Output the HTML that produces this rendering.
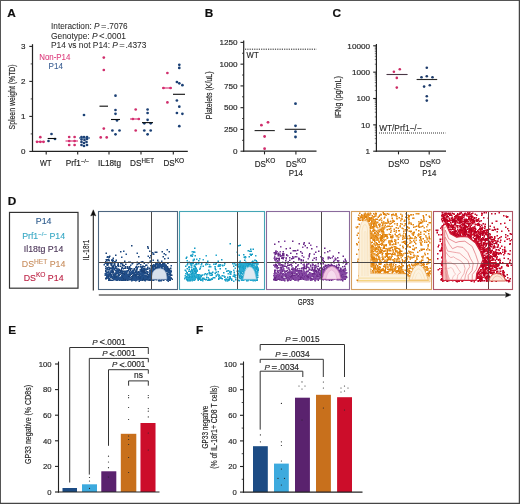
<!DOCTYPE html>
<html><head><meta charset="utf-8"><style>
html,body{margin:0;padding:0;background:#fff;}
svg{display:block;}
text{font-family:"Liberation Sans", sans-serif;}
</style></head><body>
<svg width="520" height="504" viewBox="0 0 520 504">
<defs><filter id="soft" x="0" y="0" width="100%" height="100%"><feGaussianBlur stdDeviation="0.3"/></filter></defs>
<rect width="520" height="504" fill="#fff"/>
<g filter="url(#soft)">
<path d="M0,0.5 H520 M0.5,0 V504" stroke="#555" stroke-width="1" fill="none"/><path d="M519.4,0 V504 M0,503.35 H520" stroke="#454545" stroke-width="1.3" fill="none"/>
<text x="7.3" y="17.2" font-size="11.8" font-weight="bold" fill="#111" stroke="#111" stroke-width="0.2">A</text>
<text x="204.8" y="17.2" font-size="11.8" font-weight="bold" fill="#111" stroke="#111" stroke-width="0.2">B</text>
<text x="332.6" y="17.2" font-size="11.8" font-weight="bold" fill="#111" stroke="#111" stroke-width="0.2">C</text>
<text x="7.8" y="204.6" font-size="11.8" font-weight="bold" fill="#111" stroke="#111" stroke-width="0.2">D</text>
<text x="8.2" y="333.6" font-size="11.8" font-weight="bold" fill="#111" stroke="#111" stroke-width="0.2">E</text>
<text x="196" y="333.6" font-size="11.8" font-weight="bold" fill="#111" stroke="#111" stroke-width="0.2">F</text>
<line x1="32.5" y1="44.2" x2="32.5" y2="152.0" stroke="#222" stroke-width="1.2" />
<line x1="31.9" y1="151.4" x2="187.8" y2="151.4" stroke="#222" stroke-width="1.2" />
<line x1="29.3" y1="151.4" x2="32.5" y2="151.4" stroke="#222" stroke-width="1.1" />
<text transform="translate(25.4,154.20000000000002)" font-size="8" text-anchor="end" fill="#262626" stroke="#262626" stroke-width="0.16" >0</text>
<line x1="29.3" y1="116.4" x2="32.5" y2="116.4" stroke="#222" stroke-width="1.1" />
<text transform="translate(25.4,119.2)" font-size="8" text-anchor="end" fill="#262626" stroke="#262626" stroke-width="0.16" >1</text>
<line x1="29.3" y1="81.4" x2="32.5" y2="81.4" stroke="#222" stroke-width="1.1" />
<text transform="translate(25.4,84.2)" font-size="8" text-anchor="end" fill="#262626" stroke="#262626" stroke-width="0.16" >2</text>
<line x1="29.3" y1="46.400000000000006" x2="32.5" y2="46.400000000000006" stroke="#222" stroke-width="1.1" />
<text transform="translate(25.4,49.2)" font-size="8" text-anchor="end" fill="#262626" stroke="#262626" stroke-width="0.16" >3</text>
<line x1="30.7" y1="133.9" x2="32.5" y2="133.9" stroke="#222" stroke-width="0.8" />
<line x1="30.7" y1="98.9" x2="32.5" y2="98.9" stroke="#222" stroke-width="0.8" />
<line x1="30.7" y1="63.900000000000006" x2="32.5" y2="63.900000000000006" stroke="#222" stroke-width="0.8" />
<line x1="46.2" y1="151.4" x2="46.2" y2="154.6" stroke="#222" stroke-width="1.1" />
<line x1="77.7" y1="151.4" x2="77.7" y2="154.6" stroke="#222" stroke-width="1.1" />
<line x1="109" y1="151.4" x2="109" y2="154.6" stroke="#222" stroke-width="1.1" />
<line x1="141" y1="151.4" x2="141" y2="154.6" stroke="#222" stroke-width="1.1" />
<line x1="173.3" y1="151.4" x2="173.3" y2="154.6" stroke="#222" stroke-width="1.1" />
<text transform="translate(45.8,166.4)" font-size="8.6" text-anchor="middle" fill="#262626" stroke="#262626" stroke-width="0.16" textLength="11.4" lengthAdjust="spacingAndGlyphs" >WT</text>
<text transform="translate(77.5,166.4)" font-size="8.6" text-anchor="middle" fill="#262626" stroke="#262626" stroke-width="0.16" textLength="23.5" lengthAdjust="spacingAndGlyphs" >Prf1<tspan font-size="6" dy="-3.2">−/−</tspan></text>
<text transform="translate(109.5,166.4)" font-size="8.6" text-anchor="middle" fill="#262626" stroke="#262626" stroke-width="0.16" textLength="23" lengthAdjust="spacingAndGlyphs" >IL18tg</text>
<text transform="translate(142,166.4)" font-size="8.6" text-anchor="middle" fill="#262626" stroke="#262626" stroke-width="0.16" textLength="23.8" lengthAdjust="spacingAndGlyphs" >DS<tspan font-size="6.5" dy="-3.2">HET</tspan></text>
<text transform="translate(173.8,166.4)" font-size="8.6" text-anchor="middle" fill="#262626" stroke="#262626" stroke-width="0.16" textLength="20.8" lengthAdjust="spacingAndGlyphs" >DS<tspan font-size="7" dy="-3.2">KO</tspan></text>
<text transform="translate(15.2,96.9) rotate(-90)" font-size="8.6" text-anchor="middle" fill="#262626" stroke="#262626" stroke-width="0.16" textLength="65" lengthAdjust="spacingAndGlyphs" >Spleen weight (%TD)</text>
<text transform="translate(51,28.9)" font-size="8.5" text-anchor="start" fill="#2a2a2a" stroke="#2a2a2a" stroke-width="0.05" textLength="76.7" lengthAdjust="spacingAndGlyphs" >Interaction: <tspan font-style="italic">P</tspan><tspan font-size="9.6" dx="1.5">=</tspan><tspan dx="0.6">.7076</tspan></text>
<text transform="translate(51,38.8)" font-size="8.5" text-anchor="start" fill="#2a2a2a" stroke="#2a2a2a" stroke-width="0.05" textLength="75" lengthAdjust="spacingAndGlyphs" >Genotype: <tspan font-style="italic">P</tspan><tspan font-size="9.6" dx="1.5">&lt;</tspan><tspan dx="0.4">.0001</tspan></text>
<text transform="translate(51,48.4)" font-size="8.5" text-anchor="start" fill="#2a2a2a" stroke="#2a2a2a" stroke-width="0.05" textLength="95.4" lengthAdjust="spacingAndGlyphs" >P14 vs not P14: <tspan font-style="italic">P</tspan><tspan font-size="9.6" dx="1.5">=</tspan><tspan dx="0.6">.4373</tspan></text>
<text transform="translate(39.2,59.9)" font-size="8.4" text-anchor="start" fill="#dc3f7e" stroke="#dc3f7e" stroke-width="0.1" textLength="31.2" lengthAdjust="spacingAndGlyphs" >Non-P14</text>
<text transform="translate(48.6,69.2)" font-size="8.4" text-anchor="start" fill="#3a5f92" stroke="#3a5f92" stroke-width="0.1" textLength="14.4" lengthAdjust="spacingAndGlyphs" >P14</text>
<circle cx="40.3" cy="137.2" r="1.35" fill="#d02e6c"/>
<circle cx="37.0" cy="141.8" r="1.35" fill="#d02e6c"/>
<circle cx="40.3" cy="141.8" r="1.35" fill="#d02e6c"/>
<circle cx="43.5" cy="141.8" r="1.35" fill="#d02e6c"/>
<circle cx="69.2" cy="137.0" r="1.35" fill="#d02e6c"/>
<circle cx="74.6" cy="137.0" r="1.35" fill="#d02e6c"/>
<circle cx="69.2" cy="141.0" r="1.35" fill="#d02e6c"/>
<circle cx="74.6" cy="141.0" r="1.35" fill="#d02e6c"/>
<circle cx="69.2" cy="145.0" r="1.35" fill="#d02e6c"/>
<circle cx="74.6" cy="145.0" r="1.35" fill="#d02e6c"/>
<circle cx="103.8" cy="57.6" r="1.35" fill="#d02e6c"/>
<circle cx="103.8" cy="70.0" r="1.35" fill="#d02e6c"/>
<circle cx="103.8" cy="128.6" r="1.35" fill="#d02e6c"/>
<circle cx="100.7" cy="137.4" r="1.35" fill="#d02e6c"/>
<circle cx="106.7" cy="137.4" r="1.35" fill="#d02e6c"/>
<circle cx="135.7" cy="109.5" r="1.35" fill="#d02e6c"/>
<circle cx="132.9" cy="119.0" r="1.35" fill="#d02e6c"/>
<circle cx="138.8" cy="119.0" r="1.35" fill="#d02e6c"/>
<circle cx="135.7" cy="130.5" r="1.35" fill="#d02e6c"/>
<circle cx="167.4" cy="73.0" r="1.35" fill="#d02e6c"/>
<circle cx="163.5" cy="88.0" r="1.35" fill="#d02e6c"/>
<circle cx="170.5" cy="88.0" r="1.35" fill="#d02e6c"/>
<circle cx="167.4" cy="102.4" r="1.35" fill="#d02e6c"/>
<circle cx="51.5" cy="134.0" r="1.35" fill="#1a3f74"/>
<circle cx="48.5" cy="141.0" r="1.35" fill="#1a3f74"/>
<circle cx="55.0" cy="139.0" r="1.35" fill="#1a3f74"/>
<circle cx="84.0" cy="115.0" r="1.35" fill="#1a3f74"/>
<circle cx="81.5" cy="137.0" r="1.35" fill="#1a3f74"/>
<circle cx="84.0" cy="137.0" r="1.35" fill="#1a3f74"/>
<circle cx="87.0" cy="137.0" r="1.35" fill="#1a3f74"/>
<circle cx="81.5" cy="139.5" r="1.35" fill="#1a3f74"/>
<circle cx="84.5" cy="140.0" r="1.35" fill="#1a3f74"/>
<circle cx="87.0" cy="139.0" r="1.35" fill="#1a3f74"/>
<circle cx="81.5" cy="142.0" r="1.35" fill="#1a3f74"/>
<circle cx="84.0" cy="143.0" r="1.35" fill="#1a3f74"/>
<circle cx="86.5" cy="142.0" r="1.35" fill="#1a3f74"/>
<circle cx="81.5" cy="145.0" r="1.35" fill="#1a3f74"/>
<circle cx="84.0" cy="146.0" r="1.35" fill="#1a3f74"/>
<circle cx="87.0" cy="145.0" r="1.35" fill="#1a3f74"/>
<circle cx="115.5" cy="95.7" r="1.35" fill="#1a3f74"/>
<circle cx="115.5" cy="110.0" r="1.35" fill="#1a3f74"/>
<circle cx="115.5" cy="113.8" r="1.35" fill="#1a3f74"/>
<circle cx="117.0" cy="120.5" r="1.35" fill="#1a3f74"/>
<circle cx="112.4" cy="130.5" r="1.35" fill="#1a3f74"/>
<circle cx="119.5" cy="130.5" r="1.35" fill="#1a3f74"/>
<circle cx="115.5" cy="134.3" r="1.35" fill="#1a3f74"/>
<circle cx="147.6" cy="109.5" r="1.35" fill="#1a3f74"/>
<circle cx="147.6" cy="113.0" r="1.35" fill="#1a3f74"/>
<circle cx="147.6" cy="119.8" r="1.35" fill="#1a3f74"/>
<circle cx="144.3" cy="123.3" r="1.35" fill="#1a3f74"/>
<circle cx="150.7" cy="123.3" r="1.35" fill="#1a3f74"/>
<circle cx="144.3" cy="130.5" r="1.35" fill="#1a3f74"/>
<circle cx="150.7" cy="130.5" r="1.35" fill="#1a3f74"/>
<circle cx="147.6" cy="134.3" r="1.35" fill="#1a3f74"/>
<circle cx="179.3" cy="64.8" r="1.35" fill="#1a3f74"/>
<circle cx="179.3" cy="67.9" r="1.35" fill="#1a3f74"/>
<circle cx="176.9" cy="82.0" r="1.35" fill="#1a3f74"/>
<circle cx="179.3" cy="83.3" r="1.35" fill="#1a3f74"/>
<circle cx="182.4" cy="85.2" r="1.35" fill="#1a3f74"/>
<circle cx="176.9" cy="100.5" r="1.35" fill="#1a3f74"/>
<circle cx="179.3" cy="106.7" r="1.35" fill="#1a3f74"/>
<circle cx="176.9" cy="113.0" r="1.35" fill="#1a3f74"/>
<circle cx="182.4" cy="113.8" r="1.35" fill="#1a3f74"/>
<circle cx="179.3" cy="126.2" r="1.35" fill="#1a3f74"/>
<line x1="36.2" y1="141.8" x2="44.6" y2="141.8" stroke="#d92e74" stroke-width="1.1" />
<line x1="47.7" y1="138.5" x2="56.2" y2="138.5" stroke="#111" stroke-width="1.1" />
<line x1="65.5" y1="141" x2="78" y2="141" stroke="#d92e74" stroke-width="1.1" />
<line x1="79" y1="138" x2="90" y2="138" stroke="#1d4b82" stroke-width="1.1" />
<line x1="99.5" y1="106.2" x2="108" y2="106.2" stroke="#111" stroke-width="1.1" />
<line x1="111" y1="119.5" x2="120" y2="119.5" stroke="#111" stroke-width="1.1" />
<line x1="130" y1="119" x2="140" y2="119" stroke="#d92e74" stroke-width="1.1" />
<line x1="142" y1="122.6" x2="153" y2="122.6" stroke="#111" stroke-width="1.1" />
<line x1="162" y1="88" x2="172" y2="88" stroke="#d92e74" stroke-width="1.1" />
<line x1="173" y1="94.3" x2="185" y2="94.3" stroke="#111" stroke-width="1.1" />
<line x1="243.7" y1="40.5" x2="243.7" y2="151.79999999999998" stroke="#222" stroke-width="1.2" />
<line x1="243.1" y1="151.2" x2="316.5" y2="151.2" stroke="#222" stroke-width="1.2" />
<line x1="240.5" y1="151.2" x2="243.7" y2="151.2" stroke="#222" stroke-width="1.1" />
<text transform="translate(237.6,154.0) scale(1.05,1)" font-size="7.8" text-anchor="end" fill="#262626" stroke="#262626" stroke-width="0.16" >0</text>
<line x1="240.5" y1="129.44" x2="243.7" y2="129.44" stroke="#222" stroke-width="1.1" />
<text transform="translate(237.6,132.24) scale(1.05,1)" font-size="7.8" text-anchor="end" fill="#262626" stroke="#262626" stroke-width="0.16" >250</text>
<line x1="240.5" y1="107.67999999999999" x2="243.7" y2="107.67999999999999" stroke="#222" stroke-width="1.1" />
<text transform="translate(237.6,110.47999999999999) scale(1.05,1)" font-size="7.8" text-anchor="end" fill="#262626" stroke="#262626" stroke-width="0.16" >500</text>
<line x1="240.5" y1="85.91999999999999" x2="243.7" y2="85.91999999999999" stroke="#222" stroke-width="1.1" />
<text transform="translate(237.6,88.71999999999998) scale(1.05,1)" font-size="7.8" text-anchor="end" fill="#262626" stroke="#262626" stroke-width="0.16" >750</text>
<line x1="240.5" y1="64.16" x2="243.7" y2="64.16" stroke="#222" stroke-width="1.1" />
<text transform="translate(237.6,66.96) scale(1.05,1)" font-size="7.8" text-anchor="end" fill="#262626" stroke="#262626" stroke-width="0.16" >1000</text>
<line x1="240.5" y1="42.39999999999999" x2="243.7" y2="42.39999999999999" stroke="#222" stroke-width="1.1" />
<text transform="translate(237.6,45.19999999999999) scale(1.05,1)" font-size="7.8" text-anchor="end" fill="#262626" stroke="#262626" stroke-width="0.16" >1250</text>
<line x1="242.1" y1="140.32" x2="243.7" y2="140.32" stroke="#222" stroke-width="0.9" />
<line x1="242.1" y1="118.55999999999999" x2="243.7" y2="118.55999999999999" stroke="#222" stroke-width="0.9" />
<line x1="242.1" y1="96.79999999999998" x2="243.7" y2="96.79999999999998" stroke="#222" stroke-width="0.9" />
<line x1="242.1" y1="75.03999999999999" x2="243.7" y2="75.03999999999999" stroke="#222" stroke-width="0.9" />
<line x1="242.1" y1="53.28" x2="243.7" y2="53.28" stroke="#222" stroke-width="0.9" />
<line x1="264.5" y1="151.2" x2="264.5" y2="154.39999999999998" stroke="#222" stroke-width="1.1" />
<line x1="295.9" y1="151.2" x2="295.9" y2="154.39999999999998" stroke="#222" stroke-width="1.1" />
<line x1="245" y1="49.2" x2="316.5" y2="49.2" stroke="#222" stroke-width="1" stroke-dasharray="1.2,1.1"/>
<text transform="translate(246.6,57.8)" font-size="8.4" text-anchor="start" fill="#262626" stroke="#262626" stroke-width="0.16" textLength="12" lengthAdjust="spacingAndGlyphs" >WT</text>
<text transform="translate(265,166.6)" font-size="8.6" text-anchor="middle" fill="#262626" stroke="#262626" stroke-width="0.16" textLength="20.6" lengthAdjust="spacingAndGlyphs" >DS<tspan font-size="7" dy="-3.2">KO</tspan></text>
<text transform="translate(296.1,166.6)" font-size="8.6" text-anchor="middle" fill="#262626" stroke="#262626" stroke-width="0.16" textLength="20.2" lengthAdjust="spacingAndGlyphs" >DS<tspan font-size="7" dy="-3.2">KO</tspan></text>
<text transform="translate(295.8,175.9)" font-size="8.5" text-anchor="middle" fill="#262626" stroke="#262626" stroke-width="0.16" textLength="14.2" lengthAdjust="spacingAndGlyphs" >P14</text>
<text transform="translate(212,95.4) rotate(-90)" font-size="9" text-anchor="middle" fill="#262626" stroke="#262626" stroke-width="0.16" textLength="47.7" lengthAdjust="spacingAndGlyphs" >Platelets (K/uL)</text>
<circle cx="261.4" cy="125.2" r="1.4" fill="#d02e6c"/>
<circle cx="268.0" cy="122.3" r="1.4" fill="#d02e6c"/>
<circle cx="264.6" cy="136.5" r="1.4" fill="#d02e6c"/>
<circle cx="264.6" cy="148.7" r="1.4" fill="#d02e6c"/>
<circle cx="295.5" cy="103.7" r="1.4" fill="#1a3f74"/>
<circle cx="295.5" cy="125.8" r="1.4" fill="#1a3f74"/>
<circle cx="295.5" cy="131.7" r="1.4" fill="#1a3f74"/>
<circle cx="295.5" cy="137.0" r="1.4" fill="#1a3f74"/>
<line x1="254.6" y1="130.6" x2="274.8" y2="130.6" stroke="#222" stroke-width="1.1" />
<line x1="284.8" y1="129.3" x2="305.8" y2="129.3" stroke="#222" stroke-width="1.1" />
<line x1="376.4" y1="44" x2="376.4" y2="151.79999999999998" stroke="#222" stroke-width="1.2" />
<line x1="375.79999999999995" y1="151.2" x2="446" y2="151.2" stroke="#222" stroke-width="1.2" />
<line x1="373.2" y1="151.2" x2="376.4" y2="151.2" stroke="#222" stroke-width="1.1" />
<text transform="translate(370.1,154.0) scale(1.05,1)" font-size="7.8" text-anchor="end" fill="#262626" stroke="#262626" stroke-width="0.16" >1</text>
<line x1="373.2" y1="124.85" x2="376.4" y2="124.85" stroke="#222" stroke-width="1.1" />
<text transform="translate(370.1,127.64999999999999) scale(1.05,1)" font-size="7.8" text-anchor="end" fill="#262626" stroke="#262626" stroke-width="0.16" >10</text>
<line x1="373.2" y1="98.49999999999999" x2="376.4" y2="98.49999999999999" stroke="#222" stroke-width="1.1" />
<text transform="translate(370.1,101.29999999999998) scale(1.05,1)" font-size="7.8" text-anchor="end" fill="#262626" stroke="#262626" stroke-width="0.16" >100</text>
<line x1="373.2" y1="72.14999999999998" x2="376.4" y2="72.14999999999998" stroke="#222" stroke-width="1.1" />
<text transform="translate(370.1,74.94999999999997) scale(1.05,1)" font-size="7.8" text-anchor="end" fill="#262626" stroke="#262626" stroke-width="0.16" >1000</text>
<line x1="373.2" y1="45.79999999999998" x2="376.4" y2="45.79999999999998" stroke="#222" stroke-width="1.1" />
<text transform="translate(370.1,48.59999999999998) scale(1.05,1)" font-size="7.8" text-anchor="end" fill="#262626" stroke="#262626" stroke-width="0.16" >10000</text>
<line x1="374.79999999999995" y1="143.2678596142541" x2="376.4" y2="143.2678596142541" stroke="#222" stroke-width="0.6" />
<line x1="374.79999999999995" y1="138.6278549381369" x2="376.4" y2="138.6278549381369" stroke="#222" stroke-width="0.6" />
<line x1="374.79999999999995" y1="135.33571922850817" x2="376.4" y2="135.33571922850817" stroke="#222" stroke-width="0.6" />
<line x1="374.79999999999995" y1="132.7821403857459" x2="376.4" y2="132.7821403857459" stroke="#222" stroke-width="0.6" />
<line x1="374.79999999999995" y1="130.69571455239097" x2="376.4" y2="130.69571455239097" stroke="#222" stroke-width="0.6" />
<line x1="374.79999999999995" y1="128.93166664562432" x2="376.4" y2="128.93166664562432" stroke="#222" stroke-width="0.6" />
<line x1="374.79999999999995" y1="127.40357884276227" x2="376.4" y2="127.40357884276227" stroke="#222" stroke-width="0.6" />
<line x1="374.79999999999995" y1="126.05570987627378" x2="376.4" y2="126.05570987627378" stroke="#222" stroke-width="0.6" />
<line x1="374.79999999999995" y1="116.91785961425408" x2="376.4" y2="116.91785961425408" stroke="#222" stroke-width="0.6" />
<line x1="374.79999999999995" y1="112.27785493813688" x2="376.4" y2="112.27785493813688" stroke="#222" stroke-width="0.6" />
<line x1="374.79999999999995" y1="108.98571922850817" x2="376.4" y2="108.98571922850817" stroke="#222" stroke-width="0.6" />
<line x1="374.79999999999995" y1="106.4321403857459" x2="376.4" y2="106.4321403857459" stroke="#222" stroke-width="0.6" />
<line x1="374.79999999999995" y1="104.34571455239097" x2="376.4" y2="104.34571455239097" stroke="#222" stroke-width="0.6" />
<line x1="374.79999999999995" y1="102.58166664562432" x2="376.4" y2="102.58166664562432" stroke="#222" stroke-width="0.6" />
<line x1="374.79999999999995" y1="101.05357884276228" x2="376.4" y2="101.05357884276228" stroke="#222" stroke-width="0.6" />
<line x1="374.79999999999995" y1="99.70570987627377" x2="376.4" y2="99.70570987627377" stroke="#222" stroke-width="0.6" />
<line x1="374.79999999999995" y1="90.56785961425408" x2="376.4" y2="90.56785961425408" stroke="#222" stroke-width="0.6" />
<line x1="374.79999999999995" y1="85.92785493813687" x2="376.4" y2="85.92785493813687" stroke="#222" stroke-width="0.6" />
<line x1="374.79999999999995" y1="82.63571922850818" x2="376.4" y2="82.63571922850818" stroke="#222" stroke-width="0.6" />
<line x1="374.79999999999995" y1="80.08214038574589" x2="376.4" y2="80.08214038574589" stroke="#222" stroke-width="0.6" />
<line x1="374.79999999999995" y1="77.99571455239096" x2="376.4" y2="77.99571455239096" stroke="#222" stroke-width="0.6" />
<line x1="374.79999999999995" y1="76.23166664562432" x2="376.4" y2="76.23166664562432" stroke="#222" stroke-width="0.6" />
<line x1="374.79999999999995" y1="74.70357884276227" x2="376.4" y2="74.70357884276227" stroke="#222" stroke-width="0.6" />
<line x1="374.79999999999995" y1="73.35570987627378" x2="376.4" y2="73.35570987627378" stroke="#222" stroke-width="0.6" />
<line x1="374.79999999999995" y1="64.21785961425408" x2="376.4" y2="64.21785961425408" stroke="#222" stroke-width="0.6" />
<line x1="374.79999999999995" y1="59.57785493813688" x2="376.4" y2="59.57785493813688" stroke="#222" stroke-width="0.6" />
<line x1="374.79999999999995" y1="56.28571922850817" x2="376.4" y2="56.28571922850817" stroke="#222" stroke-width="0.6" />
<line x1="374.79999999999995" y1="53.73214038574589" x2="376.4" y2="53.73214038574589" stroke="#222" stroke-width="0.6" />
<line x1="374.79999999999995" y1="51.64571455239097" x2="376.4" y2="51.64571455239097" stroke="#222" stroke-width="0.6" />
<line x1="374.79999999999995" y1="49.88166664562431" x2="376.4" y2="49.88166664562431" stroke="#222" stroke-width="0.6" />
<line x1="374.79999999999995" y1="48.35357884276226" x2="376.4" y2="48.35357884276226" stroke="#222" stroke-width="0.6" />
<line x1="374.79999999999995" y1="47.00570987627377" x2="376.4" y2="47.00570987627377" stroke="#222" stroke-width="0.6" />
<line x1="398.5" y1="151.2" x2="398.5" y2="154.39999999999998" stroke="#222" stroke-width="1.1" />
<line x1="429.2" y1="151.2" x2="429.2" y2="154.39999999999998" stroke="#222" stroke-width="1.1" />
<line x1="379" y1="133" x2="445.4" y2="133" stroke="#333" stroke-width="1" stroke-dasharray="1,1"/>
<text transform="translate(379.2,130.8)" font-size="8.8" text-anchor="start" fill="#262626" stroke="#262626" stroke-width="0.1" textLength="42.3" lengthAdjust="spacingAndGlyphs" >WT/Prf1−/−</text>
<text transform="translate(398.7,166.5)" font-size="8.8" text-anchor="middle" fill="#262626" stroke="#262626" stroke-width="0.16" textLength="21" lengthAdjust="spacingAndGlyphs" >DS<tspan font-size="7" dy="-2.8">KO</tspan></text>
<text transform="translate(430.2,166.5)" font-size="8.8" text-anchor="middle" fill="#262626" stroke="#262626" stroke-width="0.16" textLength="21" lengthAdjust="spacingAndGlyphs" >DS<tspan font-size="7" dy="-2.8">KO</tspan></text>
<text transform="translate(429.3,176.2)" font-size="8.5" text-anchor="middle" fill="#262626" stroke="#262626" stroke-width="0.16" textLength="13.9" lengthAdjust="spacingAndGlyphs" >P14</text>
<text transform="translate(340.5,97.1) rotate(-90)" font-size="9" text-anchor="middle" fill="#262626" stroke="#262626" stroke-width="0.16" textLength="41.7" lengthAdjust="spacingAndGlyphs" >IFNg (pg/mL)</text>
<circle cx="393.9" cy="71.8" r="1.3" fill="#cc2a64"/>
<circle cx="399.8" cy="69.2" r="1.3" fill="#cc2a64"/>
<circle cx="396.8" cy="77.9" r="1.3" fill="#cc2a64"/>
<circle cx="396.8" cy="87.6" r="1.3" fill="#cc2a64"/>
<circle cx="426.8" cy="67.8" r="1.3" fill="#1c3a6a"/>
<circle cx="421.5" cy="77.2" r="1.3" fill="#1c3a6a"/>
<circle cx="426.8" cy="76.2" r="1.3" fill="#1c3a6a"/>
<circle cx="432.5" cy="77.2" r="1.3" fill="#1c3a6a"/>
<circle cx="424.1" cy="86.6" r="1.3" fill="#1c3a6a"/>
<circle cx="429.8" cy="85.3" r="1.3" fill="#1c3a6a"/>
<circle cx="426.8" cy="96.3" r="1.3" fill="#1c3a6a"/>
<circle cx="426.8" cy="100.6" r="1.3" fill="#1c3a6a"/>
<line x1="386.5" y1="74.5" x2="407.6" y2="74.5" stroke="#4a3844" stroke-width="1.1" />
<line x1="416.6" y1="79.5" x2="437.2" y2="79.5" stroke="#2a2a2a" stroke-width="1.1" />
<rect x="9.5" y="212.4" width="68.5" height="75.8" fill="none" stroke="#333" stroke-width="1.2"/>
<text transform="translate(43.6,224.4)" font-size="8.8" text-anchor="middle" fill="#2d5a8c" stroke="#2d5a8c" stroke-width="0.12" >P14</text>
<text transform="translate(43.6,238.8)" font-size="8.8" text-anchor="middle" fill="#38a8c4" stroke="#38a8c4" stroke-width="0.12" >Prf1<tspan font-size="6" dy="-3.3">−/−</tspan><tspan dy="3.3"> P14</tspan></text>
<text transform="translate(43.6,251.6)" font-size="8.8" text-anchor="middle" fill="#4b3558" stroke="#4b3558" stroke-width="0.12" >Il18tg P14</text>
<text transform="translate(43.6,267)" font-size="8.8" text-anchor="middle" fill="#c88e5e" stroke="#c88e5e" stroke-width="0.12" >DS<tspan font-size="6.6" dy="-3.3">HET</tspan><tspan dy="3.3"> P14</tspan></text>
<text transform="translate(43.6,280.7)" font-size="8.8" text-anchor="middle" fill="#bc2244" stroke="#bc2244" stroke-width="0.12" >DS<tspan font-size="6.6" dy="-3.3">KO</tspan><tspan dy="3.3"> P14</tspan></text>
<line x1="93.3" y1="214" x2="93.3" y2="290.5" stroke="#222" stroke-width="1.1" />
<path d="M93.3,209.8 L95.9,216 L93.3,214.9 L90.7,216 Z" fill="#111" stroke="#111" stroke-width="0.4"/>
<line x1="98.8" y1="294.9" x2="507" y2="294.9" stroke="#666" stroke-width="1.5" />
<path d="M511,294.9 L505.4,292.5 L506.4,294.9 L505.4,297.3 Z" fill="#111" stroke="#111" stroke-width="0.4"/>
<text transform="translate(89.2,250) rotate(-90)" font-size="9" text-anchor="middle" fill="#262626" stroke="#262626" stroke-width="0.15" textLength="20.5" lengthAdjust="spacingAndGlyphs" >IL-18r1</text>
<text transform="translate(305.8,304.8)" font-size="8.5" text-anchor="middle" fill="#262626" stroke="#262626" stroke-width="0.2" textLength="16" lengthAdjust="spacingAndGlyphs" >GP33</text>
<defs><filter id="bl" x="-5%" y="-5%" width="110%" height="110%"><feGaussianBlur stdDeviation="0.3"/></filter></defs>
<g filter="url(#bl)" transform="scale(0.5)">
<path d="M262 490h3v3h-3zM294 492h3v3h-3zM295 495h3v3h-3zM298 501h3v3h-3zM240 502h3v3h-3zM323 502h3v3h-3zM337 502h3v3h-3zM309 503h3v3h-3zM312 503h3v3h-3zM211 505h3v3h-3zM327 506h3v3h-3zM305 507h3v3h-3zM230 509h3v3h-3zM218 511h3v3h-3zM214 512h3v3h-3zM214 512h3v3h-3zM276 512h3v3h-3zM325 512h3v3h-3zM217 513h3v3h-3zM298 514h3v3h-3zM225 515h3v3h-3zM328 516h3v3h-3zM216 517h3v3h-3zM211 518h3v3h-3zM213 518h3v3h-3zM212 519h3v3h-3zM216 519h3v3h-3zM222 519h3v3h-3zM225 519h3v3h-3zM231 519h3v3h-3zM314 519h3v3h-3zM223 520h3v3h-3zM248 521h3v3h-3zM299 521h3v3h-3zM210 522h3v3h-3zM283 522h3v3h-3zM224 523h3v3h-3zM256 523h3v3h-3zM259 523h3v3h-3zM273 523h3v3h-3zM281 523h3v3h-3zM285 523h3v3h-3zM314 523h3v3h-3zM210 524h3v3h-3zM213 524h3v3h-3zM217 524h3v3h-3zM225 524h3v3h-3zM295 524h3v3h-3zM335 524h3v3h-3zM209 525h3v3h-3zM213 525h3v3h-3zM287 525h3v3h-3zM317 525h3v3h-3zM319 525h3v3h-3zM324 525h3v3h-3zM334 525h3v3h-3zM212 526h3v3h-3zM215 526h3v3h-3zM220 526h3v3h-3zM222 526h3v3h-3zM228 526h3v3h-3zM235 526h3v3h-3zM263 526h3v3h-3zM276 526h3v3h-3zM312 526h3v3h-3zM312 526h3v3h-3zM317 526h3v3h-3zM327 526h3v3h-3zM244 527h3v3h-3zM250 527h3v3h-3zM273 527h3v3h-3zM314 527h3v3h-3zM319 527h3v3h-3zM325 527h3v3h-3zM328 527h3v3h-3zM228 528h3v3h-3zM235 528h3v3h-3zM310 528h3v3h-3zM311 528h3v3h-3zM313 528h3v3h-3zM321 528h3v3h-3zM321 528h3v3h-3zM322 528h3v3h-3zM322 528h3v3h-3zM325 528h3v3h-3zM326 528h3v3h-3zM213 529h3v3h-3zM214 529h3v3h-3zM221 529h3v3h-3zM222 529h3v3h-3zM234 529h3v3h-3zM292 529h3v3h-3zM302 529h3v3h-3zM307 529h3v3h-3zM309 529h3v3h-3zM322 529h3v3h-3zM323 529h3v3h-3zM325 529h3v3h-3zM326 529h3v3h-3zM331 529h3v3h-3zM244 530h3v3h-3zM247 530h3v3h-3zM304 530h3v3h-3zM314 530h3v3h-3zM321 530h3v3h-3zM324 530h3v3h-3zM325 530h3v3h-3zM329 530h3v3h-3zM330 530h3v3h-3zM223 531h3v3h-3zM229 531h3v3h-3zM236 531h3v3h-3zM240 531h3v3h-3zM272 531h3v3h-3zM284 531h3v3h-3zM285 531h3v3h-3zM303 531h3v3h-3zM317 531h3v3h-3zM320 531h3v3h-3zM322 531h3v3h-3zM325 531h3v3h-3zM326 531h3v3h-3zM327 531h3v3h-3zM328 531h3v3h-3zM331 531h3v3h-3zM223 532h3v3h-3zM223 532h3v3h-3zM225 532h3v3h-3zM250 532h3v3h-3zM254 532h3v3h-3zM258 532h3v3h-3zM276 532h3v3h-3zM280 532h3v3h-3zM286 532h3v3h-3zM288 532h3v3h-3zM305 532h3v3h-3zM307 532h3v3h-3zM309 532h3v3h-3zM313 532h3v3h-3zM314 532h3v3h-3zM315 532h3v3h-3zM317 532h3v3h-3zM322 532h3v3h-3zM323 532h3v3h-3zM324 532h3v3h-3zM326 532h3v3h-3zM331 532h3v3h-3zM332 532h3v3h-3zM332 532h3v3h-3zM333 532h3v3h-3zM216 533h3v3h-3zM270 533h3v3h-3zM283 533h3v3h-3zM304 533h3v3h-3zM310 533h3v3h-3zM315 533h3v3h-3zM318 533h3v3h-3zM322 533h3v3h-3zM329 533h3v3h-3zM332 533h3v3h-3zM332 533h3v3h-3zM334 533h3v3h-3zM213 534h3v3h-3zM217 534h3v3h-3zM218 534h3v3h-3zM224 534h3v3h-3zM230 534h3v3h-3zM243 534h3v3h-3zM281 534h3v3h-3zM313 534h3v3h-3zM322 534h3v3h-3zM328 534h3v3h-3zM328 534h3v3h-3zM334 534h3v3h-3zM334 534h3v3h-3zM217 535h3v3h-3zM221 535h3v3h-3zM227 535h3v3h-3zM242 535h3v3h-3zM247 535h3v3h-3zM250 535h3v3h-3zM254 535h3v3h-3zM258 535h3v3h-3zM297 535h3v3h-3zM297 535h3v3h-3zM301 535h3v3h-3zM304 535h3v3h-3zM304 535h3v3h-3zM313 535h3v3h-3zM315 535h3v3h-3zM330 535h3v3h-3zM332 535h3v3h-3zM340 535h3v3h-3zM210 536h3v3h-3zM217 536h3v3h-3zM219 536h3v3h-3zM225 536h3v3h-3zM232 536h3v3h-3zM257 536h3v3h-3zM260 536h3v3h-3zM262 536h3v3h-3zM267 536h3v3h-3zM273 536h3v3h-3zM273 536h3v3h-3zM285 536h3v3h-3zM288 536h3v3h-3zM309 536h3v3h-3zM312 536h3v3h-3zM323 536h3v3h-3zM327 536h3v3h-3zM327 536h3v3h-3zM329 536h3v3h-3zM329 536h3v3h-3zM330 536h3v3h-3zM335 536h3v3h-3zM336 536h3v3h-3zM223 537h3v3h-3zM227 537h3v3h-3zM233 537h3v3h-3zM236 537h3v3h-3zM267 537h3v3h-3zM268 537h3v3h-3zM272 537h3v3h-3zM282 537h3v3h-3zM294 537h3v3h-3zM305 537h3v3h-3zM306 537h3v3h-3zM312 537h3v3h-3zM320 537h3v3h-3zM322 537h3v3h-3zM331 537h3v3h-3zM334 537h3v3h-3zM335 537h3v3h-3zM337 537h3v3h-3zM213 538h3v3h-3zM217 538h3v3h-3zM237 538h3v3h-3zM241 538h3v3h-3zM267 538h3v3h-3zM280 538h3v3h-3zM287 538h3v3h-3zM305 538h3v3h-3zM305 538h3v3h-3zM306 538h3v3h-3zM312 538h3v3h-3zM313 538h3v3h-3zM319 538h3v3h-3zM328 538h3v3h-3zM328 538h3v3h-3zM329 538h3v3h-3zM329 538h3v3h-3zM329 538h3v3h-3zM335 538h3v3h-3zM336 538h3v3h-3zM229 539h3v3h-3zM236 539h3v3h-3zM237 539h3v3h-3zM259 539h3v3h-3zM265 539h3v3h-3zM284 539h3v3h-3zM288 539h3v3h-3zM299 539h3v3h-3zM300 539h3v3h-3zM302 539h3v3h-3zM305 539h3v3h-3zM309 539h3v3h-3zM309 539h3v3h-3zM313 539h3v3h-3zM322 539h3v3h-3zM323 539h3v3h-3zM324 539h3v3h-3zM330 539h3v3h-3zM334 539h3v3h-3zM337 539h3v3h-3zM210 540h3v3h-3zM221 540h3v3h-3zM224 540h3v3h-3zM234 540h3v3h-3zM239 540h3v3h-3zM241 540h3v3h-3zM242 540h3v3h-3zM255 540h3v3h-3zM271 540h3v3h-3zM272 540h3v3h-3zM282 540h3v3h-3zM286 540h3v3h-3zM287 540h3v3h-3zM298 540h3v3h-3zM300 540h3v3h-3zM301 540h3v3h-3zM301 540h3v3h-3zM303 540h3v3h-3zM305 540h3v3h-3zM305 540h3v3h-3zM310 540h3v3h-3zM314 540h3v3h-3zM315 540h3v3h-3zM332 540h3v3h-3zM333 540h3v3h-3zM337 540h3v3h-3zM338 540h3v3h-3zM210 541h3v3h-3zM221 541h3v3h-3zM225 541h3v3h-3zM231 541h3v3h-3zM244 541h3v3h-3zM247 541h3v3h-3zM248 541h3v3h-3zM249 541h3v3h-3zM269 541h3v3h-3zM269 541h3v3h-3zM271 541h3v3h-3zM272 541h3v3h-3zM280 541h3v3h-3zM287 541h3v3h-3zM291 541h3v3h-3zM301 541h3v3h-3zM303 541h3v3h-3zM303 541h3v3h-3zM307 541h3v3h-3zM325 541h3v3h-3zM329 541h3v3h-3zM330 541h3v3h-3zM331 541h3v3h-3zM332 541h3v3h-3zM336 541h3v3h-3zM341 541h3v3h-3zM223 542h3v3h-3zM234 542h3v3h-3zM235 542h3v3h-3zM240 542h3v3h-3zM245 542h3v3h-3zM246 542h3v3h-3zM248 542h3v3h-3zM250 542h3v3h-3zM258 542h3v3h-3zM265 542h3v3h-3zM276 542h3v3h-3zM282 542h3v3h-3zM285 542h3v3h-3zM287 542h3v3h-3zM293 542h3v3h-3zM293 542h3v3h-3zM299 542h3v3h-3zM300 542h3v3h-3zM302 542h3v3h-3zM306 542h3v3h-3zM306 542h3v3h-3zM308 542h3v3h-3zM316 542h3v3h-3zM335 542h3v3h-3zM338 542h3v3h-3zM339 542h3v3h-3zM340 542h3v3h-3zM212 543h3v3h-3zM219 543h3v3h-3zM221 543h3v3h-3zM225 543h3v3h-3zM237 543h3v3h-3zM240 543h3v3h-3zM241 543h3v3h-3zM248 543h3v3h-3zM262 543h3v3h-3zM273 543h3v3h-3zM285 543h3v3h-3zM288 543h3v3h-3zM289 543h3v3h-3zM294 543h3v3h-3zM300 543h3v3h-3zM302 543h3v3h-3zM307 543h3v3h-3zM314 543h3v3h-3zM321 543h3v3h-3zM321 543h3v3h-3zM322 543h3v3h-3zM322 543h3v3h-3zM322 543h3v3h-3zM327 543h3v3h-3zM327 543h3v3h-3zM329 543h3v3h-3zM335 543h3v3h-3zM215 544h3v3h-3zM224 544h3v3h-3zM234 544h3v3h-3zM235 544h3v3h-3zM241 544h3v3h-3zM244 544h3v3h-3zM252 544h3v3h-3zM264 544h3v3h-3zM268 544h3v3h-3zM269 544h3v3h-3zM270 544h3v3h-3zM275 544h3v3h-3zM300 544h3v3h-3zM303 544h3v3h-3zM306 544h3v3h-3zM307 544h3v3h-3zM309 544h3v3h-3zM312 544h3v3h-3zM315 544h3v3h-3zM318 544h3v3h-3zM323 544h3v3h-3zM326 544h3v3h-3zM337 544h3v3h-3zM338 544h3v3h-3zM212 545h3v3h-3zM229 545h3v3h-3zM231 545h3v3h-3zM234 545h3v3h-3zM248 545h3v3h-3zM248 545h3v3h-3zM261 545h3v3h-3zM262 545h3v3h-3zM265 545h3v3h-3zM279 545h3v3h-3zM279 545h3v3h-3zM282 545h3v3h-3zM282 545h3v3h-3zM289 545h3v3h-3zM293 545h3v3h-3zM298 545h3v3h-3zM300 545h3v3h-3zM301 545h3v3h-3zM301 545h3v3h-3zM319 545h3v3h-3zM319 545h3v3h-3zM321 545h3v3h-3zM321 545h3v3h-3zM322 545h3v3h-3zM332 545h3v3h-3zM338 545h3v3h-3zM338 545h3v3h-3zM339 545h3v3h-3zM212 546h3v3h-3zM218 546h3v3h-3zM219 546h3v3h-3zM231 546h3v3h-3zM242 546h3v3h-3zM243 546h3v3h-3zM245 546h3v3h-3zM250 546h3v3h-3zM251 546h3v3h-3zM262 546h3v3h-3zM267 546h3v3h-3zM268 546h3v3h-3zM272 546h3v3h-3zM278 546h3v3h-3zM285 546h3v3h-3zM285 546h3v3h-3zM287 546h3v3h-3zM288 546h3v3h-3zM288 546h3v3h-3zM292 546h3v3h-3zM300 546h3v3h-3zM301 546h3v3h-3zM301 546h3v3h-3zM301 546h3v3h-3zM302 546h3v3h-3zM303 546h3v3h-3zM305 546h3v3h-3zM308 546h3v3h-3zM310 546h3v3h-3zM319 546h3v3h-3zM320 546h3v3h-3zM321 546h3v3h-3zM321 546h3v3h-3zM321 546h3v3h-3zM321 546h3v3h-3zM323 546h3v3h-3zM330 546h3v3h-3zM330 546h3v3h-3zM330 546h3v3h-3zM333 546h3v3h-3zM339 546h3v3h-3zM217 547h3v3h-3zM225 547h3v3h-3zM227 547h3v3h-3zM236 547h3v3h-3zM239 547h3v3h-3zM250 547h3v3h-3zM250 547h3v3h-3zM256 547h3v3h-3zM260 547h3v3h-3zM261 547h3v3h-3zM273 547h3v3h-3zM277 547h3v3h-3zM279 547h3v3h-3zM280 547h3v3h-3zM284 547h3v3h-3zM284 547h3v3h-3zM294 547h3v3h-3zM298 547h3v3h-3zM299 547h3v3h-3zM304 547h3v3h-3zM315 547h3v3h-3zM317 547h3v3h-3zM321 547h3v3h-3zM333 547h3v3h-3zM333 547h3v3h-3zM334 547h3v3h-3zM338 547h3v3h-3zM339 547h3v3h-3zM340 547h3v3h-3zM211 548h3v3h-3zM216 548h3v3h-3zM219 548h3v3h-3zM220 548h3v3h-3zM221 548h3v3h-3zM226 548h3v3h-3zM228 548h3v3h-3zM246 548h3v3h-3zM248 548h3v3h-3zM248 548h3v3h-3zM249 548h3v3h-3zM255 548h3v3h-3zM258 548h3v3h-3zM266 548h3v3h-3zM267 548h3v3h-3zM271 548h3v3h-3zM276 548h3v3h-3zM277 548h3v3h-3zM278 548h3v3h-3zM279 548h3v3h-3zM283 548h3v3h-3zM284 548h3v3h-3zM284 548h3v3h-3zM295 548h3v3h-3zM316 548h3v3h-3zM328 548h3v3h-3zM329 548h3v3h-3zM329 548h3v3h-3zM332 548h3v3h-3zM337 548h3v3h-3zM209 549h3v3h-3zM209 549h3v3h-3zM211 549h3v3h-3zM212 549h3v3h-3zM215 549h3v3h-3zM215 549h3v3h-3zM216 549h3v3h-3zM217 549h3v3h-3zM227 549h3v3h-3zM230 549h3v3h-3zM237 549h3v3h-3zM252 549h3v3h-3zM254 549h3v3h-3zM256 549h3v3h-3zM265 549h3v3h-3zM268 549h3v3h-3zM281 549h3v3h-3zM282 549h3v3h-3zM283 549h3v3h-3zM284 549h3v3h-3zM296 549h3v3h-3zM298 549h3v3h-3zM300 549h3v3h-3zM301 549h3v3h-3zM303 549h3v3h-3zM304 549h3v3h-3zM310 549h3v3h-3zM325 549h3v3h-3zM328 549h3v3h-3zM331 549h3v3h-3zM333 549h3v3h-3zM342 549h3v3h-3zM213 550h3v3h-3zM215 550h3v3h-3zM215 550h3v3h-3zM217 550h3v3h-3zM235 550h3v3h-3zM242 550h3v3h-3zM249 550h3v3h-3zM251 550h3v3h-3zM251 550h3v3h-3zM251 550h3v3h-3zM264 550h3v3h-3zM277 550h3v3h-3zM281 550h3v3h-3zM284 550h3v3h-3zM284 550h3v3h-3zM288 550h3v3h-3zM291 550h3v3h-3zM295 550h3v3h-3zM296 550h3v3h-3zM297 550h3v3h-3zM298 550h3v3h-3zM302 550h3v3h-3zM305 550h3v3h-3zM306 550h3v3h-3zM314 550h3v3h-3zM316 550h3v3h-3zM317 550h3v3h-3zM319 550h3v3h-3zM320 550h3v3h-3zM329 550h3v3h-3zM330 550h3v3h-3zM339 550h3v3h-3zM339 550h3v3h-3zM213 551h3v3h-3zM214 551h3v3h-3zM215 551h3v3h-3zM222 551h3v3h-3zM224 551h3v3h-3zM224 551h3v3h-3zM230 551h3v3h-3zM231 551h3v3h-3zM233 551h3v3h-3zM246 551h3v3h-3zM247 551h3v3h-3zM248 551h3v3h-3zM249 551h3v3h-3zM252 551h3v3h-3zM254 551h3v3h-3zM256 551h3v3h-3zM258 551h3v3h-3zM267 551h3v3h-3zM267 551h3v3h-3zM269 551h3v3h-3zM272 551h3v3h-3zM282 551h3v3h-3zM284 551h3v3h-3zM284 551h3v3h-3zM285 551h3v3h-3zM286 551h3v3h-3zM287 551h3v3h-3zM291 551h3v3h-3zM293 551h3v3h-3zM297 551h3v3h-3zM299 551h3v3h-3zM300 551h3v3h-3zM300 551h3v3h-3zM302 551h3v3h-3zM309 551h3v3h-3zM315 551h3v3h-3zM317 551h3v3h-3zM318 551h3v3h-3zM319 551h3v3h-3zM325 551h3v3h-3zM331 551h3v3h-3zM331 551h3v3h-3zM335 551h3v3h-3zM335 551h3v3h-3zM213 552h3v3h-3zM215 552h3v3h-3zM222 552h3v3h-3zM223 552h3v3h-3zM224 552h3v3h-3zM228 552h3v3h-3zM230 552h3v3h-3zM232 552h3v3h-3zM232 552h3v3h-3zM245 552h3v3h-3zM249 552h3v3h-3zM250 552h3v3h-3zM252 552h3v3h-3zM254 552h3v3h-3zM257 552h3v3h-3zM262 552h3v3h-3zM264 552h3v3h-3zM265 552h3v3h-3zM268 552h3v3h-3zM270 552h3v3h-3zM273 552h3v3h-3zM274 552h3v3h-3zM275 552h3v3h-3zM276 552h3v3h-3zM280 552h3v3h-3zM282 552h3v3h-3zM283 552h3v3h-3zM283 552h3v3h-3zM284 552h3v3h-3zM284 552h3v3h-3zM285 552h3v3h-3zM290 552h3v3h-3zM290 552h3v3h-3zM295 552h3v3h-3zM295 552h3v3h-3zM297 552h3v3h-3zM300 552h3v3h-3zM301 552h3v3h-3zM311 552h3v3h-3zM314 552h3v3h-3zM314 552h3v3h-3zM315 552h3v3h-3zM320 552h3v3h-3zM329 552h3v3h-3zM330 552h3v3h-3zM336 552h3v3h-3zM212 553h3v3h-3zM216 553h3v3h-3zM220 553h3v3h-3zM221 553h3v3h-3zM221 553h3v3h-3zM227 553h3v3h-3zM229 553h3v3h-3zM232 553h3v3h-3zM232 553h3v3h-3zM235 553h3v3h-3zM235 553h3v3h-3zM241 553h3v3h-3zM242 553h3v3h-3zM245 553h3v3h-3zM252 553h3v3h-3zM253 553h3v3h-3zM254 553h3v3h-3zM254 553h3v3h-3zM256 553h3v3h-3zM256 553h3v3h-3zM257 553h3v3h-3zM263 553h3v3h-3zM266 553h3v3h-3zM268 553h3v3h-3zM272 553h3v3h-3zM277 553h3v3h-3zM279 553h3v3h-3zM280 553h3v3h-3zM282 553h3v3h-3zM286 553h3v3h-3zM290 553h3v3h-3zM290 553h3v3h-3zM292 553h3v3h-3zM293 553h3v3h-3zM294 553h3v3h-3zM296 553h3v3h-3zM315 553h3v3h-3zM317 553h3v3h-3zM317 553h3v3h-3zM319 553h3v3h-3zM321 553h3v3h-3zM321 553h3v3h-3zM212 554h3v3h-3zM212 554h3v3h-3zM213 554h3v3h-3zM213 554h3v3h-3zM213 554h3v3h-3zM214 554h3v3h-3zM215 554h3v3h-3zM225 554h3v3h-3zM225 554h3v3h-3zM227 554h3v3h-3zM233 554h3v3h-3zM236 554h3v3h-3zM238 554h3v3h-3zM238 554h3v3h-3zM248 554h3v3h-3zM253 554h3v3h-3zM255 554h3v3h-3zM259 554h3v3h-3zM268 554h3v3h-3zM273 554h3v3h-3zM276 554h3v3h-3zM276 554h3v3h-3zM277 554h3v3h-3zM278 554h3v3h-3zM279 554h3v3h-3zM280 554h3v3h-3zM283 554h3v3h-3zM284 554h3v3h-3zM285 554h3v3h-3zM287 554h3v3h-3zM289 554h3v3h-3zM290 554h3v3h-3zM290 554h3v3h-3zM291 554h3v3h-3zM291 554h3v3h-3zM299 554h3v3h-3zM303 554h3v3h-3zM307 554h3v3h-3zM310 554h3v3h-3zM311 554h3v3h-3zM314 554h3v3h-3zM315 554h3v3h-3zM317 554h3v3h-3zM319 554h3v3h-3zM321 554h3v3h-3zM336 554h3v3h-3zM336 554h3v3h-3zM338 554h3v3h-3zM340 554h3v3h-3zM210 555h3v3h-3zM211 555h3v3h-3zM215 555h3v3h-3zM216 555h3v3h-3zM223 555h3v3h-3zM226 555h3v3h-3zM232 555h3v3h-3zM238 555h3v3h-3zM238 555h3v3h-3zM238 555h3v3h-3zM239 555h3v3h-3zM239 555h3v3h-3zM239 555h3v3h-3zM245 555h3v3h-3zM248 555h3v3h-3zM250 555h3v3h-3zM254 555h3v3h-3zM254 555h3v3h-3zM256 555h3v3h-3zM264 555h3v3h-3zM265 555h3v3h-3zM266 555h3v3h-3zM268 555h3v3h-3zM268 555h3v3h-3zM270 555h3v3h-3zM272 555h3v3h-3zM275 555h3v3h-3zM275 555h3v3h-3zM283 555h3v3h-3zM283 555h3v3h-3zM287 555h3v3h-3zM288 555h3v3h-3zM289 555h3v3h-3zM290 555h3v3h-3zM295 555h3v3h-3zM313 555h3v3h-3zM314 555h3v3h-3zM316 555h3v3h-3zM317 555h3v3h-3zM319 555h3v3h-3zM319 555h3v3h-3zM330 555h3v3h-3zM332 555h3v3h-3zM334 555h3v3h-3zM336 555h3v3h-3zM336 555h3v3h-3zM341 555h3v3h-3zM210 556h3v3h-3zM211 556h3v3h-3zM218 556h3v3h-3zM226 556h3v3h-3zM227 556h3v3h-3zM235 556h3v3h-3zM239 556h3v3h-3zM250 556h3v3h-3zM252 556h3v3h-3zM254 556h3v3h-3zM254 556h3v3h-3zM255 556h3v3h-3zM261 556h3v3h-3zM266 556h3v3h-3zM276 556h3v3h-3zM278 556h3v3h-3zM279 556h3v3h-3zM282 556h3v3h-3zM285 556h3v3h-3zM286 556h3v3h-3zM294 556h3v3h-3zM300 556h3v3h-3zM300 556h3v3h-3zM304 556h3v3h-3zM311 556h3v3h-3zM316 556h3v3h-3zM317 556h3v3h-3zM319 556h3v3h-3zM322 556h3v3h-3zM324 556h3v3h-3zM329 556h3v3h-3zM229 557h3v3h-3zM234 557h3v3h-3zM237 557h3v3h-3zM247 557h3v3h-3zM250 557h3v3h-3zM254 557h3v3h-3zM256 557h3v3h-3zM266 557h3v3h-3zM271 557h3v3h-3zM273 557h3v3h-3zM273 557h3v3h-3zM277 557h3v3h-3zM278 557h3v3h-3zM279 557h3v3h-3zM281 557h3v3h-3zM283 557h3v3h-3zM298 557h3v3h-3zM300 557h3v3h-3zM301 557h3v3h-3zM302 557h3v3h-3zM303 557h3v3h-3zM304 557h3v3h-3zM305 557h3v3h-3zM306 557h3v3h-3zM311 557h3v3h-3zM322 557h3v3h-3zM330 557h3v3h-3zM331 557h3v3h-3zM333 557h3v3h-3zM333 557h3v3h-3zM339 557h3v3h-3zM343 557h3v3h-3zM229 558h3v3h-3zM229 558h3v3h-3zM237 558h3v3h-3zM239 558h3v3h-3zM243 558h3v3h-3zM244 558h3v3h-3zM253 558h3v3h-3zM257 558h3v3h-3zM260 558h3v3h-3zM262 558h3v3h-3zM262 558h3v3h-3zM267 558h3v3h-3zM269 558h3v3h-3zM270 558h3v3h-3zM273 558h3v3h-3zM278 558h3v3h-3zM280 558h3v3h-3zM283 558h3v3h-3zM286 558h3v3h-3zM289 558h3v3h-3zM292 558h3v3h-3zM295 558h3v3h-3zM303 558h3v3h-3zM308 558h3v3h-3zM312 558h3v3h-3zM327 558h3v3h-3zM332 558h3v3h-3zM332 558h3v3h-3zM333 558h3v3h-3zM335 558h3v3h-3zM336 558h3v3h-3zM337 558h3v3h-3zM338 558h3v3h-3zM339 558h3v3h-3zM216 559h3v3h-3zM219 559h3v3h-3zM221 559h3v3h-3zM224 559h3v3h-3zM238 559h3v3h-3zM238 559h3v3h-3zM242 559h3v3h-3zM243 559h3v3h-3zM244 559h3v3h-3zM246 559h3v3h-3zM246 559h3v3h-3zM248 559h3v3h-3zM250 559h3v3h-3zM250 559h3v3h-3zM254 559h3v3h-3zM267 559h3v3h-3zM269 559h3v3h-3zM269 559h3v3h-3zM269 559h3v3h-3zM269 559h3v3h-3zM270 559h3v3h-3zM270 559h3v3h-3zM280 559h3v3h-3zM284 559h3v3h-3zM284 559h3v3h-3zM288 559h3v3h-3zM297 559h3v3h-3zM299 559h3v3h-3zM305 559h3v3h-3zM325 559h3v3h-3zM334 559h3v3h-3zM334 559h3v3h-3zM338 559h3v3h-3zM338 559h3v3h-3zM339 559h3v3h-3zM262 560h3v3h-3zM316 560h3v3h-3zM277 561h3v3h-3z" fill="#1b4378"/>
<path d="M333 498h3v3h-3zM246 501h3v3h-3zM304 504h3v3h-3zM273 505h3v3h-3zM251 507h3v3h-3zM306 507h3v3h-3zM330 508h3v3h-3zM300 510h3v3h-3zM295 511h3v3h-3zM213 513h3v3h-3zM214 513h3v3h-3zM242 513h3v3h-3zM335 515h3v3h-3zM223 518h3v3h-3zM305 519h3v3h-3zM217 520h3v3h-3zM300 521h3v3h-3zM322 521h3v3h-3zM227 522h3v3h-3zM230 522h3v3h-3zM213 523h3v3h-3zM316 523h3v3h-3zM218 524h3v3h-3zM235 524h3v3h-3zM265 524h3v3h-3zM211 525h3v3h-3zM277 525h3v3h-3zM313 525h3v3h-3zM240 526h3v3h-3zM242 526h3v3h-3zM310 526h3v3h-3zM312 526h3v3h-3zM328 527h3v3h-3zM207 528h3v3h-3zM280 528h3v3h-3zM306 528h3v3h-3zM315 528h3v3h-3zM317 528h3v3h-3zM321 528h3v3h-3zM327 528h3v3h-3zM226 529h3v3h-3zM260 529h3v3h-3zM290 529h3v3h-3zM313 529h3v3h-3zM320 529h3v3h-3zM324 529h3v3h-3zM328 529h3v3h-3zM300 530h3v3h-3zM306 530h3v3h-3zM315 530h3v3h-3zM317 530h3v3h-3zM322 530h3v3h-3zM341 530h3v3h-3zM319 531h3v3h-3zM320 531h3v3h-3zM320 531h3v3h-3zM327 531h3v3h-3zM331 531h3v3h-3zM210 532h3v3h-3zM232 532h3v3h-3zM315 532h3v3h-3zM318 532h3v3h-3zM282 533h3v3h-3zM294 533h3v3h-3zM330 533h3v3h-3zM213 534h3v3h-3zM217 534h3v3h-3zM271 534h3v3h-3zM272 534h3v3h-3zM273 534h3v3h-3zM306 534h3v3h-3zM318 534h3v3h-3zM331 534h3v3h-3zM229 535h3v3h-3zM256 535h3v3h-3zM301 535h3v3h-3zM306 535h3v3h-3zM317 535h3v3h-3zM323 535h3v3h-3zM225 536h3v3h-3zM245 536h3v3h-3zM293 536h3v3h-3zM303 536h3v3h-3zM327 536h3v3h-3zM332 536h3v3h-3zM213 537h3v3h-3zM223 537h3v3h-3zM235 537h3v3h-3zM256 537h3v3h-3zM284 537h3v3h-3zM286 537h3v3h-3zM290 537h3v3h-3zM301 537h3v3h-3zM301 537h3v3h-3zM312 537h3v3h-3zM323 537h3v3h-3zM330 537h3v3h-3zM332 537h3v3h-3zM216 538h3v3h-3zM279 538h3v3h-3zM291 538h3v3h-3zM311 538h3v3h-3zM318 538h3v3h-3zM234 539h3v3h-3zM298 539h3v3h-3zM305 539h3v3h-3zM317 539h3v3h-3zM318 539h3v3h-3zM340 539h3v3h-3zM221 540h3v3h-3zM231 540h3v3h-3zM233 540h3v3h-3zM253 540h3v3h-3zM263 540h3v3h-3zM263 540h3v3h-3zM271 540h3v3h-3zM304 540h3v3h-3zM308 540h3v3h-3zM330 540h3v3h-3zM252 541h3v3h-3zM265 541h3v3h-3zM279 541h3v3h-3zM299 541h3v3h-3zM306 541h3v3h-3zM317 541h3v3h-3zM325 541h3v3h-3zM333 541h3v3h-3zM335 541h3v3h-3zM215 542h3v3h-3zM216 542h3v3h-3zM253 542h3v3h-3zM261 542h3v3h-3zM264 542h3v3h-3zM292 542h3v3h-3zM301 542h3v3h-3zM302 542h3v3h-3zM308 542h3v3h-3zM336 542h3v3h-3zM339 542h3v3h-3zM211 543h3v3h-3zM215 543h3v3h-3zM220 543h3v3h-3zM220 543h3v3h-3zM235 543h3v3h-3zM242 543h3v3h-3zM248 543h3v3h-3zM251 543h3v3h-3zM257 543h3v3h-3zM278 543h3v3h-3zM294 543h3v3h-3zM300 543h3v3h-3zM302 543h3v3h-3zM310 543h3v3h-3zM323 543h3v3h-3zM340 543h3v3h-3zM231 544h3v3h-3zM232 544h3v3h-3zM249 544h3v3h-3zM260 544h3v3h-3zM267 544h3v3h-3zM273 544h3v3h-3zM282 544h3v3h-3zM293 544h3v3h-3zM303 544h3v3h-3zM307 544h3v3h-3zM317 544h3v3h-3zM318 544h3v3h-3zM217 545h3v3h-3zM229 545h3v3h-3zM258 545h3v3h-3zM261 545h3v3h-3zM272 545h3v3h-3zM278 545h3v3h-3zM280 545h3v3h-3zM299 545h3v3h-3zM304 545h3v3h-3zM328 545h3v3h-3zM209 546h3v3h-3zM210 546h3v3h-3zM211 546h3v3h-3zM217 546h3v3h-3zM234 546h3v3h-3zM235 546h3v3h-3zM273 546h3v3h-3zM277 546h3v3h-3zM281 546h3v3h-3zM286 546h3v3h-3zM290 546h3v3h-3zM317 546h3v3h-3zM319 546h3v3h-3zM319 546h3v3h-3zM338 546h3v3h-3zM211 547h3v3h-3zM211 547h3v3h-3zM222 547h3v3h-3zM227 547h3v3h-3zM238 547h3v3h-3zM250 547h3v3h-3zM254 547h3v3h-3zM266 547h3v3h-3zM266 547h3v3h-3zM279 547h3v3h-3zM280 547h3v3h-3zM282 547h3v3h-3zM283 547h3v3h-3zM286 547h3v3h-3zM286 547h3v3h-3zM298 547h3v3h-3zM300 547h3v3h-3zM300 547h3v3h-3zM314 547h3v3h-3zM318 547h3v3h-3zM335 547h3v3h-3zM214 548h3v3h-3zM244 548h3v3h-3zM245 548h3v3h-3zM250 548h3v3h-3zM251 548h3v3h-3zM255 548h3v3h-3zM281 548h3v3h-3zM302 548h3v3h-3zM303 548h3v3h-3zM320 548h3v3h-3zM210 549h3v3h-3zM214 549h3v3h-3zM243 549h3v3h-3zM252 549h3v3h-3zM254 549h3v3h-3zM258 549h3v3h-3zM259 549h3v3h-3zM281 549h3v3h-3zM286 549h3v3h-3zM297 549h3v3h-3zM299 549h3v3h-3zM328 549h3v3h-3zM329 549h3v3h-3zM218 550h3v3h-3zM219 550h3v3h-3zM229 550h3v3h-3zM247 550h3v3h-3zM291 550h3v3h-3zM296 550h3v3h-3zM313 550h3v3h-3zM319 550h3v3h-3zM212 551h3v3h-3zM225 551h3v3h-3zM236 551h3v3h-3zM249 551h3v3h-3zM251 551h3v3h-3zM253 551h3v3h-3zM267 551h3v3h-3zM273 551h3v3h-3zM284 551h3v3h-3zM286 551h3v3h-3zM287 551h3v3h-3zM302 551h3v3h-3zM322 551h3v3h-3zM334 551h3v3h-3zM219 552h3v3h-3zM234 552h3v3h-3zM242 552h3v3h-3zM252 552h3v3h-3zM278 552h3v3h-3zM283 552h3v3h-3zM299 552h3v3h-3zM302 552h3v3h-3zM317 552h3v3h-3zM321 552h3v3h-3zM332 552h3v3h-3zM333 552h3v3h-3zM337 552h3v3h-3zM337 552h3v3h-3zM338 552h3v3h-3zM222 553h3v3h-3zM224 553h3v3h-3zM234 553h3v3h-3zM240 553h3v3h-3zM240 553h3v3h-3zM246 553h3v3h-3zM248 553h3v3h-3zM266 553h3v3h-3zM267 553h3v3h-3zM270 553h3v3h-3zM270 553h3v3h-3zM282 553h3v3h-3zM288 553h3v3h-3zM290 553h3v3h-3zM299 553h3v3h-3zM299 553h3v3h-3zM322 553h3v3h-3zM330 553h3v3h-3zM214 554h3v3h-3zM237 554h3v3h-3zM250 554h3v3h-3zM251 554h3v3h-3zM254 554h3v3h-3zM257 554h3v3h-3zM260 554h3v3h-3zM266 554h3v3h-3zM269 554h3v3h-3zM274 554h3v3h-3zM284 554h3v3h-3zM292 554h3v3h-3zM298 554h3v3h-3zM305 554h3v3h-3zM309 554h3v3h-3zM315 554h3v3h-3zM334 554h3v3h-3zM339 554h3v3h-3zM226 555h3v3h-3zM230 555h3v3h-3zM231 555h3v3h-3zM233 555h3v3h-3zM248 555h3v3h-3zM265 555h3v3h-3zM266 555h3v3h-3zM267 555h3v3h-3zM270 555h3v3h-3zM291 555h3v3h-3zM296 555h3v3h-3zM300 555h3v3h-3zM308 555h3v3h-3zM313 555h3v3h-3zM323 555h3v3h-3zM324 555h3v3h-3zM333 555h3v3h-3zM336 555h3v3h-3zM236 556h3v3h-3zM240 556h3v3h-3zM243 556h3v3h-3zM253 556h3v3h-3zM253 556h3v3h-3zM269 556h3v3h-3zM270 556h3v3h-3zM282 556h3v3h-3zM288 556h3v3h-3zM295 556h3v3h-3zM303 556h3v3h-3zM307 556h3v3h-3zM308 556h3v3h-3zM317 556h3v3h-3zM325 556h3v3h-3zM337 556h3v3h-3zM216 557h3v3h-3zM227 557h3v3h-3zM230 557h3v3h-3zM239 557h3v3h-3zM240 557h3v3h-3zM243 557h3v3h-3zM252 557h3v3h-3zM256 557h3v3h-3zM272 557h3v3h-3zM274 557h3v3h-3zM276 557h3v3h-3zM281 557h3v3h-3zM303 557h3v3h-3zM303 557h3v3h-3zM304 557h3v3h-3zM324 557h3v3h-3zM332 557h3v3h-3zM339 557h3v3h-3zM216 558h3v3h-3zM226 558h3v3h-3zM226 558h3v3h-3zM231 558h3v3h-3zM235 558h3v3h-3zM238 558h3v3h-3zM239 558h3v3h-3zM264 558h3v3h-3zM267 558h3v3h-3zM272 558h3v3h-3zM276 558h3v3h-3zM295 558h3v3h-3zM303 558h3v3h-3zM304 558h3v3h-3zM318 558h3v3h-3zM339 558h3v3h-3zM232 559h3v3h-3zM233 559h3v3h-3zM247 559h3v3h-3zM247 559h3v3h-3zM262 559h3v3h-3zM263 559h3v3h-3zM267 559h3v3h-3zM268 559h3v3h-3zM271 559h3v3h-3zM278 559h3v3h-3zM280 559h3v3h-3zM300 559h3v3h-3zM317 559h3v3h-3zM333 559h3v3h-3zM270 560h3v3h-3zM289 560h3v3h-3zM318 560h3v3h-3zM321 560h3v3h-3zM335 561h3v3h-3z" fill="#24508a"/>
</g>
<path d="M151.8,279.2 L151.8,277 Q152.2,268.8 159.3,268.6 Q166.4,268.8 166.8,277 L166.8,279.2 Z" fill="#d8e0ec" stroke="#9fb0cc" stroke-width="0.5"/>
<g filter="url(#bl)" transform="scale(0.5)">
<path d="M459 486h3v3h-3zM479 489h3v3h-3zM476 490h3v3h-3zM388 495h3v3h-3zM500 497h3v3h-3zM505 497h3v3h-3zM495 500h3v3h-3zM498 501h3v3h-3zM501 501h3v3h-3zM386 503h3v3h-3zM473 503h3v3h-3zM499 507h3v3h-3zM503 507h3v3h-3zM486 508h3v3h-3zM500 508h3v3h-3zM381 509h3v3h-3zM477 509h3v3h-3zM501 509h3v3h-3zM380 510h3v3h-3zM389 510h3v3h-3zM383 511h3v3h-3zM489 512h3v3h-3zM497 512h3v3h-3zM372 513h3v3h-3zM487 513h3v3h-3zM489 514h3v3h-3zM371 515h3v3h-3zM387 517h3v3h-3zM442 518h3v3h-3zM385 519h3v3h-3zM386 519h3v3h-3zM488 519h3v3h-3zM396 520h3v3h-3zM511 520h3v3h-3zM414 521h3v3h-3zM435 521h3v3h-3zM479 521h3v3h-3zM504 521h3v3h-3zM377 523h3v3h-3zM385 523h3v3h-3zM479 523h3v3h-3zM479 523h3v3h-3zM479 523h3v3h-3zM490 523h3v3h-3zM502 523h3v3h-3zM503 523h3v3h-3zM504 523h3v3h-3zM504 523h3v3h-3zM506 523h3v3h-3zM512 523h3v3h-3zM513 523h3v3h-3zM383 524h3v3h-3zM391 524h3v3h-3zM395 524h3v3h-3zM490 524h3v3h-3zM491 524h3v3h-3zM494 524h3v3h-3zM497 524h3v3h-3zM500 524h3v3h-3zM506 524h3v3h-3zM508 524h3v3h-3zM511 524h3v3h-3zM511 524h3v3h-3zM385 525h3v3h-3zM391 525h3v3h-3zM479 525h3v3h-3zM485 525h3v3h-3zM486 525h3v3h-3zM488 525h3v3h-3zM490 525h3v3h-3zM496 525h3v3h-3zM497 525h3v3h-3zM509 525h3v3h-3zM513 525h3v3h-3zM374 526h3v3h-3zM379 526h3v3h-3zM382 526h3v3h-3zM396 526h3v3h-3zM402 526h3v3h-3zM431 526h3v3h-3zM448 526h3v3h-3zM467 526h3v3h-3zM468 526h3v3h-3zM477 526h3v3h-3zM478 526h3v3h-3zM480 526h3v3h-3zM485 526h3v3h-3zM488 526h3v3h-3zM488 526h3v3h-3zM493 526h3v3h-3zM500 526h3v3h-3zM504 526h3v3h-3zM506 526h3v3h-3zM506 526h3v3h-3zM510 526h3v3h-3zM511 526h3v3h-3zM512 526h3v3h-3zM513 526h3v3h-3zM392 527h3v3h-3zM414 527h3v3h-3zM429 527h3v3h-3zM473 527h3v3h-3zM479 527h3v3h-3zM480 527h3v3h-3zM483 527h3v3h-3zM486 527h3v3h-3zM487 527h3v3h-3zM487 527h3v3h-3zM495 527h3v3h-3zM496 527h3v3h-3zM497 527h3v3h-3zM497 527h3v3h-3zM501 527h3v3h-3zM503 527h3v3h-3zM513 527h3v3h-3zM513 527h3v3h-3zM514 527h3v3h-3zM373 528h3v3h-3zM390 528h3v3h-3zM410 528h3v3h-3zM439 528h3v3h-3zM483 528h3v3h-3zM486 528h3v3h-3zM486 528h3v3h-3zM490 528h3v3h-3zM499 528h3v3h-3zM503 528h3v3h-3zM503 528h3v3h-3zM512 528h3v3h-3zM381 529h3v3h-3zM382 529h3v3h-3zM436 529h3v3h-3zM443 529h3v3h-3zM470 529h3v3h-3zM482 529h3v3h-3zM490 529h3v3h-3zM491 529h3v3h-3zM494 529h3v3h-3zM495 529h3v3h-3zM507 529h3v3h-3zM444 530h3v3h-3zM479 530h3v3h-3zM480 530h3v3h-3zM483 530h3v3h-3zM490 530h3v3h-3zM490 530h3v3h-3zM492 530h3v3h-3zM493 530h3v3h-3zM501 530h3v3h-3zM501 530h3v3h-3zM504 530h3v3h-3zM370 531h3v3h-3zM405 531h3v3h-3zM435 531h3v3h-3zM438 531h3v3h-3zM466 531h3v3h-3zM477 531h3v3h-3zM486 531h3v3h-3zM489 531h3v3h-3zM489 531h3v3h-3zM495 531h3v3h-3zM495 531h3v3h-3zM497 531h3v3h-3zM504 531h3v3h-3zM387 532h3v3h-3zM389 532h3v3h-3zM417 532h3v3h-3zM429 532h3v3h-3zM476 532h3v3h-3zM479 532h3v3h-3zM484 532h3v3h-3zM488 532h3v3h-3zM495 532h3v3h-3zM500 532h3v3h-3zM500 532h3v3h-3zM509 532h3v3h-3zM510 532h3v3h-3zM513 532h3v3h-3zM376 533h3v3h-3zM377 533h3v3h-3zM382 533h3v3h-3zM480 533h3v3h-3zM482 533h3v3h-3zM484 533h3v3h-3zM484 533h3v3h-3zM486 533h3v3h-3zM486 533h3v3h-3zM486 533h3v3h-3zM487 533h3v3h-3zM490 533h3v3h-3zM494 533h3v3h-3zM495 533h3v3h-3zM496 533h3v3h-3zM506 533h3v3h-3zM507 533h3v3h-3zM511 533h3v3h-3zM477 534h3v3h-3zM477 534h3v3h-3zM480 534h3v3h-3zM481 534h3v3h-3zM482 534h3v3h-3zM498 534h3v3h-3zM502 534h3v3h-3zM508 534h3v3h-3zM514 534h3v3h-3zM390 535h3v3h-3zM391 535h3v3h-3zM399 535h3v3h-3zM478 535h3v3h-3zM481 535h3v3h-3zM481 535h3v3h-3zM482 535h3v3h-3zM484 535h3v3h-3zM485 535h3v3h-3zM488 535h3v3h-3zM494 535h3v3h-3zM495 535h3v3h-3zM499 535h3v3h-3zM499 535h3v3h-3zM500 535h3v3h-3zM501 535h3v3h-3zM502 535h3v3h-3zM503 535h3v3h-3zM504 535h3v3h-3zM508 535h3v3h-3zM510 535h3v3h-3zM373 536h3v3h-3zM386 536h3v3h-3zM429 536h3v3h-3zM439 536h3v3h-3zM450 536h3v3h-3zM478 536h3v3h-3zM478 536h3v3h-3zM479 536h3v3h-3zM481 536h3v3h-3zM481 536h3v3h-3zM482 536h3v3h-3zM484 536h3v3h-3zM485 536h3v3h-3zM487 536h3v3h-3zM489 536h3v3h-3zM497 536h3v3h-3zM513 536h3v3h-3zM377 537h3v3h-3zM382 537h3v3h-3zM478 537h3v3h-3zM482 537h3v3h-3zM482 537h3v3h-3zM483 537h3v3h-3zM486 537h3v3h-3zM498 537h3v3h-3zM500 537h3v3h-3zM500 537h3v3h-3zM502 537h3v3h-3zM502 537h3v3h-3zM505 537h3v3h-3zM508 537h3v3h-3zM509 537h3v3h-3zM510 537h3v3h-3zM512 537h3v3h-3zM515 537h3v3h-3zM382 538h3v3h-3zM386 538h3v3h-3zM388 538h3v3h-3zM430 538h3v3h-3zM480 538h3v3h-3zM482 538h3v3h-3zM483 538h3v3h-3zM493 538h3v3h-3zM499 538h3v3h-3zM509 538h3v3h-3zM369 539h3v3h-3zM383 539h3v3h-3zM388 539h3v3h-3zM390 539h3v3h-3zM392 539h3v3h-3zM393 539h3v3h-3zM416 539h3v3h-3zM478 539h3v3h-3zM481 539h3v3h-3zM484 539h3v3h-3zM485 539h3v3h-3zM485 539h3v3h-3zM493 539h3v3h-3zM495 539h3v3h-3zM502 539h3v3h-3zM508 539h3v3h-3zM514 539h3v3h-3zM515 539h3v3h-3zM392 540h3v3h-3zM455 540h3v3h-3zM484 540h3v3h-3zM484 540h3v3h-3zM485 540h3v3h-3zM490 540h3v3h-3zM490 540h3v3h-3zM498 540h3v3h-3zM502 540h3v3h-3zM505 540h3v3h-3zM508 540h3v3h-3zM508 540h3v3h-3zM509 540h3v3h-3zM514 540h3v3h-3zM514 540h3v3h-3zM376 541h3v3h-3zM378 541h3v3h-3zM381 541h3v3h-3zM382 541h3v3h-3zM383 541h3v3h-3zM384 541h3v3h-3zM388 541h3v3h-3zM391 541h3v3h-3zM452 541h3v3h-3zM473 541h3v3h-3zM477 541h3v3h-3zM483 541h3v3h-3zM484 541h3v3h-3zM486 541h3v3h-3zM488 541h3v3h-3zM489 541h3v3h-3zM489 541h3v3h-3zM493 541h3v3h-3zM494 541h3v3h-3zM496 541h3v3h-3zM497 541h3v3h-3zM500 541h3v3h-3zM508 541h3v3h-3zM511 541h3v3h-3zM513 541h3v3h-3zM380 542h3v3h-3zM380 542h3v3h-3zM380 542h3v3h-3zM381 542h3v3h-3zM388 542h3v3h-3zM390 542h3v3h-3zM435 542h3v3h-3zM461 542h3v3h-3zM479 542h3v3h-3zM479 542h3v3h-3zM491 542h3v3h-3zM492 542h3v3h-3zM508 542h3v3h-3zM384 543h3v3h-3zM385 543h3v3h-3zM417 543h3v3h-3zM424 543h3v3h-3zM431 543h3v3h-3zM458 543h3v3h-3zM467 543h3v3h-3zM479 543h3v3h-3zM482 543h3v3h-3zM487 543h3v3h-3zM489 543h3v3h-3zM494 543h3v3h-3zM497 543h3v3h-3zM500 543h3v3h-3zM500 543h3v3h-3zM507 543h3v3h-3zM510 543h3v3h-3zM514 543h3v3h-3zM373 544h3v3h-3zM391 544h3v3h-3zM446 544h3v3h-3zM480 544h3v3h-3zM486 544h3v3h-3zM490 544h3v3h-3zM497 544h3v3h-3zM501 544h3v3h-3zM510 544h3v3h-3zM514 544h3v3h-3zM384 545h3v3h-3zM390 545h3v3h-3zM390 545h3v3h-3zM419 545h3v3h-3zM421 545h3v3h-3zM429 545h3v3h-3zM476 545h3v3h-3zM480 545h3v3h-3zM482 545h3v3h-3zM491 545h3v3h-3zM494 545h3v3h-3zM494 545h3v3h-3zM499 545h3v3h-3zM499 545h3v3h-3zM500 545h3v3h-3zM505 545h3v3h-3zM508 545h3v3h-3zM508 545h3v3h-3zM509 545h3v3h-3zM382 546h3v3h-3zM386 546h3v3h-3zM386 546h3v3h-3zM388 546h3v3h-3zM409 546h3v3h-3zM417 546h3v3h-3zM487 546h3v3h-3zM494 546h3v3h-3zM495 546h3v3h-3zM498 546h3v3h-3zM498 546h3v3h-3zM508 546h3v3h-3zM508 546h3v3h-3zM509 546h3v3h-3zM373 547h3v3h-3zM377 547h3v3h-3zM378 547h3v3h-3zM384 547h3v3h-3zM385 547h3v3h-3zM387 547h3v3h-3zM387 547h3v3h-3zM423 547h3v3h-3zM460 547h3v3h-3zM467 547h3v3h-3zM480 547h3v3h-3zM487 547h3v3h-3zM496 547h3v3h-3zM496 547h3v3h-3zM500 547h3v3h-3zM508 547h3v3h-3zM509 547h3v3h-3zM376 548h3v3h-3zM376 548h3v3h-3zM384 548h3v3h-3zM386 548h3v3h-3zM387 548h3v3h-3zM394 548h3v3h-3zM395 548h3v3h-3zM412 548h3v3h-3zM423 548h3v3h-3zM434 548h3v3h-3zM493 548h3v3h-3zM497 548h3v3h-3zM501 548h3v3h-3zM502 548h3v3h-3zM508 548h3v3h-3zM511 548h3v3h-3zM512 548h3v3h-3zM512 548h3v3h-3zM513 548h3v3h-3zM375 549h3v3h-3zM375 549h3v3h-3zM377 549h3v3h-3zM377 549h3v3h-3zM382 549h3v3h-3zM385 549h3v3h-3zM386 549h3v3h-3zM388 549h3v3h-3zM396 549h3v3h-3zM403 549h3v3h-3zM422 549h3v3h-3zM437 549h3v3h-3zM470 549h3v3h-3zM477 549h3v3h-3zM487 549h3v3h-3zM488 549h3v3h-3zM488 549h3v3h-3zM490 549h3v3h-3zM495 549h3v3h-3zM498 549h3v3h-3zM501 549h3v3h-3zM508 549h3v3h-3zM510 549h3v3h-3zM511 549h3v3h-3zM511 549h3v3h-3zM512 549h3v3h-3zM513 549h3v3h-3zM514 549h3v3h-3zM377 550h3v3h-3zM400 550h3v3h-3zM443 550h3v3h-3zM444 550h3v3h-3zM481 550h3v3h-3zM485 550h3v3h-3zM485 550h3v3h-3zM489 550h3v3h-3zM502 550h3v3h-3zM503 550h3v3h-3zM511 550h3v3h-3zM373 551h3v3h-3zM382 551h3v3h-3zM385 551h3v3h-3zM386 551h3v3h-3zM395 551h3v3h-3zM401 551h3v3h-3zM465 551h3v3h-3zM467 551h3v3h-3zM477 551h3v3h-3zM478 551h3v3h-3zM485 551h3v3h-3zM492 551h3v3h-3zM492 551h3v3h-3zM492 551h3v3h-3zM504 551h3v3h-3zM506 551h3v3h-3zM507 551h3v3h-3zM371 552h3v3h-3zM371 552h3v3h-3zM380 552h3v3h-3zM383 552h3v3h-3zM385 552h3v3h-3zM387 552h3v3h-3zM389 552h3v3h-3zM391 552h3v3h-3zM391 552h3v3h-3zM394 552h3v3h-3zM400 552h3v3h-3zM448 552h3v3h-3zM458 552h3v3h-3zM459 552h3v3h-3zM468 552h3v3h-3zM482 552h3v3h-3zM487 552h3v3h-3zM488 552h3v3h-3zM489 552h3v3h-3zM491 552h3v3h-3zM492 552h3v3h-3zM503 552h3v3h-3zM503 552h3v3h-3zM508 552h3v3h-3zM372 553h3v3h-3zM378 553h3v3h-3zM386 553h3v3h-3zM389 553h3v3h-3zM393 553h3v3h-3zM397 553h3v3h-3zM399 553h3v3h-3zM412 553h3v3h-3zM438 553h3v3h-3zM448 553h3v3h-3zM454 553h3v3h-3zM459 553h3v3h-3zM481 553h3v3h-3zM482 553h3v3h-3zM486 553h3v3h-3zM501 553h3v3h-3zM501 553h3v3h-3zM508 553h3v3h-3zM509 553h3v3h-3zM510 553h3v3h-3zM514 553h3v3h-3zM374 554h3v3h-3zM375 554h3v3h-3zM377 554h3v3h-3zM378 554h3v3h-3zM381 554h3v3h-3zM381 554h3v3h-3zM383 554h3v3h-3zM385 554h3v3h-3zM390 554h3v3h-3zM396 554h3v3h-3zM396 554h3v3h-3zM425 554h3v3h-3zM428 554h3v3h-3zM477 554h3v3h-3zM484 554h3v3h-3zM486 554h3v3h-3zM487 554h3v3h-3zM488 554h3v3h-3zM488 554h3v3h-3zM489 554h3v3h-3zM492 554h3v3h-3zM496 554h3v3h-3zM500 554h3v3h-3zM500 554h3v3h-3zM500 554h3v3h-3zM505 554h3v3h-3zM506 554h3v3h-3zM511 554h3v3h-3zM372 555h3v3h-3zM377 555h3v3h-3zM380 555h3v3h-3zM381 555h3v3h-3zM387 555h3v3h-3zM388 555h3v3h-3zM397 555h3v3h-3zM404 555h3v3h-3zM406 555h3v3h-3zM436 555h3v3h-3zM440 555h3v3h-3zM441 555h3v3h-3zM479 555h3v3h-3zM482 555h3v3h-3zM489 555h3v3h-3zM489 555h3v3h-3zM489 555h3v3h-3zM491 555h3v3h-3zM499 555h3v3h-3zM500 555h3v3h-3zM501 555h3v3h-3zM506 555h3v3h-3zM507 555h3v3h-3zM377 556h3v3h-3zM384 556h3v3h-3zM386 556h3v3h-3zM389 556h3v3h-3zM394 556h3v3h-3zM398 556h3v3h-3zM405 556h3v3h-3zM443 556h3v3h-3zM457 556h3v3h-3zM460 556h3v3h-3zM484 556h3v3h-3zM485 556h3v3h-3zM490 556h3v3h-3zM491 556h3v3h-3zM494 556h3v3h-3zM498 556h3v3h-3zM498 556h3v3h-3zM501 556h3v3h-3zM501 556h3v3h-3zM504 556h3v3h-3zM506 556h3v3h-3zM507 556h3v3h-3zM507 556h3v3h-3zM511 556h3v3h-3zM511 556h3v3h-3zM512 556h3v3h-3zM379 557h3v3h-3zM379 557h3v3h-3zM383 557h3v3h-3zM383 557h3v3h-3zM385 557h3v3h-3zM398 557h3v3h-3zM399 557h3v3h-3zM407 557h3v3h-3zM411 557h3v3h-3zM416 557h3v3h-3zM418 557h3v3h-3zM423 557h3v3h-3zM436 557h3v3h-3zM450 557h3v3h-3zM451 557h3v3h-3zM462 557h3v3h-3zM485 557h3v3h-3zM486 557h3v3h-3zM489 557h3v3h-3zM500 557h3v3h-3zM503 557h3v3h-3zM503 557h3v3h-3zM506 557h3v3h-3zM506 557h3v3h-3zM509 557h3v3h-3zM372 558h3v3h-3zM373 558h3v3h-3zM376 558h3v3h-3zM385 558h3v3h-3zM385 558h3v3h-3zM388 558h3v3h-3zM395 558h3v3h-3zM403 558h3v3h-3zM410 558h3v3h-3zM420 558h3v3h-3zM456 558h3v3h-3zM457 558h3v3h-3zM470 558h3v3h-3zM482 558h3v3h-3zM483 558h3v3h-3zM484 558h3v3h-3zM485 558h3v3h-3zM486 558h3v3h-3zM493 558h3v3h-3zM496 558h3v3h-3zM500 558h3v3h-3zM502 558h3v3h-3zM502 558h3v3h-3zM502 558h3v3h-3zM505 558h3v3h-3zM506 558h3v3h-3zM507 558h3v3h-3zM383 559h3v3h-3zM387 559h3v3h-3zM395 559h3v3h-3zM400 559h3v3h-3zM414 559h3v3h-3zM416 559h3v3h-3zM418 559h3v3h-3zM418 559h3v3h-3zM454 559h3v3h-3zM456 559h3v3h-3zM462 559h3v3h-3zM476 559h3v3h-3zM482 559h3v3h-3zM482 559h3v3h-3zM482 559h3v3h-3zM486 559h3v3h-3zM493 559h3v3h-3zM494 559h3v3h-3zM500 559h3v3h-3zM501 559h3v3h-3zM508 559h3v3h-3zM509 559h3v3h-3zM511 559h3v3h-3zM512 559h3v3h-3zM513 559h3v3h-3zM374 560h3v3h-3zM377 560h3v3h-3zM379 560h3v3h-3zM404 560h3v3h-3zM450 560h3v3h-3zM454 560h3v3h-3zM477 560h3v3h-3zM492 560h3v3h-3zM494 560h3v3h-3z" fill="#129cc4"/>
<path d="M383 502h3v3h-3zM386 502h3v3h-3zM388 503h3v3h-3zM384 507h3v3h-3zM384 508h3v3h-3zM431 509h3v3h-3zM411 510h3v3h-3zM510 510h3v3h-3zM490 513h3v3h-3zM398 516h3v3h-3zM392 517h3v3h-3zM405 518h3v3h-3zM508 519h3v3h-3zM509 519h3v3h-3zM373 520h3v3h-3zM479 522h3v3h-3zM479 523h3v3h-3zM483 524h3v3h-3zM484 524h3v3h-3zM486 524h3v3h-3zM488 524h3v3h-3zM490 524h3v3h-3zM491 524h3v3h-3zM491 524h3v3h-3zM482 525h3v3h-3zM514 525h3v3h-3zM411 526h3v3h-3zM464 526h3v3h-3zM481 526h3v3h-3zM512 526h3v3h-3zM514 526h3v3h-3zM426 527h3v3h-3zM478 527h3v3h-3zM486 527h3v3h-3zM513 527h3v3h-3zM381 528h3v3h-3zM401 528h3v3h-3zM418 528h3v3h-3zM475 528h3v3h-3zM483 528h3v3h-3zM485 528h3v3h-3zM485 528h3v3h-3zM489 528h3v3h-3zM493 528h3v3h-3zM387 529h3v3h-3zM436 529h3v3h-3zM447 529h3v3h-3zM477 529h3v3h-3zM478 529h3v3h-3zM489 529h3v3h-3zM490 529h3v3h-3zM512 529h3v3h-3zM473 530h3v3h-3zM488 530h3v3h-3zM507 530h3v3h-3zM512 530h3v3h-3zM438 531h3v3h-3zM482 531h3v3h-3zM496 531h3v3h-3zM496 531h3v3h-3zM509 531h3v3h-3zM512 531h3v3h-3zM377 532h3v3h-3zM400 532h3v3h-3zM420 532h3v3h-3zM429 532h3v3h-3zM482 532h3v3h-3zM501 532h3v3h-3zM381 533h3v3h-3zM487 533h3v3h-3zM494 533h3v3h-3zM496 533h3v3h-3zM497 533h3v3h-3zM500 533h3v3h-3zM503 533h3v3h-3zM489 534h3v3h-3zM508 534h3v3h-3zM469 535h3v3h-3zM480 535h3v3h-3zM488 535h3v3h-3zM488 535h3v3h-3zM495 535h3v3h-3zM500 535h3v3h-3zM504 535h3v3h-3zM508 535h3v3h-3zM387 536h3v3h-3zM482 536h3v3h-3zM488 536h3v3h-3zM497 536h3v3h-3zM505 536h3v3h-3zM514 536h3v3h-3zM398 537h3v3h-3zM480 537h3v3h-3zM483 537h3v3h-3zM494 537h3v3h-3zM500 537h3v3h-3zM389 538h3v3h-3zM391 538h3v3h-3zM480 538h3v3h-3zM497 538h3v3h-3zM507 538h3v3h-3zM510 538h3v3h-3zM466 539h3v3h-3zM477 539h3v3h-3zM483 539h3v3h-3zM485 539h3v3h-3zM487 539h3v3h-3zM494 539h3v3h-3zM480 540h3v3h-3zM481 540h3v3h-3zM482 540h3v3h-3zM489 540h3v3h-3zM494 540h3v3h-3zM496 540h3v3h-3zM497 540h3v3h-3zM503 540h3v3h-3zM371 541h3v3h-3zM382 541h3v3h-3zM393 541h3v3h-3zM458 541h3v3h-3zM476 541h3v3h-3zM482 541h3v3h-3zM488 541h3v3h-3zM493 541h3v3h-3zM496 541h3v3h-3zM490 542h3v3h-3zM491 542h3v3h-3zM498 542h3v3h-3zM512 542h3v3h-3zM486 543h3v3h-3zM492 543h3v3h-3zM493 543h3v3h-3zM509 543h3v3h-3zM511 543h3v3h-3zM512 543h3v3h-3zM512 543h3v3h-3zM372 544h3v3h-3zM380 544h3v3h-3zM386 544h3v3h-3zM459 544h3v3h-3zM460 544h3v3h-3zM496 544h3v3h-3zM498 544h3v3h-3zM503 544h3v3h-3zM512 544h3v3h-3zM513 544h3v3h-3zM491 545h3v3h-3zM499 545h3v3h-3zM505 545h3v3h-3zM508 545h3v3h-3zM370 546h3v3h-3zM413 546h3v3h-3zM455 546h3v3h-3zM484 546h3v3h-3zM492 546h3v3h-3zM496 546h3v3h-3zM505 546h3v3h-3zM386 547h3v3h-3zM386 547h3v3h-3zM387 547h3v3h-3zM434 547h3v3h-3zM459 547h3v3h-3zM479 547h3v3h-3zM484 547h3v3h-3zM495 547h3v3h-3zM497 547h3v3h-3zM497 547h3v3h-3zM499 547h3v3h-3zM504 547h3v3h-3zM508 547h3v3h-3zM511 547h3v3h-3zM511 547h3v3h-3zM513 547h3v3h-3zM377 548h3v3h-3zM380 548h3v3h-3zM380 548h3v3h-3zM384 548h3v3h-3zM391 548h3v3h-3zM397 548h3v3h-3zM398 548h3v3h-3zM407 548h3v3h-3zM475 548h3v3h-3zM511 548h3v3h-3zM385 549h3v3h-3zM403 549h3v3h-3zM419 549h3v3h-3zM431 549h3v3h-3zM508 549h3v3h-3zM369 550h3v3h-3zM375 550h3v3h-3zM381 550h3v3h-3zM386 550h3v3h-3zM467 550h3v3h-3zM468 550h3v3h-3zM480 550h3v3h-3zM481 550h3v3h-3zM497 550h3v3h-3zM500 550h3v3h-3zM511 550h3v3h-3zM512 550h3v3h-3zM390 551h3v3h-3zM391 551h3v3h-3zM393 551h3v3h-3zM399 551h3v3h-3zM431 551h3v3h-3zM436 551h3v3h-3zM447 551h3v3h-3zM504 551h3v3h-3zM509 551h3v3h-3zM374 552h3v3h-3zM394 552h3v3h-3zM398 552h3v3h-3zM448 552h3v3h-3zM459 552h3v3h-3zM488 552h3v3h-3zM506 552h3v3h-3zM506 552h3v3h-3zM508 552h3v3h-3zM380 553h3v3h-3zM385 553h3v3h-3zM440 553h3v3h-3zM488 553h3v3h-3zM489 553h3v3h-3zM494 553h3v3h-3zM502 553h3v3h-3zM369 554h3v3h-3zM388 554h3v3h-3zM393 554h3v3h-3zM415 554h3v3h-3zM439 554h3v3h-3zM470 554h3v3h-3zM490 554h3v3h-3zM372 555h3v3h-3zM386 555h3v3h-3zM388 555h3v3h-3zM400 555h3v3h-3zM438 555h3v3h-3zM484 555h3v3h-3zM488 555h3v3h-3zM493 555h3v3h-3zM499 555h3v3h-3zM500 555h3v3h-3zM503 555h3v3h-3zM506 555h3v3h-3zM508 555h3v3h-3zM368 556h3v3h-3zM376 556h3v3h-3zM378 556h3v3h-3zM380 556h3v3h-3zM383 556h3v3h-3zM384 556h3v3h-3zM387 556h3v3h-3zM389 556h3v3h-3zM422 556h3v3h-3zM482 556h3v3h-3zM483 556h3v3h-3zM484 556h3v3h-3zM494 556h3v3h-3zM498 556h3v3h-3zM498 556h3v3h-3zM502 556h3v3h-3zM386 557h3v3h-3zM389 557h3v3h-3zM453 557h3v3h-3zM487 557h3v3h-3zM490 557h3v3h-3zM502 557h3v3h-3zM512 557h3v3h-3zM376 558h3v3h-3zM381 558h3v3h-3zM386 558h3v3h-3zM387 558h3v3h-3zM401 558h3v3h-3zM448 558h3v3h-3zM481 558h3v3h-3zM485 558h3v3h-3zM491 558h3v3h-3zM499 558h3v3h-3zM500 558h3v3h-3zM502 558h3v3h-3zM510 558h3v3h-3zM376 559h3v3h-3zM403 559h3v3h-3zM483 559h3v3h-3zM483 559h3v3h-3zM494 559h3v3h-3zM494 559h3v3h-3zM501 559h3v3h-3zM502 559h3v3h-3zM509 559h3v3h-3zM509 559h3v3h-3zM383 560h3v3h-3zM453 560h3v3h-3zM505 560h3v3h-3zM509 560h3v3h-3zM466 561h3v3h-3z" fill="#2aaad0"/>
</g>
<path d="M243,279.3 L244.8,271.5 Q246.8,266.8 249.7,266.8 Q252.6,266.8 254.6,271.5 L256.4,279.3 Z" fill="#e0eaf2" stroke="#7cc4dc" stroke-width="0.6"/>
<g filter="url(#bl)" transform="scale(0.5)">
<path d="M584 481h3v3h-3zM556 482h3v3h-3zM607 484h3v3h-3zM617 485h3v3h-3zM597 486h3v3h-3zM548 487h3v3h-3zM606 487h3v3h-3zM609 490h3v3h-3zM613 494h3v3h-3zM579 495h3v3h-3zM648 495h3v3h-3zM571 496h3v3h-3zM622 496h3v3h-3zM594 499h3v3h-3zM585 500h3v3h-3zM587 500h3v3h-3zM590 500h3v3h-3zM550 501h3v3h-3zM636 501h3v3h-3zM565 502h3v3h-3zM600 502h3v3h-3zM654 502h3v3h-3zM551 503h3v3h-3zM630 503h3v3h-3zM547 504h3v3h-3zM550 504h3v3h-3zM676 504h3v3h-3zM556 505h3v3h-3zM580 505h3v3h-3zM603 505h3v3h-3zM550 506h3v3h-3zM552 506h3v3h-3zM564 506h3v3h-3zM566 506h3v3h-3zM592 506h3v3h-3zM618 506h3v3h-3zM549 507h3v3h-3zM555 507h3v3h-3zM555 507h3v3h-3zM564 507h3v3h-3zM557 508h3v3h-3zM572 508h3v3h-3zM566 509h3v3h-3zM572 509h3v3h-3zM617 509h3v3h-3zM555 510h3v3h-3zM559 510h3v3h-3zM561 510h3v3h-3zM563 510h3v3h-3zM559 511h3v3h-3zM665 511h3v3h-3zM685 511h3v3h-3zM584 512h3v3h-3zM589 512h3v3h-3zM617 512h3v3h-3zM566 513h3v3h-3zM655 513h3v3h-3zM548 514h3v3h-3zM563 514h3v3h-3zM578 514h3v3h-3zM631 514h3v3h-3zM674 514h3v3h-3zM552 515h3v3h-3zM552 515h3v3h-3zM557 515h3v3h-3zM562 515h3v3h-3zM585 515h3v3h-3zM596 515h3v3h-3zM627 515h3v3h-3zM659 515h3v3h-3zM555 516h3v3h-3zM565 516h3v3h-3zM571 516h3v3h-3zM582 516h3v3h-3zM597 516h3v3h-3zM670 516h3v3h-3zM548 517h3v3h-3zM549 517h3v3h-3zM549 517h3v3h-3zM551 517h3v3h-3zM643 517h3v3h-3zM689 517h3v3h-3zM549 518h3v3h-3zM557 518h3v3h-3zM601 518h3v3h-3zM643 518h3v3h-3zM670 518h3v3h-3zM578 519h3v3h-3zM601 519h3v3h-3zM605 519h3v3h-3zM624 519h3v3h-3zM553 520h3v3h-3zM570 520h3v3h-3zM605 520h3v3h-3zM645 520h3v3h-3zM674 520h3v3h-3zM690 520h3v3h-3zM686 521h3v3h-3zM586 522h3v3h-3zM647 522h3v3h-3zM666 522h3v3h-3zM550 523h3v3h-3zM554 523h3v3h-3zM611 523h3v3h-3zM675 523h3v3h-3zM691 523h3v3h-3zM550 524h3v3h-3zM554 524h3v3h-3zM584 524h3v3h-3zM607 524h3v3h-3zM667 524h3v3h-3zM685 524h3v3h-3zM558 526h3v3h-3zM569 526h3v3h-3zM616 526h3v3h-3zM635 526h3v3h-3zM640 526h3v3h-3zM645 526h3v3h-3zM692 526h3v3h-3zM557 527h3v3h-3zM557 527h3v3h-3zM581 527h3v3h-3zM612 527h3v3h-3zM624 527h3v3h-3zM661 527h3v3h-3zM676 527h3v3h-3zM690 527h3v3h-3zM549 528h3v3h-3zM551 528h3v3h-3zM557 528h3v3h-3zM561 528h3v3h-3zM562 528h3v3h-3zM562 528h3v3h-3zM579 528h3v3h-3zM656 528h3v3h-3zM656 528h3v3h-3zM550 529h3v3h-3zM563 529h3v3h-3zM574 529h3v3h-3zM577 529h3v3h-3zM620 529h3v3h-3zM630 529h3v3h-3zM649 529h3v3h-3zM653 529h3v3h-3zM661 529h3v3h-3zM663 529h3v3h-3zM677 529h3v3h-3zM550 530h3v3h-3zM552 530h3v3h-3zM553 530h3v3h-3zM582 530h3v3h-3zM594 530h3v3h-3zM607 530h3v3h-3zM612 530h3v3h-3zM628 530h3v3h-3zM651 530h3v3h-3zM658 530h3v3h-3zM659 530h3v3h-3zM659 530h3v3h-3zM659 530h3v3h-3zM660 530h3v3h-3zM667 530h3v3h-3zM548 531h3v3h-3zM553 531h3v3h-3zM566 531h3v3h-3zM569 531h3v3h-3zM611 531h3v3h-3zM635 531h3v3h-3zM650 531h3v3h-3zM654 531h3v3h-3zM659 531h3v3h-3zM661 531h3v3h-3zM667 531h3v3h-3zM668 531h3v3h-3zM688 531h3v3h-3zM563 532h3v3h-3zM565 532h3v3h-3zM572 532h3v3h-3zM591 532h3v3h-3zM666 532h3v3h-3zM666 532h3v3h-3zM669 532h3v3h-3zM669 532h3v3h-3zM670 532h3v3h-3zM671 532h3v3h-3zM684 532h3v3h-3zM590 533h3v3h-3zM607 533h3v3h-3zM612 533h3v3h-3zM629 533h3v3h-3zM646 533h3v3h-3zM647 533h3v3h-3zM655 533h3v3h-3zM655 533h3v3h-3zM661 533h3v3h-3zM666 533h3v3h-3zM670 533h3v3h-3zM671 533h3v3h-3zM672 533h3v3h-3zM676 533h3v3h-3zM555 534h3v3h-3zM559 534h3v3h-3zM562 534h3v3h-3zM605 534h3v3h-3zM616 534h3v3h-3zM623 534h3v3h-3zM630 534h3v3h-3zM641 534h3v3h-3zM647 534h3v3h-3zM651 534h3v3h-3zM658 534h3v3h-3zM662 534h3v3h-3zM665 534h3v3h-3zM668 534h3v3h-3zM669 534h3v3h-3zM672 534h3v3h-3zM675 534h3v3h-3zM676 534h3v3h-3zM553 535h3v3h-3zM561 535h3v3h-3zM584 535h3v3h-3zM602 535h3v3h-3zM606 535h3v3h-3zM609 535h3v3h-3zM609 535h3v3h-3zM628 535h3v3h-3zM643 535h3v3h-3zM655 535h3v3h-3zM656 535h3v3h-3zM660 535h3v3h-3zM663 535h3v3h-3zM663 535h3v3h-3zM664 535h3v3h-3zM664 535h3v3h-3zM667 535h3v3h-3zM667 535h3v3h-3zM668 535h3v3h-3zM670 535h3v3h-3zM673 535h3v3h-3zM675 535h3v3h-3zM680 535h3v3h-3zM689 535h3v3h-3zM561 536h3v3h-3zM589 536h3v3h-3zM594 536h3v3h-3zM602 536h3v3h-3zM606 536h3v3h-3zM611 536h3v3h-3zM634 536h3v3h-3zM638 536h3v3h-3zM653 536h3v3h-3zM657 536h3v3h-3zM658 536h3v3h-3zM658 536h3v3h-3zM659 536h3v3h-3zM660 536h3v3h-3zM660 536h3v3h-3zM661 536h3v3h-3zM665 536h3v3h-3zM669 536h3v3h-3zM675 536h3v3h-3zM577 537h3v3h-3zM582 537h3v3h-3zM583 537h3v3h-3zM586 537h3v3h-3zM618 537h3v3h-3zM623 537h3v3h-3zM647 537h3v3h-3zM658 537h3v3h-3zM660 537h3v3h-3zM661 537h3v3h-3zM665 537h3v3h-3zM666 537h3v3h-3zM671 537h3v3h-3zM672 537h3v3h-3zM687 537h3v3h-3zM563 538h3v3h-3zM589 538h3v3h-3zM593 538h3v3h-3zM606 538h3v3h-3zM623 538h3v3h-3zM627 538h3v3h-3zM628 538h3v3h-3zM635 538h3v3h-3zM644 538h3v3h-3zM644 538h3v3h-3zM651 538h3v3h-3zM659 538h3v3h-3zM661 538h3v3h-3zM670 538h3v3h-3zM672 538h3v3h-3zM679 538h3v3h-3zM679 538h3v3h-3zM679 538h3v3h-3zM679 538h3v3h-3zM685 538h3v3h-3zM688 538h3v3h-3zM548 539h3v3h-3zM549 539h3v3h-3zM561 539h3v3h-3zM563 539h3v3h-3zM587 539h3v3h-3zM590 539h3v3h-3zM616 539h3v3h-3zM621 539h3v3h-3zM625 539h3v3h-3zM627 539h3v3h-3zM630 539h3v3h-3zM637 539h3v3h-3zM644 539h3v3h-3zM644 539h3v3h-3zM644 539h3v3h-3zM645 539h3v3h-3zM646 539h3v3h-3zM653 539h3v3h-3zM690 539h3v3h-3zM558 540h3v3h-3zM573 540h3v3h-3zM585 540h3v3h-3zM588 540h3v3h-3zM592 540h3v3h-3zM596 540h3v3h-3zM597 540h3v3h-3zM598 540h3v3h-3zM598 540h3v3h-3zM601 540h3v3h-3zM625 540h3v3h-3zM631 540h3v3h-3zM635 540h3v3h-3zM635 540h3v3h-3zM653 540h3v3h-3zM657 540h3v3h-3zM668 540h3v3h-3zM672 540h3v3h-3zM676 540h3v3h-3zM679 540h3v3h-3zM679 540h3v3h-3zM682 540h3v3h-3zM548 541h3v3h-3zM561 541h3v3h-3zM563 541h3v3h-3zM564 541h3v3h-3zM568 541h3v3h-3zM571 541h3v3h-3zM580 541h3v3h-3zM587 541h3v3h-3zM588 541h3v3h-3zM594 541h3v3h-3zM596 541h3v3h-3zM599 541h3v3h-3zM602 541h3v3h-3zM612 541h3v3h-3zM630 541h3v3h-3zM639 541h3v3h-3zM644 541h3v3h-3zM651 541h3v3h-3zM656 541h3v3h-3zM662 541h3v3h-3zM671 541h3v3h-3zM679 541h3v3h-3zM685 541h3v3h-3zM548 542h3v3h-3zM554 542h3v3h-3zM584 542h3v3h-3zM586 542h3v3h-3zM600 542h3v3h-3zM614 542h3v3h-3zM628 542h3v3h-3zM634 542h3v3h-3zM635 542h3v3h-3zM649 542h3v3h-3zM655 542h3v3h-3zM668 542h3v3h-3zM681 542h3v3h-3zM681 542h3v3h-3zM681 542h3v3h-3zM686 542h3v3h-3zM688 542h3v3h-3zM688 542h3v3h-3zM576 543h3v3h-3zM577 543h3v3h-3zM579 543h3v3h-3zM583 543h3v3h-3zM584 543h3v3h-3zM588 543h3v3h-3zM596 543h3v3h-3zM605 543h3v3h-3zM608 543h3v3h-3zM610 543h3v3h-3zM632 543h3v3h-3zM634 543h3v3h-3zM642 543h3v3h-3zM654 543h3v3h-3zM655 543h3v3h-3zM670 543h3v3h-3zM672 543h3v3h-3zM673 543h3v3h-3zM674 543h3v3h-3zM676 543h3v3h-3zM679 543h3v3h-3zM680 543h3v3h-3zM683 543h3v3h-3zM683 543h3v3h-3zM555 544h3v3h-3zM556 544h3v3h-3zM560 544h3v3h-3zM574 544h3v3h-3zM575 544h3v3h-3zM576 544h3v3h-3zM577 544h3v3h-3zM580 544h3v3h-3zM583 544h3v3h-3zM585 544h3v3h-3zM595 544h3v3h-3zM595 544h3v3h-3zM605 544h3v3h-3zM608 544h3v3h-3zM618 544h3v3h-3zM618 544h3v3h-3zM628 544h3v3h-3zM634 544h3v3h-3zM636 544h3v3h-3zM637 544h3v3h-3zM643 544h3v3h-3zM645 544h3v3h-3zM650 544h3v3h-3zM657 544h3v3h-3zM668 544h3v3h-3zM670 544h3v3h-3zM672 544h3v3h-3zM676 544h3v3h-3zM678 544h3v3h-3zM681 544h3v3h-3zM681 544h3v3h-3zM686 544h3v3h-3zM688 544h3v3h-3zM690 544h3v3h-3zM692 544h3v3h-3zM548 545h3v3h-3zM550 545h3v3h-3zM569 545h3v3h-3zM573 545h3v3h-3zM577 545h3v3h-3zM580 545h3v3h-3zM584 545h3v3h-3zM585 545h3v3h-3zM585 545h3v3h-3zM597 545h3v3h-3zM602 545h3v3h-3zM607 545h3v3h-3zM618 545h3v3h-3zM627 545h3v3h-3zM633 545h3v3h-3zM635 545h3v3h-3zM635 545h3v3h-3zM641 545h3v3h-3zM643 545h3v3h-3zM646 545h3v3h-3zM659 545h3v3h-3zM662 545h3v3h-3zM669 545h3v3h-3zM672 545h3v3h-3zM673 545h3v3h-3zM675 545h3v3h-3zM677 545h3v3h-3zM679 545h3v3h-3zM679 545h3v3h-3zM685 545h3v3h-3zM687 545h3v3h-3zM688 545h3v3h-3zM690 545h3v3h-3zM547 546h3v3h-3zM562 546h3v3h-3zM565 546h3v3h-3zM570 546h3v3h-3zM571 546h3v3h-3zM575 546h3v3h-3zM582 546h3v3h-3zM582 546h3v3h-3zM588 546h3v3h-3zM590 546h3v3h-3zM591 546h3v3h-3zM591 546h3v3h-3zM592 546h3v3h-3zM608 546h3v3h-3zM609 546h3v3h-3zM611 546h3v3h-3zM623 546h3v3h-3zM625 546h3v3h-3zM635 546h3v3h-3zM636 546h3v3h-3zM637 546h3v3h-3zM639 546h3v3h-3zM642 546h3v3h-3zM644 546h3v3h-3zM646 546h3v3h-3zM657 546h3v3h-3zM661 546h3v3h-3zM662 546h3v3h-3zM675 546h3v3h-3zM681 546h3v3h-3zM682 546h3v3h-3zM686 546h3v3h-3zM548 547h3v3h-3zM558 547h3v3h-3zM559 547h3v3h-3zM565 547h3v3h-3zM571 547h3v3h-3zM576 547h3v3h-3zM583 547h3v3h-3zM591 547h3v3h-3zM593 547h3v3h-3zM593 547h3v3h-3zM598 547h3v3h-3zM604 547h3v3h-3zM605 547h3v3h-3zM607 547h3v3h-3zM615 547h3v3h-3zM616 547h3v3h-3zM617 547h3v3h-3zM625 547h3v3h-3zM628 547h3v3h-3zM632 547h3v3h-3zM634 547h3v3h-3zM638 547h3v3h-3zM641 547h3v3h-3zM646 547h3v3h-3zM647 547h3v3h-3zM657 547h3v3h-3zM658 547h3v3h-3zM660 547h3v3h-3zM673 547h3v3h-3zM674 547h3v3h-3zM675 547h3v3h-3zM675 547h3v3h-3zM676 547h3v3h-3zM676 547h3v3h-3zM676 547h3v3h-3zM679 547h3v3h-3zM681 547h3v3h-3zM681 547h3v3h-3zM686 547h3v3h-3zM686 547h3v3h-3zM548 548h3v3h-3zM554 548h3v3h-3zM558 548h3v3h-3zM559 548h3v3h-3zM559 548h3v3h-3zM566 548h3v3h-3zM567 548h3v3h-3zM568 548h3v3h-3zM570 548h3v3h-3zM571 548h3v3h-3zM573 548h3v3h-3zM577 548h3v3h-3zM579 548h3v3h-3zM579 548h3v3h-3zM583 548h3v3h-3zM583 548h3v3h-3zM591 548h3v3h-3zM592 548h3v3h-3zM602 548h3v3h-3zM608 548h3v3h-3zM608 548h3v3h-3zM609 548h3v3h-3zM610 548h3v3h-3zM615 548h3v3h-3zM623 548h3v3h-3zM631 548h3v3h-3zM634 548h3v3h-3zM646 548h3v3h-3zM659 548h3v3h-3zM672 548h3v3h-3zM672 548h3v3h-3zM677 548h3v3h-3zM677 548h3v3h-3zM678 548h3v3h-3zM679 548h3v3h-3zM683 548h3v3h-3zM685 548h3v3h-3zM552 549h3v3h-3zM564 549h3v3h-3zM565 549h3v3h-3zM565 549h3v3h-3zM570 549h3v3h-3zM571 549h3v3h-3zM572 549h3v3h-3zM584 549h3v3h-3zM593 549h3v3h-3zM594 549h3v3h-3zM595 549h3v3h-3zM599 549h3v3h-3zM602 549h3v3h-3zM603 549h3v3h-3zM609 549h3v3h-3zM610 549h3v3h-3zM616 549h3v3h-3zM616 549h3v3h-3zM618 549h3v3h-3zM622 549h3v3h-3zM625 549h3v3h-3zM625 549h3v3h-3zM633 549h3v3h-3zM639 549h3v3h-3zM642 549h3v3h-3zM645 549h3v3h-3zM646 549h3v3h-3zM656 549h3v3h-3zM666 549h3v3h-3zM668 549h3v3h-3zM672 549h3v3h-3zM672 549h3v3h-3zM673 549h3v3h-3zM674 549h3v3h-3zM677 549h3v3h-3zM678 549h3v3h-3zM684 549h3v3h-3zM685 549h3v3h-3zM549 550h3v3h-3zM555 550h3v3h-3zM565 550h3v3h-3zM569 550h3v3h-3zM569 550h3v3h-3zM573 550h3v3h-3zM574 550h3v3h-3zM582 550h3v3h-3zM586 550h3v3h-3zM588 550h3v3h-3zM596 550h3v3h-3zM601 550h3v3h-3zM602 550h3v3h-3zM602 550h3v3h-3zM602 550h3v3h-3zM604 550h3v3h-3zM611 550h3v3h-3zM612 550h3v3h-3zM613 550h3v3h-3zM618 550h3v3h-3zM620 550h3v3h-3zM621 550h3v3h-3zM625 550h3v3h-3zM633 550h3v3h-3zM636 550h3v3h-3zM636 550h3v3h-3zM641 550h3v3h-3zM660 550h3v3h-3zM672 550h3v3h-3zM673 550h3v3h-3zM679 550h3v3h-3zM682 550h3v3h-3zM686 550h3v3h-3zM550 551h3v3h-3zM558 551h3v3h-3zM569 551h3v3h-3zM577 551h3v3h-3zM577 551h3v3h-3zM578 551h3v3h-3zM584 551h3v3h-3zM584 551h3v3h-3zM589 551h3v3h-3zM594 551h3v3h-3zM596 551h3v3h-3zM598 551h3v3h-3zM601 551h3v3h-3zM602 551h3v3h-3zM603 551h3v3h-3zM607 551h3v3h-3zM611 551h3v3h-3zM613 551h3v3h-3zM614 551h3v3h-3zM621 551h3v3h-3zM622 551h3v3h-3zM625 551h3v3h-3zM627 551h3v3h-3zM631 551h3v3h-3zM631 551h3v3h-3zM632 551h3v3h-3zM633 551h3v3h-3zM636 551h3v3h-3zM637 551h3v3h-3zM639 551h3v3h-3zM643 551h3v3h-3zM645 551h3v3h-3zM645 551h3v3h-3zM646 551h3v3h-3zM648 551h3v3h-3zM652 551h3v3h-3zM655 551h3v3h-3zM681 551h3v3h-3zM683 551h3v3h-3zM686 551h3v3h-3zM687 551h3v3h-3zM690 551h3v3h-3zM548 552h3v3h-3zM549 552h3v3h-3zM550 552h3v3h-3zM552 552h3v3h-3zM553 552h3v3h-3zM553 552h3v3h-3zM554 552h3v3h-3zM557 552h3v3h-3zM559 552h3v3h-3zM560 552h3v3h-3zM563 552h3v3h-3zM571 552h3v3h-3zM574 552h3v3h-3zM574 552h3v3h-3zM576 552h3v3h-3zM577 552h3v3h-3zM579 552h3v3h-3zM580 552h3v3h-3zM581 552h3v3h-3zM581 552h3v3h-3zM584 552h3v3h-3zM584 552h3v3h-3zM586 552h3v3h-3zM589 552h3v3h-3zM595 552h3v3h-3zM596 552h3v3h-3zM597 552h3v3h-3zM598 552h3v3h-3zM599 552h3v3h-3zM603 552h3v3h-3zM606 552h3v3h-3zM612 552h3v3h-3zM615 552h3v3h-3zM617 552h3v3h-3zM631 552h3v3h-3zM632 552h3v3h-3zM637 552h3v3h-3zM659 552h3v3h-3zM666 552h3v3h-3zM668 552h3v3h-3zM669 552h3v3h-3zM670 552h3v3h-3zM672 552h3v3h-3zM678 552h3v3h-3zM682 552h3v3h-3zM685 552h3v3h-3zM691 552h3v3h-3zM549 553h3v3h-3zM552 553h3v3h-3zM553 553h3v3h-3zM554 553h3v3h-3zM558 553h3v3h-3zM559 553h3v3h-3zM561 553h3v3h-3zM581 553h3v3h-3zM581 553h3v3h-3zM590 553h3v3h-3zM592 553h3v3h-3zM595 553h3v3h-3zM597 553h3v3h-3zM598 553h3v3h-3zM598 553h3v3h-3zM599 553h3v3h-3zM600 553h3v3h-3zM609 553h3v3h-3zM615 553h3v3h-3zM619 553h3v3h-3zM641 553h3v3h-3zM641 553h3v3h-3zM642 553h3v3h-3zM644 553h3v3h-3zM651 553h3v3h-3zM662 553h3v3h-3zM671 553h3v3h-3zM675 553h3v3h-3zM688 553h3v3h-3zM689 553h3v3h-3zM690 553h3v3h-3zM690 553h3v3h-3zM692 553h3v3h-3zM550 554h3v3h-3zM552 554h3v3h-3zM554 554h3v3h-3zM554 554h3v3h-3zM555 554h3v3h-3zM557 554h3v3h-3zM557 554h3v3h-3zM558 554h3v3h-3zM562 554h3v3h-3zM563 554h3v3h-3zM564 554h3v3h-3zM575 554h3v3h-3zM578 554h3v3h-3zM579 554h3v3h-3zM587 554h3v3h-3zM596 554h3v3h-3zM598 554h3v3h-3zM600 554h3v3h-3zM605 554h3v3h-3zM608 554h3v3h-3zM610 554h3v3h-3zM611 554h3v3h-3zM613 554h3v3h-3zM630 554h3v3h-3zM631 554h3v3h-3zM631 554h3v3h-3zM632 554h3v3h-3zM632 554h3v3h-3zM639 554h3v3h-3zM640 554h3v3h-3zM647 554h3v3h-3zM647 554h3v3h-3zM649 554h3v3h-3zM650 554h3v3h-3zM658 554h3v3h-3zM665 554h3v3h-3zM667 554h3v3h-3zM679 554h3v3h-3zM684 554h3v3h-3zM685 554h3v3h-3zM687 554h3v3h-3zM689 554h3v3h-3zM547 555h3v3h-3zM548 555h3v3h-3zM559 555h3v3h-3zM560 555h3v3h-3zM572 555h3v3h-3zM577 555h3v3h-3zM578 555h3v3h-3zM583 555h3v3h-3zM590 555h3v3h-3zM596 555h3v3h-3zM597 555h3v3h-3zM598 555h3v3h-3zM599 555h3v3h-3zM602 555h3v3h-3zM606 555h3v3h-3zM607 555h3v3h-3zM615 555h3v3h-3zM619 555h3v3h-3zM622 555h3v3h-3zM629 555h3v3h-3zM630 555h3v3h-3zM641 555h3v3h-3zM656 555h3v3h-3zM656 555h3v3h-3zM656 555h3v3h-3zM659 555h3v3h-3zM665 555h3v3h-3zM667 555h3v3h-3zM674 555h3v3h-3zM683 555h3v3h-3zM550 556h3v3h-3zM566 556h3v3h-3zM567 556h3v3h-3zM568 556h3v3h-3zM586 556h3v3h-3zM590 556h3v3h-3zM592 556h3v3h-3zM593 556h3v3h-3zM597 556h3v3h-3zM598 556h3v3h-3zM600 556h3v3h-3zM601 556h3v3h-3zM603 556h3v3h-3zM604 556h3v3h-3zM604 556h3v3h-3zM607 556h3v3h-3zM608 556h3v3h-3zM610 556h3v3h-3zM621 556h3v3h-3zM631 556h3v3h-3zM631 556h3v3h-3zM633 556h3v3h-3zM637 556h3v3h-3zM645 556h3v3h-3zM648 556h3v3h-3zM660 556h3v3h-3zM661 556h3v3h-3zM661 556h3v3h-3zM663 556h3v3h-3zM665 556h3v3h-3zM665 556h3v3h-3zM667 556h3v3h-3zM671 556h3v3h-3zM671 556h3v3h-3zM677 556h3v3h-3zM688 556h3v3h-3zM549 557h3v3h-3zM554 557h3v3h-3zM555 557h3v3h-3zM556 557h3v3h-3zM557 557h3v3h-3zM557 557h3v3h-3zM558 557h3v3h-3zM559 557h3v3h-3zM561 557h3v3h-3zM564 557h3v3h-3zM576 557h3v3h-3zM576 557h3v3h-3zM577 557h3v3h-3zM578 557h3v3h-3zM585 557h3v3h-3zM591 557h3v3h-3zM592 557h3v3h-3zM596 557h3v3h-3zM598 557h3v3h-3zM599 557h3v3h-3zM600 557h3v3h-3zM600 557h3v3h-3zM601 557h3v3h-3zM606 557h3v3h-3zM610 557h3v3h-3zM610 557h3v3h-3zM612 557h3v3h-3zM614 557h3v3h-3zM616 557h3v3h-3zM625 557h3v3h-3zM625 557h3v3h-3zM626 557h3v3h-3zM634 557h3v3h-3zM635 557h3v3h-3zM641 557h3v3h-3zM644 557h3v3h-3zM646 557h3v3h-3zM650 557h3v3h-3zM658 557h3v3h-3zM674 557h3v3h-3zM679 557h3v3h-3zM684 557h3v3h-3zM686 557h3v3h-3zM689 557h3v3h-3zM546 558h3v3h-3zM551 558h3v3h-3zM558 558h3v3h-3zM560 558h3v3h-3zM564 558h3v3h-3zM565 558h3v3h-3zM566 558h3v3h-3zM567 558h3v3h-3zM573 558h3v3h-3zM574 558h3v3h-3zM577 558h3v3h-3zM591 558h3v3h-3zM591 558h3v3h-3zM592 558h3v3h-3zM596 558h3v3h-3zM609 558h3v3h-3zM611 558h3v3h-3zM613 558h3v3h-3zM615 558h3v3h-3zM616 558h3v3h-3zM616 558h3v3h-3zM621 558h3v3h-3zM623 558h3v3h-3zM623 558h3v3h-3zM629 558h3v3h-3zM629 558h3v3h-3zM645 558h3v3h-3zM651 558h3v3h-3zM664 558h3v3h-3zM673 558h3v3h-3zM675 558h3v3h-3zM676 558h3v3h-3zM681 558h3v3h-3zM682 558h3v3h-3zM683 558h3v3h-3zM549 559h3v3h-3zM552 559h3v3h-3zM562 559h3v3h-3zM575 559h3v3h-3zM580 559h3v3h-3zM589 559h3v3h-3zM620 559h3v3h-3zM635 559h3v3h-3zM657 559h3v3h-3zM661 559h3v3h-3zM568 560h3v3h-3zM574 560h3v3h-3zM629 560h3v3h-3zM684 560h3v3h-3z" fill="#6a2a88"/>
<path d="M568 481h3v3h-3zM620 489h3v3h-3zM560 492h3v3h-3zM632 492h3v3h-3zM604 493h3v3h-3zM658 500h3v3h-3zM551 501h3v3h-3zM553 502h3v3h-3zM559 502h3v3h-3zM648 504h3v3h-3zM559 507h3v3h-3zM627 507h3v3h-3zM561 510h3v3h-3zM574 510h3v3h-3zM603 510h3v3h-3zM548 511h3v3h-3zM592 512h3v3h-3zM640 512h3v3h-3zM606 513h3v3h-3zM657 513h3v3h-3zM571 514h3v3h-3zM586 514h3v3h-3zM644 514h3v3h-3zM663 514h3v3h-3zM547 515h3v3h-3zM669 515h3v3h-3zM615 516h3v3h-3zM645 516h3v3h-3zM655 516h3v3h-3zM548 517h3v3h-3zM598 517h3v3h-3zM596 518h3v3h-3zM631 518h3v3h-3zM549 519h3v3h-3zM667 519h3v3h-3zM557 520h3v3h-3zM676 520h3v3h-3zM554 521h3v3h-3zM575 522h3v3h-3zM552 523h3v3h-3zM564 523h3v3h-3zM601 523h3v3h-3zM687 523h3v3h-3zM623 524h3v3h-3zM574 525h3v3h-3zM590 525h3v3h-3zM601 525h3v3h-3zM556 526h3v3h-3zM558 526h3v3h-3zM614 527h3v3h-3zM557 528h3v3h-3zM595 528h3v3h-3zM605 528h3v3h-3zM607 528h3v3h-3zM625 528h3v3h-3zM546 529h3v3h-3zM566 529h3v3h-3zM672 529h3v3h-3zM560 530h3v3h-3zM582 530h3v3h-3zM624 530h3v3h-3zM655 530h3v3h-3zM666 530h3v3h-3zM654 531h3v3h-3zM666 531h3v3h-3zM548 532h3v3h-3zM551 532h3v3h-3zM565 532h3v3h-3zM620 532h3v3h-3zM632 532h3v3h-3zM647 532h3v3h-3zM665 532h3v3h-3zM665 532h3v3h-3zM666 532h3v3h-3zM667 532h3v3h-3zM614 533h3v3h-3zM646 533h3v3h-3zM655 533h3v3h-3zM668 533h3v3h-3zM669 533h3v3h-3zM551 534h3v3h-3zM552 534h3v3h-3zM572 534h3v3h-3zM576 534h3v3h-3zM627 534h3v3h-3zM639 534h3v3h-3zM653 534h3v3h-3zM663 534h3v3h-3zM666 534h3v3h-3zM583 535h3v3h-3zM585 535h3v3h-3zM628 535h3v3h-3zM653 535h3v3h-3zM665 535h3v3h-3zM667 535h3v3h-3zM565 536h3v3h-3zM566 536h3v3h-3zM575 536h3v3h-3zM598 536h3v3h-3zM649 536h3v3h-3zM666 536h3v3h-3zM675 536h3v3h-3zM560 537h3v3h-3zM587 537h3v3h-3zM593 537h3v3h-3zM672 537h3v3h-3zM682 537h3v3h-3zM687 537h3v3h-3zM559 538h3v3h-3zM564 538h3v3h-3zM657 538h3v3h-3zM671 538h3v3h-3zM672 538h3v3h-3zM674 538h3v3h-3zM553 539h3v3h-3zM566 539h3v3h-3zM578 539h3v3h-3zM605 539h3v3h-3zM653 539h3v3h-3zM664 539h3v3h-3zM674 539h3v3h-3zM681 539h3v3h-3zM682 539h3v3h-3zM689 539h3v3h-3zM556 540h3v3h-3zM561 540h3v3h-3zM567 540h3v3h-3zM585 540h3v3h-3zM587 540h3v3h-3zM615 540h3v3h-3zM639 540h3v3h-3zM641 540h3v3h-3zM644 540h3v3h-3zM645 540h3v3h-3zM647 540h3v3h-3zM651 540h3v3h-3zM668 540h3v3h-3zM688 540h3v3h-3zM577 541h3v3h-3zM584 541h3v3h-3zM591 541h3v3h-3zM594 541h3v3h-3zM599 541h3v3h-3zM607 541h3v3h-3zM615 541h3v3h-3zM656 541h3v3h-3zM659 541h3v3h-3zM665 541h3v3h-3zM668 541h3v3h-3zM580 542h3v3h-3zM581 542h3v3h-3zM585 542h3v3h-3zM588 542h3v3h-3zM626 542h3v3h-3zM634 542h3v3h-3zM643 542h3v3h-3zM646 542h3v3h-3zM646 542h3v3h-3zM664 542h3v3h-3zM684 542h3v3h-3zM550 543h3v3h-3zM561 543h3v3h-3zM568 543h3v3h-3zM589 543h3v3h-3zM597 543h3v3h-3zM600 543h3v3h-3zM606 543h3v3h-3zM640 543h3v3h-3zM640 543h3v3h-3zM642 543h3v3h-3zM669 543h3v3h-3zM678 543h3v3h-3zM681 543h3v3h-3zM586 544h3v3h-3zM601 544h3v3h-3zM608 544h3v3h-3zM611 544h3v3h-3zM638 544h3v3h-3zM641 544h3v3h-3zM641 544h3v3h-3zM646 544h3v3h-3zM673 544h3v3h-3zM683 544h3v3h-3zM685 544h3v3h-3zM689 544h3v3h-3zM691 544h3v3h-3zM549 545h3v3h-3zM550 545h3v3h-3zM550 545h3v3h-3zM563 545h3v3h-3zM563 545h3v3h-3zM575 545h3v3h-3zM578 545h3v3h-3zM586 545h3v3h-3zM590 545h3v3h-3zM599 545h3v3h-3zM620 545h3v3h-3zM630 545h3v3h-3zM634 545h3v3h-3zM642 545h3v3h-3zM645 545h3v3h-3zM679 545h3v3h-3zM681 545h3v3h-3zM682 545h3v3h-3zM682 545h3v3h-3zM684 545h3v3h-3zM688 545h3v3h-3zM552 546h3v3h-3zM571 546h3v3h-3zM574 546h3v3h-3zM579 546h3v3h-3zM586 546h3v3h-3zM594 546h3v3h-3zM605 546h3v3h-3zM618 546h3v3h-3zM621 546h3v3h-3zM635 546h3v3h-3zM642 546h3v3h-3zM644 546h3v3h-3zM645 546h3v3h-3zM671 546h3v3h-3zM674 546h3v3h-3zM678 546h3v3h-3zM681 546h3v3h-3zM688 546h3v3h-3zM548 547h3v3h-3zM555 547h3v3h-3zM557 547h3v3h-3zM559 547h3v3h-3zM566 547h3v3h-3zM575 547h3v3h-3zM610 547h3v3h-3zM611 547h3v3h-3zM618 547h3v3h-3zM631 547h3v3h-3zM647 547h3v3h-3zM652 547h3v3h-3zM660 547h3v3h-3zM671 547h3v3h-3zM675 547h3v3h-3zM680 547h3v3h-3zM687 547h3v3h-3zM578 548h3v3h-3zM601 548h3v3h-3zM608 548h3v3h-3zM612 548h3v3h-3zM621 548h3v3h-3zM661 548h3v3h-3zM680 548h3v3h-3zM690 548h3v3h-3zM561 549h3v3h-3zM565 549h3v3h-3zM568 549h3v3h-3zM573 549h3v3h-3zM577 549h3v3h-3zM606 549h3v3h-3zM608 549h3v3h-3zM616 549h3v3h-3zM618 549h3v3h-3zM625 549h3v3h-3zM627 549h3v3h-3zM628 549h3v3h-3zM635 549h3v3h-3zM643 549h3v3h-3zM662 549h3v3h-3zM666 549h3v3h-3zM671 549h3v3h-3zM672 549h3v3h-3zM676 549h3v3h-3zM685 549h3v3h-3zM546 550h3v3h-3zM549 550h3v3h-3zM553 550h3v3h-3zM556 550h3v3h-3zM563 550h3v3h-3zM566 550h3v3h-3zM592 550h3v3h-3zM593 550h3v3h-3zM598 550h3v3h-3zM601 550h3v3h-3zM621 550h3v3h-3zM637 550h3v3h-3zM647 550h3v3h-3zM647 550h3v3h-3zM658 550h3v3h-3zM661 550h3v3h-3zM671 550h3v3h-3zM676 550h3v3h-3zM684 550h3v3h-3zM549 551h3v3h-3zM573 551h3v3h-3zM576 551h3v3h-3zM590 551h3v3h-3zM620 551h3v3h-3zM620 551h3v3h-3zM621 551h3v3h-3zM622 551h3v3h-3zM628 551h3v3h-3zM630 551h3v3h-3zM648 551h3v3h-3zM559 552h3v3h-3zM585 552h3v3h-3zM588 552h3v3h-3zM604 552h3v3h-3zM605 552h3v3h-3zM618 552h3v3h-3zM618 552h3v3h-3zM639 552h3v3h-3zM663 552h3v3h-3zM676 552h3v3h-3zM553 553h3v3h-3zM558 553h3v3h-3zM585 553h3v3h-3zM587 553h3v3h-3zM588 553h3v3h-3zM596 553h3v3h-3zM596 553h3v3h-3zM609 553h3v3h-3zM610 553h3v3h-3zM627 553h3v3h-3zM662 553h3v3h-3zM665 553h3v3h-3zM667 553h3v3h-3zM682 553h3v3h-3zM687 553h3v3h-3zM553 554h3v3h-3zM554 554h3v3h-3zM557 554h3v3h-3zM577 554h3v3h-3zM593 554h3v3h-3zM611 554h3v3h-3zM618 554h3v3h-3zM626 554h3v3h-3zM630 554h3v3h-3zM631 554h3v3h-3zM632 554h3v3h-3zM637 554h3v3h-3zM661 554h3v3h-3zM668 554h3v3h-3zM676 554h3v3h-3zM677 554h3v3h-3zM677 554h3v3h-3zM679 554h3v3h-3zM689 554h3v3h-3zM554 555h3v3h-3zM559 555h3v3h-3zM560 555h3v3h-3zM569 555h3v3h-3zM573 555h3v3h-3zM581 555h3v3h-3zM587 555h3v3h-3zM589 555h3v3h-3zM591 555h3v3h-3zM597 555h3v3h-3zM607 555h3v3h-3zM609 555h3v3h-3zM612 555h3v3h-3zM632 555h3v3h-3zM635 555h3v3h-3zM646 555h3v3h-3zM648 555h3v3h-3zM670 555h3v3h-3zM686 555h3v3h-3zM690 555h3v3h-3zM552 556h3v3h-3zM561 556h3v3h-3zM562 556h3v3h-3zM574 556h3v3h-3zM582 556h3v3h-3zM582 556h3v3h-3zM588 556h3v3h-3zM594 556h3v3h-3zM602 556h3v3h-3zM616 556h3v3h-3zM625 556h3v3h-3zM627 556h3v3h-3zM632 556h3v3h-3zM645 556h3v3h-3zM646 556h3v3h-3zM646 556h3v3h-3zM649 556h3v3h-3zM651 556h3v3h-3zM659 556h3v3h-3zM680 556h3v3h-3zM684 556h3v3h-3zM562 557h3v3h-3zM563 557h3v3h-3zM567 557h3v3h-3zM567 557h3v3h-3zM582 557h3v3h-3zM602 557h3v3h-3zM608 557h3v3h-3zM611 557h3v3h-3zM614 557h3v3h-3zM615 557h3v3h-3zM634 557h3v3h-3zM656 557h3v3h-3zM660 557h3v3h-3zM660 557h3v3h-3zM667 557h3v3h-3zM668 557h3v3h-3zM675 557h3v3h-3zM684 557h3v3h-3zM686 557h3v3h-3zM561 558h3v3h-3zM568 558h3v3h-3zM576 558h3v3h-3zM588 558h3v3h-3zM592 558h3v3h-3zM612 558h3v3h-3zM620 558h3v3h-3zM628 558h3v3h-3zM630 558h3v3h-3zM653 558h3v3h-3zM679 558h3v3h-3zM565 559h3v3h-3zM589 559h3v3h-3zM628 559h3v3h-3zM595 560h3v3h-3z" fill="#8447a2"/>
</g>
<path d="M322.4,279 Q324,268 331.5,266.3 Q338.8,267 340.8,279 Z" fill="#efc6e2" stroke="#c87ab4" stroke-width="0.7"/>
<path d="M326,279 Q327.5,271 331.5,270 Q335.5,271 337,279 Z" fill="#f6dcee" stroke="#dea0cc" stroke-width="0.4"/>
<g filter="url(#bl)" transform="scale(0.5)">
<path d="M765 424h3v3h-3zM718 425h3v3h-3zM729 425h3v3h-3zM739 425h3v3h-3zM750 425h3v3h-3zM735 426h3v3h-3zM735 426h3v3h-3zM740 426h3v3h-3zM746 426h3v3h-3zM751 426h3v3h-3zM768 426h3v3h-3zM773 426h3v3h-3zM790 426h3v3h-3zM811 426h3v3h-3zM836 426h3v3h-3zM727 427h3v3h-3zM733 427h3v3h-3zM734 427h3v3h-3zM735 427h3v3h-3zM766 427h3v3h-3zM776 427h3v3h-3zM785 427h3v3h-3zM791 427h3v3h-3zM722 428h3v3h-3zM729 428h3v3h-3zM735 428h3v3h-3zM749 428h3v3h-3zM750 428h3v3h-3zM761 428h3v3h-3zM769 428h3v3h-3zM782 428h3v3h-3zM784 428h3v3h-3zM790 428h3v3h-3zM821 428h3v3h-3zM825 428h3v3h-3zM851 428h3v3h-3zM722 429h3v3h-3zM722 429h3v3h-3zM731 429h3v3h-3zM731 429h3v3h-3zM749 429h3v3h-3zM758 429h3v3h-3zM791 429h3v3h-3zM815 429h3v3h-3zM723 430h3v3h-3zM727 430h3v3h-3zM728 430h3v3h-3zM733 430h3v3h-3zM733 430h3v3h-3zM743 430h3v3h-3zM743 430h3v3h-3zM817 430h3v3h-3zM845 430h3v3h-3zM722 431h3v3h-3zM726 431h3v3h-3zM731 431h3v3h-3zM731 431h3v3h-3zM757 431h3v3h-3zM803 431h3v3h-3zM857 431h3v3h-3zM726 432h3v3h-3zM729 432h3v3h-3zM745 432h3v3h-3zM747 432h3v3h-3zM792 432h3v3h-3zM816 432h3v3h-3zM817 432h3v3h-3zM724 433h3v3h-3zM730 433h3v3h-3zM732 433h3v3h-3zM732 433h3v3h-3zM732 433h3v3h-3zM755 433h3v3h-3zM768 433h3v3h-3zM810 433h3v3h-3zM846 433h3v3h-3zM858 433h3v3h-3zM715 434h3v3h-3zM720 434h3v3h-3zM721 434h3v3h-3zM737 434h3v3h-3zM741 434h3v3h-3zM797 434h3v3h-3zM724 435h3v3h-3zM724 435h3v3h-3zM727 435h3v3h-3zM733 435h3v3h-3zM734 435h3v3h-3zM738 435h3v3h-3zM783 435h3v3h-3zM826 435h3v3h-3zM737 436h3v3h-3zM737 436h3v3h-3zM741 436h3v3h-3zM801 436h3v3h-3zM716 437h3v3h-3zM733 437h3v3h-3zM741 437h3v3h-3zM745 437h3v3h-3zM750 437h3v3h-3zM753 437h3v3h-3zM816 437h3v3h-3zM715 438h3v3h-3zM723 438h3v3h-3zM740 438h3v3h-3zM745 438h3v3h-3zM748 438h3v3h-3zM749 438h3v3h-3zM749 438h3v3h-3zM816 438h3v3h-3zM846 438h3v3h-3zM718 439h3v3h-3zM719 439h3v3h-3zM723 439h3v3h-3zM725 439h3v3h-3zM730 439h3v3h-3zM735 439h3v3h-3zM737 439h3v3h-3zM741 439h3v3h-3zM742 439h3v3h-3zM743 439h3v3h-3zM757 439h3v3h-3zM808 439h3v3h-3zM734 440h3v3h-3zM774 440h3v3h-3zM785 440h3v3h-3zM737 441h3v3h-3zM742 441h3v3h-3zM742 441h3v3h-3zM747 441h3v3h-3zM748 441h3v3h-3zM780 441h3v3h-3zM787 441h3v3h-3zM807 441h3v3h-3zM851 441h3v3h-3zM735 442h3v3h-3zM743 442h3v3h-3zM750 442h3v3h-3zM775 442h3v3h-3zM776 442h3v3h-3zM844 442h3v3h-3zM743 443h3v3h-3zM746 443h3v3h-3zM750 443h3v3h-3zM754 443h3v3h-3zM762 443h3v3h-3zM784 443h3v3h-3zM817 443h3v3h-3zM839 443h3v3h-3zM729 444h3v3h-3zM730 444h3v3h-3zM742 444h3v3h-3zM742 444h3v3h-3zM747 444h3v3h-3zM751 444h3v3h-3zM775 444h3v3h-3zM818 444h3v3h-3zM842 444h3v3h-3zM857 444h3v3h-3zM858 444h3v3h-3zM859 444h3v3h-3zM741 445h3v3h-3zM746 445h3v3h-3zM771 445h3v3h-3zM772 445h3v3h-3zM781 445h3v3h-3zM817 445h3v3h-3zM840 445h3v3h-3zM736 446h3v3h-3zM744 446h3v3h-3zM749 446h3v3h-3zM764 446h3v3h-3zM779 446h3v3h-3zM793 446h3v3h-3zM800 446h3v3h-3zM809 446h3v3h-3zM837 446h3v3h-3zM717 447h3v3h-3zM735 447h3v3h-3zM748 447h3v3h-3zM757 447h3v3h-3zM821 447h3v3h-3zM741 448h3v3h-3zM746 448h3v3h-3zM756 448h3v3h-3zM764 448h3v3h-3zM825 448h3v3h-3zM854 448h3v3h-3zM737 449h3v3h-3zM739 449h3v3h-3zM751 449h3v3h-3zM751 449h3v3h-3zM758 449h3v3h-3zM764 449h3v3h-3zM769 449h3v3h-3zM811 449h3v3h-3zM836 449h3v3h-3zM732 450h3v3h-3zM739 450h3v3h-3zM746 450h3v3h-3zM763 450h3v3h-3zM741 451h3v3h-3zM741 451h3v3h-3zM748 451h3v3h-3zM752 451h3v3h-3zM774 451h3v3h-3zM777 451h3v3h-3zM832 451h3v3h-3zM836 451h3v3h-3zM844 451h3v3h-3zM714 452h3v3h-3zM720 452h3v3h-3zM744 452h3v3h-3zM752 452h3v3h-3zM758 452h3v3h-3zM799 452h3v3h-3zM813 452h3v3h-3zM740 453h3v3h-3zM742 453h3v3h-3zM746 453h3v3h-3zM814 453h3v3h-3zM826 453h3v3h-3zM837 453h3v3h-3zM838 453h3v3h-3zM712 454h3v3h-3zM728 454h3v3h-3zM736 454h3v3h-3zM737 454h3v3h-3zM740 454h3v3h-3zM741 454h3v3h-3zM744 454h3v3h-3zM745 454h3v3h-3zM764 454h3v3h-3zM768 454h3v3h-3zM791 454h3v3h-3zM812 454h3v3h-3zM740 455h3v3h-3zM741 455h3v3h-3zM763 455h3v3h-3zM766 455h3v3h-3zM795 455h3v3h-3zM803 455h3v3h-3zM817 455h3v3h-3zM745 456h3v3h-3zM762 456h3v3h-3zM780 456h3v3h-3zM759 457h3v3h-3zM760 457h3v3h-3zM760 457h3v3h-3zM762 457h3v3h-3zM766 457h3v3h-3zM777 457h3v3h-3zM787 457h3v3h-3zM746 458h3v3h-3zM773 458h3v3h-3zM809 458h3v3h-3zM813 458h3v3h-3zM831 458h3v3h-3zM739 459h3v3h-3zM748 459h3v3h-3zM755 459h3v3h-3zM756 459h3v3h-3zM762 459h3v3h-3zM765 459h3v3h-3zM853 459h3v3h-3zM854 459h3v3h-3zM733 460h3v3h-3zM738 460h3v3h-3zM739 460h3v3h-3zM747 460h3v3h-3zM791 460h3v3h-3zM796 460h3v3h-3zM797 460h3v3h-3zM812 460h3v3h-3zM836 460h3v3h-3zM738 461h3v3h-3zM745 461h3v3h-3zM751 461h3v3h-3zM757 461h3v3h-3zM765 461h3v3h-3zM787 461h3v3h-3zM806 461h3v3h-3zM811 461h3v3h-3zM817 461h3v3h-3zM818 461h3v3h-3zM821 461h3v3h-3zM847 461h3v3h-3zM739 462h3v3h-3zM758 462h3v3h-3zM762 462h3v3h-3zM820 462h3v3h-3zM850 462h3v3h-3zM742 463h3v3h-3zM754 463h3v3h-3zM766 463h3v3h-3zM780 463h3v3h-3zM827 463h3v3h-3zM840 463h3v3h-3zM724 464h3v3h-3zM727 464h3v3h-3zM738 464h3v3h-3zM738 464h3v3h-3zM748 464h3v3h-3zM765 464h3v3h-3zM825 464h3v3h-3zM715 465h3v3h-3zM737 465h3v3h-3zM748 465h3v3h-3zM749 465h3v3h-3zM749 465h3v3h-3zM755 465h3v3h-3zM724 466h3v3h-3zM740 466h3v3h-3zM742 466h3v3h-3zM766 466h3v3h-3zM810 466h3v3h-3zM810 466h3v3h-3zM823 466h3v3h-3zM826 466h3v3h-3zM856 466h3v3h-3zM738 467h3v3h-3zM738 467h3v3h-3zM739 467h3v3h-3zM752 467h3v3h-3zM764 467h3v3h-3zM764 467h3v3h-3zM765 467h3v3h-3zM777 467h3v3h-3zM789 467h3v3h-3zM798 467h3v3h-3zM840 467h3v3h-3zM736 468h3v3h-3zM740 468h3v3h-3zM756 468h3v3h-3zM764 468h3v3h-3zM768 468h3v3h-3zM771 468h3v3h-3zM779 468h3v3h-3zM810 468h3v3h-3zM835 468h3v3h-3zM713 469h3v3h-3zM737 469h3v3h-3zM742 469h3v3h-3zM745 469h3v3h-3zM747 469h3v3h-3zM748 469h3v3h-3zM749 469h3v3h-3zM752 469h3v3h-3zM764 469h3v3h-3zM766 469h3v3h-3zM772 469h3v3h-3zM810 469h3v3h-3zM825 469h3v3h-3zM737 470h3v3h-3zM737 470h3v3h-3zM738 470h3v3h-3zM740 470h3v3h-3zM741 470h3v3h-3zM743 470h3v3h-3zM744 470h3v3h-3zM744 470h3v3h-3zM753 470h3v3h-3zM754 470h3v3h-3zM754 470h3v3h-3zM761 470h3v3h-3zM762 470h3v3h-3zM772 470h3v3h-3zM784 470h3v3h-3zM791 470h3v3h-3zM805 470h3v3h-3zM817 470h3v3h-3zM835 470h3v3h-3zM737 471h3v3h-3zM738 471h3v3h-3zM742 471h3v3h-3zM744 471h3v3h-3zM747 471h3v3h-3zM763 471h3v3h-3zM770 471h3v3h-3zM805 471h3v3h-3zM728 472h3v3h-3zM736 472h3v3h-3zM737 472h3v3h-3zM738 472h3v3h-3zM742 472h3v3h-3zM742 472h3v3h-3zM750 472h3v3h-3zM751 472h3v3h-3zM761 472h3v3h-3zM767 472h3v3h-3zM773 472h3v3h-3zM780 472h3v3h-3zM780 472h3v3h-3zM783 472h3v3h-3zM829 472h3v3h-3zM840 472h3v3h-3zM739 473h3v3h-3zM744 473h3v3h-3zM747 473h3v3h-3zM759 473h3v3h-3zM764 473h3v3h-3zM780 473h3v3h-3zM784 473h3v3h-3zM812 473h3v3h-3zM819 473h3v3h-3zM838 473h3v3h-3zM839 473h3v3h-3zM743 474h3v3h-3zM744 474h3v3h-3zM745 474h3v3h-3zM748 474h3v3h-3zM750 474h3v3h-3zM750 474h3v3h-3zM753 474h3v3h-3zM781 474h3v3h-3zM783 474h3v3h-3zM831 474h3v3h-3zM857 474h3v3h-3zM716 475h3v3h-3zM741 475h3v3h-3zM745 475h3v3h-3zM762 475h3v3h-3zM773 475h3v3h-3zM808 475h3v3h-3zM821 475h3v3h-3zM853 475h3v3h-3zM738 476h3v3h-3zM744 476h3v3h-3zM746 476h3v3h-3zM747 476h3v3h-3zM754 476h3v3h-3zM759 476h3v3h-3zM761 476h3v3h-3zM763 476h3v3h-3zM814 476h3v3h-3zM818 476h3v3h-3zM840 476h3v3h-3zM845 476h3v3h-3zM858 476h3v3h-3zM748 477h3v3h-3zM761 477h3v3h-3zM795 477h3v3h-3zM804 477h3v3h-3zM720 478h3v3h-3zM753 478h3v3h-3zM745 479h3v3h-3zM755 479h3v3h-3zM760 479h3v3h-3zM767 479h3v3h-3zM782 479h3v3h-3zM790 479h3v3h-3zM841 479h3v3h-3zM736 480h3v3h-3zM748 480h3v3h-3zM763 480h3v3h-3zM763 480h3v3h-3zM819 480h3v3h-3zM826 480h3v3h-3zM737 481h3v3h-3zM748 481h3v3h-3zM788 481h3v3h-3zM809 481h3v3h-3zM856 481h3v3h-3zM725 482h3v3h-3zM737 482h3v3h-3zM739 482h3v3h-3zM748 482h3v3h-3zM757 482h3v3h-3zM766 482h3v3h-3zM781 482h3v3h-3zM782 482h3v3h-3zM783 482h3v3h-3zM806 482h3v3h-3zM716 483h3v3h-3zM731 483h3v3h-3zM743 483h3v3h-3zM757 483h3v3h-3zM778 483h3v3h-3zM790 483h3v3h-3zM806 483h3v3h-3zM812 483h3v3h-3zM828 483h3v3h-3zM848 483h3v3h-3zM852 483h3v3h-3zM741 484h3v3h-3zM751 484h3v3h-3zM790 484h3v3h-3zM722 485h3v3h-3zM724 485h3v3h-3zM751 485h3v3h-3zM762 485h3v3h-3zM763 485h3v3h-3zM808 485h3v3h-3zM811 485h3v3h-3zM818 485h3v3h-3zM712 486h3v3h-3zM737 486h3v3h-3zM738 486h3v3h-3zM747 486h3v3h-3zM753 486h3v3h-3zM778 486h3v3h-3zM830 486h3v3h-3zM840 486h3v3h-3zM736 487h3v3h-3zM736 487h3v3h-3zM759 487h3v3h-3zM763 487h3v3h-3zM786 487h3v3h-3zM790 487h3v3h-3zM810 487h3v3h-3zM841 487h3v3h-3zM713 488h3v3h-3zM728 488h3v3h-3zM738 488h3v3h-3zM753 488h3v3h-3zM754 488h3v3h-3zM757 488h3v3h-3zM771 488h3v3h-3zM778 488h3v3h-3zM779 488h3v3h-3zM780 488h3v3h-3zM784 488h3v3h-3zM855 488h3v3h-3zM737 489h3v3h-3zM743 489h3v3h-3zM749 489h3v3h-3zM762 489h3v3h-3zM766 489h3v3h-3zM769 489h3v3h-3zM841 489h3v3h-3zM855 489h3v3h-3zM735 490h3v3h-3zM736 490h3v3h-3zM739 490h3v3h-3zM740 490h3v3h-3zM742 490h3v3h-3zM749 490h3v3h-3zM771 490h3v3h-3zM812 490h3v3h-3zM825 490h3v3h-3zM736 491h3v3h-3zM741 491h3v3h-3zM742 491h3v3h-3zM745 491h3v3h-3zM804 491h3v3h-3zM744 492h3v3h-3zM757 492h3v3h-3zM767 492h3v3h-3zM787 492h3v3h-3zM789 492h3v3h-3zM814 492h3v3h-3zM818 492h3v3h-3zM724 493h3v3h-3zM741 493h3v3h-3zM743 493h3v3h-3zM745 493h3v3h-3zM756 493h3v3h-3zM766 493h3v3h-3zM782 493h3v3h-3zM790 493h3v3h-3zM819 493h3v3h-3zM739 494h3v3h-3zM741 494h3v3h-3zM745 494h3v3h-3zM746 494h3v3h-3zM751 494h3v3h-3zM781 494h3v3h-3zM783 494h3v3h-3zM805 494h3v3h-3zM831 494h3v3h-3zM738 495h3v3h-3zM743 495h3v3h-3zM743 495h3v3h-3zM749 495h3v3h-3zM754 495h3v3h-3zM759 495h3v3h-3zM765 495h3v3h-3zM767 495h3v3h-3zM777 495h3v3h-3zM779 495h3v3h-3zM793 495h3v3h-3zM742 496h3v3h-3zM772 496h3v3h-3zM788 496h3v3h-3zM790 496h3v3h-3zM796 496h3v3h-3zM810 496h3v3h-3zM811 496h3v3h-3zM736 497h3v3h-3zM737 497h3v3h-3zM737 497h3v3h-3zM749 497h3v3h-3zM750 497h3v3h-3zM750 497h3v3h-3zM753 497h3v3h-3zM798 497h3v3h-3zM824 497h3v3h-3zM841 497h3v3h-3zM844 497h3v3h-3zM847 497h3v3h-3zM716 498h3v3h-3zM732 498h3v3h-3zM756 498h3v3h-3zM760 498h3v3h-3zM774 498h3v3h-3zM784 498h3v3h-3zM789 498h3v3h-3zM827 498h3v3h-3zM852 498h3v3h-3zM857 498h3v3h-3zM732 499h3v3h-3zM740 499h3v3h-3zM740 499h3v3h-3zM763 499h3v3h-3zM779 499h3v3h-3zM842 499h3v3h-3zM737 500h3v3h-3zM740 500h3v3h-3zM743 500h3v3h-3zM749 500h3v3h-3zM762 500h3v3h-3zM769 500h3v3h-3zM777 500h3v3h-3zM778 500h3v3h-3zM780 500h3v3h-3zM799 500h3v3h-3zM838 500h3v3h-3zM740 501h3v3h-3zM758 501h3v3h-3zM766 501h3v3h-3zM767 501h3v3h-3zM773 501h3v3h-3zM790 501h3v3h-3zM792 501h3v3h-3zM798 501h3v3h-3zM802 501h3v3h-3zM745 502h3v3h-3zM753 502h3v3h-3zM758 502h3v3h-3zM759 502h3v3h-3zM760 502h3v3h-3zM791 502h3v3h-3zM793 502h3v3h-3zM799 502h3v3h-3zM742 503h3v3h-3zM762 503h3v3h-3zM834 503h3v3h-3zM739 504h3v3h-3zM761 504h3v3h-3zM773 504h3v3h-3zM794 504h3v3h-3zM797 504h3v3h-3zM818 504h3v3h-3zM758 505h3v3h-3zM764 505h3v3h-3zM788 505h3v3h-3zM798 505h3v3h-3zM809 505h3v3h-3zM814 505h3v3h-3zM737 506h3v3h-3zM747 506h3v3h-3zM754 506h3v3h-3zM755 506h3v3h-3zM770 506h3v3h-3zM776 506h3v3h-3zM779 506h3v3h-3zM783 506h3v3h-3zM801 506h3v3h-3zM854 506h3v3h-3zM712 507h3v3h-3zM771 507h3v3h-3zM774 507h3v3h-3zM785 507h3v3h-3zM787 507h3v3h-3zM802 507h3v3h-3zM820 507h3v3h-3zM741 508h3v3h-3zM741 508h3v3h-3zM751 508h3v3h-3zM753 508h3v3h-3zM763 508h3v3h-3zM782 508h3v3h-3zM789 508h3v3h-3zM798 508h3v3h-3zM849 508h3v3h-3zM724 509h3v3h-3zM738 509h3v3h-3zM742 509h3v3h-3zM771 509h3v3h-3zM795 509h3v3h-3zM802 509h3v3h-3zM804 509h3v3h-3zM742 510h3v3h-3zM753 510h3v3h-3zM773 510h3v3h-3zM793 510h3v3h-3zM799 510h3v3h-3zM828 510h3v3h-3zM744 511h3v3h-3zM756 511h3v3h-3zM771 511h3v3h-3zM815 511h3v3h-3zM835 511h3v3h-3zM735 513h3v3h-3zM737 513h3v3h-3zM742 513h3v3h-3zM745 513h3v3h-3zM746 513h3v3h-3zM747 513h3v3h-3zM763 513h3v3h-3zM769 513h3v3h-3zM774 513h3v3h-3zM776 513h3v3h-3zM781 513h3v3h-3zM795 513h3v3h-3zM819 513h3v3h-3zM826 513h3v3h-3zM729 514h3v3h-3zM735 514h3v3h-3zM742 514h3v3h-3zM746 514h3v3h-3zM747 514h3v3h-3zM756 514h3v3h-3zM809 514h3v3h-3zM819 514h3v3h-3zM823 514h3v3h-3zM853 514h3v3h-3zM724 515h3v3h-3zM736 515h3v3h-3zM751 515h3v3h-3zM764 515h3v3h-3zM765 515h3v3h-3zM855 515h3v3h-3zM743 516h3v3h-3zM747 516h3v3h-3zM748 516h3v3h-3zM748 516h3v3h-3zM776 516h3v3h-3zM780 516h3v3h-3zM788 516h3v3h-3zM796 516h3v3h-3zM813 516h3v3h-3zM715 517h3v3h-3zM746 517h3v3h-3zM746 517h3v3h-3zM750 517h3v3h-3zM751 517h3v3h-3zM752 517h3v3h-3zM766 517h3v3h-3zM773 517h3v3h-3zM777 517h3v3h-3zM739 518h3v3h-3zM742 518h3v3h-3zM749 518h3v3h-3zM753 518h3v3h-3zM758 518h3v3h-3zM763 518h3v3h-3zM775 518h3v3h-3zM779 518h3v3h-3zM784 518h3v3h-3zM785 518h3v3h-3zM793 518h3v3h-3zM803 518h3v3h-3zM812 518h3v3h-3zM856 518h3v3h-3zM859 518h3v3h-3zM745 519h3v3h-3zM748 519h3v3h-3zM842 519h3v3h-3zM844 519h3v3h-3zM745 520h3v3h-3zM758 520h3v3h-3zM769 520h3v3h-3zM773 520h3v3h-3zM786 520h3v3h-3zM804 520h3v3h-3zM809 520h3v3h-3zM830 520h3v3h-3zM714 521h3v3h-3zM722 521h3v3h-3zM745 521h3v3h-3zM768 521h3v3h-3zM791 521h3v3h-3zM798 521h3v3h-3zM804 521h3v3h-3zM808 521h3v3h-3zM829 521h3v3h-3zM841 521h3v3h-3zM751 522h3v3h-3zM772 522h3v3h-3zM787 522h3v3h-3zM816 522h3v3h-3zM747 523h3v3h-3zM749 523h3v3h-3zM752 523h3v3h-3zM761 523h3v3h-3zM766 523h3v3h-3zM792 523h3v3h-3zM736 524h3v3h-3zM748 524h3v3h-3zM798 524h3v3h-3zM808 524h3v3h-3zM822 524h3v3h-3zM827 524h3v3h-3zM840 524h3v3h-3zM740 525h3v3h-3zM746 525h3v3h-3zM757 525h3v3h-3zM757 525h3v3h-3zM830 525h3v3h-3zM841 525h3v3h-3zM743 526h3v3h-3zM746 526h3v3h-3zM759 526h3v3h-3zM760 526h3v3h-3zM781 526h3v3h-3zM802 526h3v3h-3zM834 526h3v3h-3zM836 526h3v3h-3zM841 526h3v3h-3zM845 526h3v3h-3zM735 527h3v3h-3zM738 527h3v3h-3zM744 527h3v3h-3zM744 527h3v3h-3zM751 527h3v3h-3zM757 527h3v3h-3zM760 527h3v3h-3zM773 527h3v3h-3zM778 527h3v3h-3zM785 527h3v3h-3zM802 527h3v3h-3zM831 527h3v3h-3zM847 527h3v3h-3zM852 527h3v3h-3zM736 528h3v3h-3zM740 528h3v3h-3zM743 528h3v3h-3zM744 528h3v3h-3zM746 528h3v3h-3zM751 528h3v3h-3zM768 528h3v3h-3zM777 528h3v3h-3zM780 528h3v3h-3zM781 528h3v3h-3zM790 528h3v3h-3zM817 528h3v3h-3zM822 528h3v3h-3zM827 528h3v3h-3zM827 528h3v3h-3zM827 528h3v3h-3zM834 528h3v3h-3zM844 528h3v3h-3zM721 529h3v3h-3zM734 529h3v3h-3zM743 529h3v3h-3zM747 529h3v3h-3zM781 529h3v3h-3zM829 529h3v3h-3zM845 529h3v3h-3zM741 530h3v3h-3zM744 530h3v3h-3zM744 530h3v3h-3zM744 530h3v3h-3zM745 530h3v3h-3zM746 530h3v3h-3zM746 530h3v3h-3zM747 530h3v3h-3zM747 530h3v3h-3zM749 530h3v3h-3zM754 530h3v3h-3zM797 530h3v3h-3zM803 530h3v3h-3zM805 530h3v3h-3zM814 530h3v3h-3zM824 530h3v3h-3zM826 530h3v3h-3zM826 530h3v3h-3zM834 530h3v3h-3zM839 530h3v3h-3zM841 530h3v3h-3zM740 531h3v3h-3zM754 531h3v3h-3zM766 531h3v3h-3zM770 531h3v3h-3zM779 531h3v3h-3zM818 531h3v3h-3zM834 531h3v3h-3zM834 531h3v3h-3zM847 531h3v3h-3zM742 532h3v3h-3zM746 532h3v3h-3zM754 532h3v3h-3zM758 532h3v3h-3zM758 532h3v3h-3zM767 532h3v3h-3zM790 532h3v3h-3zM794 532h3v3h-3zM800 532h3v3h-3zM848 532h3v3h-3zM852 532h3v3h-3zM735 533h3v3h-3zM747 533h3v3h-3zM750 533h3v3h-3zM774 533h3v3h-3zM783 533h3v3h-3zM783 533h3v3h-3zM801 533h3v3h-3zM802 533h3v3h-3zM813 533h3v3h-3zM835 533h3v3h-3zM840 533h3v3h-3zM841 533h3v3h-3zM853 533h3v3h-3zM746 534h3v3h-3zM750 534h3v3h-3zM755 534h3v3h-3zM755 534h3v3h-3zM759 534h3v3h-3zM770 534h3v3h-3zM780 534h3v3h-3zM798 534h3v3h-3zM829 534h3v3h-3zM839 534h3v3h-3zM746 535h3v3h-3zM746 535h3v3h-3zM749 535h3v3h-3zM770 535h3v3h-3zM788 535h3v3h-3zM790 535h3v3h-3zM796 535h3v3h-3zM799 535h3v3h-3zM820 535h3v3h-3zM828 535h3v3h-3zM828 535h3v3h-3zM839 535h3v3h-3zM840 535h3v3h-3zM859 535h3v3h-3zM729 536h3v3h-3zM749 536h3v3h-3zM750 536h3v3h-3zM754 536h3v3h-3zM765 536h3v3h-3zM784 536h3v3h-3zM788 536h3v3h-3zM801 536h3v3h-3zM812 536h3v3h-3zM817 536h3v3h-3zM825 536h3v3h-3zM826 536h3v3h-3zM831 536h3v3h-3zM839 536h3v3h-3zM853 536h3v3h-3zM724 537h3v3h-3zM729 537h3v3h-3zM738 537h3v3h-3zM747 537h3v3h-3zM752 537h3v3h-3zM757 537h3v3h-3zM763 537h3v3h-3zM765 537h3v3h-3zM774 537h3v3h-3zM777 537h3v3h-3zM778 537h3v3h-3zM783 537h3v3h-3zM784 537h3v3h-3zM789 537h3v3h-3zM802 537h3v3h-3zM813 537h3v3h-3zM814 537h3v3h-3zM815 537h3v3h-3zM824 537h3v3h-3zM829 537h3v3h-3zM838 537h3v3h-3zM847 537h3v3h-3zM733 538h3v3h-3zM740 538h3v3h-3zM746 538h3v3h-3zM748 538h3v3h-3zM754 538h3v3h-3zM761 538h3v3h-3zM769 538h3v3h-3zM778 538h3v3h-3zM781 538h3v3h-3zM796 538h3v3h-3zM830 538h3v3h-3zM836 538h3v3h-3zM840 538h3v3h-3zM736 539h3v3h-3zM759 539h3v3h-3zM759 539h3v3h-3zM762 539h3v3h-3zM763 539h3v3h-3zM783 539h3v3h-3zM787 539h3v3h-3zM788 539h3v3h-3zM798 539h3v3h-3zM809 539h3v3h-3zM812 539h3v3h-3zM833 539h3v3h-3zM834 539h3v3h-3zM838 539h3v3h-3zM838 539h3v3h-3zM854 539h3v3h-3zM744 540h3v3h-3zM761 540h3v3h-3zM762 540h3v3h-3zM766 540h3v3h-3zM767 540h3v3h-3zM788 540h3v3h-3zM791 540h3v3h-3zM794 540h3v3h-3zM800 540h3v3h-3zM817 540h3v3h-3zM836 540h3v3h-3zM836 540h3v3h-3zM753 541h3v3h-3zM756 541h3v3h-3zM757 541h3v3h-3zM758 541h3v3h-3zM760 541h3v3h-3zM769 541h3v3h-3zM776 541h3v3h-3zM784 541h3v3h-3zM796 541h3v3h-3zM798 541h3v3h-3zM799 541h3v3h-3zM799 541h3v3h-3zM804 541h3v3h-3zM814 541h3v3h-3zM818 541h3v3h-3zM828 541h3v3h-3zM831 541h3v3h-3zM837 541h3v3h-3zM844 541h3v3h-3zM849 541h3v3h-3zM859 541h3v3h-3zM718 542h3v3h-3zM732 542h3v3h-3zM740 542h3v3h-3zM745 542h3v3h-3zM749 542h3v3h-3zM756 542h3v3h-3zM773 542h3v3h-3zM775 542h3v3h-3zM785 542h3v3h-3zM790 542h3v3h-3zM793 542h3v3h-3zM798 542h3v3h-3zM804 542h3v3h-3zM805 542h3v3h-3zM822 542h3v3h-3zM843 542h3v3h-3zM857 542h3v3h-3zM755 543h3v3h-3zM759 543h3v3h-3zM768 543h3v3h-3zM770 543h3v3h-3zM771 543h3v3h-3zM783 543h3v3h-3zM800 543h3v3h-3zM802 543h3v3h-3zM823 543h3v3h-3zM832 543h3v3h-3zM757 544h3v3h-3zM757 544h3v3h-3zM768 544h3v3h-3zM792 544h3v3h-3zM797 544h3v3h-3zM798 544h3v3h-3zM799 544h3v3h-3zM803 544h3v3h-3zM804 544h3v3h-3zM816 544h3v3h-3zM833 544h3v3h-3zM722 545h3v3h-3zM732 545h3v3h-3zM735 545h3v3h-3zM745 545h3v3h-3zM749 545h3v3h-3zM759 545h3v3h-3zM774 545h3v3h-3zM774 545h3v3h-3zM783 545h3v3h-3zM798 545h3v3h-3zM799 545h3v3h-3zM805 545h3v3h-3zM807 545h3v3h-3zM818 545h3v3h-3zM836 545h3v3h-3zM844 545h3v3h-3zM845 545h3v3h-3zM846 545h3v3h-3zM849 545h3v3h-3zM854 545h3v3h-3zM855 545h3v3h-3zM858 545h3v3h-3zM741 546h3v3h-3zM745 546h3v3h-3zM754 546h3v3h-3zM758 546h3v3h-3zM762 546h3v3h-3zM769 546h3v3h-3zM774 546h3v3h-3zM777 546h3v3h-3zM796 546h3v3h-3zM796 546h3v3h-3zM808 546h3v3h-3zM808 546h3v3h-3zM811 546h3v3h-3zM829 546h3v3h-3zM837 546h3v3h-3zM845 546h3v3h-3zM850 546h3v3h-3zM853 546h3v3h-3zM723 547h3v3h-3zM734 547h3v3h-3zM742 547h3v3h-3zM744 547h3v3h-3zM745 547h3v3h-3zM754 547h3v3h-3zM757 547h3v3h-3zM780 547h3v3h-3zM782 547h3v3h-3zM788 547h3v3h-3zM803 547h3v3h-3zM805 547h3v3h-3zM828 547h3v3h-3zM834 547h3v3h-3zM835 547h3v3h-3zM836 547h3v3h-3zM755 548h3v3h-3zM759 548h3v3h-3zM765 548h3v3h-3zM775 548h3v3h-3zM789 548h3v3h-3zM814 548h3v3h-3zM815 548h3v3h-3zM822 548h3v3h-3zM822 548h3v3h-3zM822 548h3v3h-3zM826 548h3v3h-3zM827 548h3v3h-3zM831 548h3v3h-3zM847 548h3v3h-3zM855 548h3v3h-3zM766 549h3v3h-3zM784 549h3v3h-3zM823 549h3v3h-3zM827 549h3v3h-3zM834 549h3v3h-3zM849 549h3v3h-3zM857 549h3v3h-3zM716 550h3v3h-3zM807 550h3v3h-3zM813 550h3v3h-3zM813 550h3v3h-3zM814 550h3v3h-3zM846 550h3v3h-3zM849 550h3v3h-3zM852 550h3v3h-3zM817 551h3v3h-3zM819 551h3v3h-3zM821 551h3v3h-3zM834 551h3v3h-3zM719 552h3v3h-3zM808 552h3v3h-3zM847 552h3v3h-3zM848 553h3v3h-3zM713 559h3v3h-3z" fill="#e0820f"/>
<path d="M735 425h3v3h-3zM790 426h3v3h-3zM811 426h3v3h-3zM831 426h3v3h-3zM834 426h3v3h-3zM730 427h3v3h-3zM738 427h3v3h-3zM760 427h3v3h-3zM800 427h3v3h-3zM732 428h3v3h-3zM750 428h3v3h-3zM820 428h3v3h-3zM716 429h3v3h-3zM730 429h3v3h-3zM738 429h3v3h-3zM771 429h3v3h-3zM787 429h3v3h-3zM803 429h3v3h-3zM735 430h3v3h-3zM782 430h3v3h-3zM791 430h3v3h-3zM803 430h3v3h-3zM719 431h3v3h-3zM720 431h3v3h-3zM724 431h3v3h-3zM725 431h3v3h-3zM750 431h3v3h-3zM792 431h3v3h-3zM735 432h3v3h-3zM726 433h3v3h-3zM745 433h3v3h-3zM813 434h3v3h-3zM815 434h3v3h-3zM718 435h3v3h-3zM718 435h3v3h-3zM744 435h3v3h-3zM761 435h3v3h-3zM767 435h3v3h-3zM802 435h3v3h-3zM824 435h3v3h-3zM725 436h3v3h-3zM733 436h3v3h-3zM735 436h3v3h-3zM792 436h3v3h-3zM793 436h3v3h-3zM846 436h3v3h-3zM731 437h3v3h-3zM735 437h3v3h-3zM774 437h3v3h-3zM802 437h3v3h-3zM803 437h3v3h-3zM817 437h3v3h-3zM726 438h3v3h-3zM741 438h3v3h-3zM748 438h3v3h-3zM759 438h3v3h-3zM841 438h3v3h-3zM846 438h3v3h-3zM726 439h3v3h-3zM762 439h3v3h-3zM784 439h3v3h-3zM727 440h3v3h-3zM734 440h3v3h-3zM744 440h3v3h-3zM800 440h3v3h-3zM842 440h3v3h-3zM747 441h3v3h-3zM808 441h3v3h-3zM847 441h3v3h-3zM746 442h3v3h-3zM766 442h3v3h-3zM836 442h3v3h-3zM745 443h3v3h-3zM817 443h3v3h-3zM743 444h3v3h-3zM750 444h3v3h-3zM770 444h3v3h-3zM739 445h3v3h-3zM743 445h3v3h-3zM752 445h3v3h-3zM763 445h3v3h-3zM766 445h3v3h-3zM769 445h3v3h-3zM821 445h3v3h-3zM764 446h3v3h-3zM778 446h3v3h-3zM788 446h3v3h-3zM816 446h3v3h-3zM751 447h3v3h-3zM759 447h3v3h-3zM803 447h3v3h-3zM736 448h3v3h-3zM748 448h3v3h-3zM793 449h3v3h-3zM740 450h3v3h-3zM799 450h3v3h-3zM807 450h3v3h-3zM733 451h3v3h-3zM783 451h3v3h-3zM751 452h3v3h-3zM768 452h3v3h-3zM772 452h3v3h-3zM780 452h3v3h-3zM829 452h3v3h-3zM841 452h3v3h-3zM852 452h3v3h-3zM711 453h3v3h-3zM736 453h3v3h-3zM742 453h3v3h-3zM766 453h3v3h-3zM754 454h3v3h-3zM765 454h3v3h-3zM847 454h3v3h-3zM726 455h3v3h-3zM742 455h3v3h-3zM762 455h3v3h-3zM817 455h3v3h-3zM746 456h3v3h-3zM805 456h3v3h-3zM727 457h3v3h-3zM858 458h3v3h-3zM760 459h3v3h-3zM765 459h3v3h-3zM736 460h3v3h-3zM744 460h3v3h-3zM744 460h3v3h-3zM755 460h3v3h-3zM781 460h3v3h-3zM856 461h3v3h-3zM741 463h3v3h-3zM791 463h3v3h-3zM750 464h3v3h-3zM763 465h3v3h-3zM765 465h3v3h-3zM806 465h3v3h-3zM824 466h3v3h-3zM836 466h3v3h-3zM743 467h3v3h-3zM745 467h3v3h-3zM847 467h3v3h-3zM737 468h3v3h-3zM739 468h3v3h-3zM755 468h3v3h-3zM759 468h3v3h-3zM773 468h3v3h-3zM796 468h3v3h-3zM837 468h3v3h-3zM742 469h3v3h-3zM752 469h3v3h-3zM766 469h3v3h-3zM783 469h3v3h-3zM805 469h3v3h-3zM747 470h3v3h-3zM754 470h3v3h-3zM793 470h3v3h-3zM800 470h3v3h-3zM850 470h3v3h-3zM740 471h3v3h-3zM743 471h3v3h-3zM747 471h3v3h-3zM809 471h3v3h-3zM812 471h3v3h-3zM857 471h3v3h-3zM793 472h3v3h-3zM738 473h3v3h-3zM745 473h3v3h-3zM766 473h3v3h-3zM796 473h3v3h-3zM851 473h3v3h-3zM744 474h3v3h-3zM750 474h3v3h-3zM774 474h3v3h-3zM804 474h3v3h-3zM746 475h3v3h-3zM747 475h3v3h-3zM756 475h3v3h-3zM807 475h3v3h-3zM810 475h3v3h-3zM823 475h3v3h-3zM828 475h3v3h-3zM744 476h3v3h-3zM752 476h3v3h-3zM827 476h3v3h-3zM854 476h3v3h-3zM766 477h3v3h-3zM738 478h3v3h-3zM755 478h3v3h-3zM755 478h3v3h-3zM770 478h3v3h-3zM788 478h3v3h-3zM853 478h3v3h-3zM751 479h3v3h-3zM831 479h3v3h-3zM838 479h3v3h-3zM777 480h3v3h-3zM779 480h3v3h-3zM848 480h3v3h-3zM739 481h3v3h-3zM756 481h3v3h-3zM758 481h3v3h-3zM762 481h3v3h-3zM776 481h3v3h-3zM778 481h3v3h-3zM757 482h3v3h-3zM757 482h3v3h-3zM822 482h3v3h-3zM843 482h3v3h-3zM735 483h3v3h-3zM777 483h3v3h-3zM803 483h3v3h-3zM810 483h3v3h-3zM839 483h3v3h-3zM720 484h3v3h-3zM764 484h3v3h-3zM776 484h3v3h-3zM795 484h3v3h-3zM820 484h3v3h-3zM840 484h3v3h-3zM858 484h3v3h-3zM721 485h3v3h-3zM737 485h3v3h-3zM737 485h3v3h-3zM737 486h3v3h-3zM747 486h3v3h-3zM778 486h3v3h-3zM779 486h3v3h-3zM747 487h3v3h-3zM786 487h3v3h-3zM739 488h3v3h-3zM751 488h3v3h-3zM815 488h3v3h-3zM740 489h3v3h-3zM766 489h3v3h-3zM799 489h3v3h-3zM814 489h3v3h-3zM842 489h3v3h-3zM737 490h3v3h-3zM754 491h3v3h-3zM855 491h3v3h-3zM790 493h3v3h-3zM745 494h3v3h-3zM760 494h3v3h-3zM738 495h3v3h-3zM742 495h3v3h-3zM754 495h3v3h-3zM754 495h3v3h-3zM788 495h3v3h-3zM828 495h3v3h-3zM854 495h3v3h-3zM742 496h3v3h-3zM743 496h3v3h-3zM770 496h3v3h-3zM775 496h3v3h-3zM775 496h3v3h-3zM811 496h3v3h-3zM742 497h3v3h-3zM747 497h3v3h-3zM777 497h3v3h-3zM745 498h3v3h-3zM753 498h3v3h-3zM740 499h3v3h-3zM858 499h3v3h-3zM748 500h3v3h-3zM756 500h3v3h-3zM770 500h3v3h-3zM785 500h3v3h-3zM792 500h3v3h-3zM739 501h3v3h-3zM816 501h3v3h-3zM751 502h3v3h-3zM794 502h3v3h-3zM819 502h3v3h-3zM735 503h3v3h-3zM743 503h3v3h-3zM785 503h3v3h-3zM822 503h3v3h-3zM757 504h3v3h-3zM825 504h3v3h-3zM736 505h3v3h-3zM742 505h3v3h-3zM756 505h3v3h-3zM848 505h3v3h-3zM745 506h3v3h-3zM746 506h3v3h-3zM748 506h3v3h-3zM794 506h3v3h-3zM806 506h3v3h-3zM754 507h3v3h-3zM755 507h3v3h-3zM789 507h3v3h-3zM748 508h3v3h-3zM798 508h3v3h-3zM800 508h3v3h-3zM739 509h3v3h-3zM744 509h3v3h-3zM826 509h3v3h-3zM827 509h3v3h-3zM743 510h3v3h-3zM751 510h3v3h-3zM833 510h3v3h-3zM764 511h3v3h-3zM782 511h3v3h-3zM783 511h3v3h-3zM803 511h3v3h-3zM845 511h3v3h-3zM739 512h3v3h-3zM769 512h3v3h-3zM778 512h3v3h-3zM813 512h3v3h-3zM842 512h3v3h-3zM757 513h3v3h-3zM764 513h3v3h-3zM817 513h3v3h-3zM822 513h3v3h-3zM832 513h3v3h-3zM736 514h3v3h-3zM758 514h3v3h-3zM764 514h3v3h-3zM801 514h3v3h-3zM844 514h3v3h-3zM758 515h3v3h-3zM778 515h3v3h-3zM812 515h3v3h-3zM820 515h3v3h-3zM832 515h3v3h-3zM741 516h3v3h-3zM793 516h3v3h-3zM797 516h3v3h-3zM741 517h3v3h-3zM750 517h3v3h-3zM755 517h3v3h-3zM819 517h3v3h-3zM832 517h3v3h-3zM833 517h3v3h-3zM783 518h3v3h-3zM791 518h3v3h-3zM810 518h3v3h-3zM731 519h3v3h-3zM736 519h3v3h-3zM770 519h3v3h-3zM786 519h3v3h-3zM787 519h3v3h-3zM740 520h3v3h-3zM745 520h3v3h-3zM748 520h3v3h-3zM749 520h3v3h-3zM752 520h3v3h-3zM753 520h3v3h-3zM758 520h3v3h-3zM759 520h3v3h-3zM750 521h3v3h-3zM752 521h3v3h-3zM795 521h3v3h-3zM747 522h3v3h-3zM748 522h3v3h-3zM760 522h3v3h-3zM838 522h3v3h-3zM855 522h3v3h-3zM738 523h3v3h-3zM773 523h3v3h-3zM792 523h3v3h-3zM757 524h3v3h-3zM787 524h3v3h-3zM787 524h3v3h-3zM830 524h3v3h-3zM761 525h3v3h-3zM856 525h3v3h-3zM854 526h3v3h-3zM735 527h3v3h-3zM740 527h3v3h-3zM771 527h3v3h-3zM828 528h3v3h-3zM834 528h3v3h-3zM738 529h3v3h-3zM738 529h3v3h-3zM780 529h3v3h-3zM827 529h3v3h-3zM742 530h3v3h-3zM748 530h3v3h-3zM770 530h3v3h-3zM786 530h3v3h-3zM736 531h3v3h-3zM736 531h3v3h-3zM774 531h3v3h-3zM784 531h3v3h-3zM744 532h3v3h-3zM745 532h3v3h-3zM747 532h3v3h-3zM781 532h3v3h-3zM783 532h3v3h-3zM841 532h3v3h-3zM774 533h3v3h-3zM797 533h3v3h-3zM798 533h3v3h-3zM819 533h3v3h-3zM840 533h3v3h-3zM850 533h3v3h-3zM757 534h3v3h-3zM782 534h3v3h-3zM783 534h3v3h-3zM846 534h3v3h-3zM780 535h3v3h-3zM784 535h3v3h-3zM824 535h3v3h-3zM765 536h3v3h-3zM788 536h3v3h-3zM800 536h3v3h-3zM823 536h3v3h-3zM853 536h3v3h-3zM855 536h3v3h-3zM736 537h3v3h-3zM753 537h3v3h-3zM846 537h3v3h-3zM850 537h3v3h-3zM748 538h3v3h-3zM798 538h3v3h-3zM804 538h3v3h-3zM815 538h3v3h-3zM832 538h3v3h-3zM835 538h3v3h-3zM838 538h3v3h-3zM849 538h3v3h-3zM850 538h3v3h-3zM737 539h3v3h-3zM798 539h3v3h-3zM831 539h3v3h-3zM852 539h3v3h-3zM727 540h3v3h-3zM738 540h3v3h-3zM779 540h3v3h-3zM789 540h3v3h-3zM790 540h3v3h-3zM802 540h3v3h-3zM811 540h3v3h-3zM751 541h3v3h-3zM859 541h3v3h-3zM744 542h3v3h-3zM745 542h3v3h-3zM801 542h3v3h-3zM821 542h3v3h-3zM823 542h3v3h-3zM831 542h3v3h-3zM832 542h3v3h-3zM836 542h3v3h-3zM719 543h3v3h-3zM751 543h3v3h-3zM835 543h3v3h-3zM752 544h3v3h-3zM804 544h3v3h-3zM741 545h3v3h-3zM766 545h3v3h-3zM768 545h3v3h-3zM802 545h3v3h-3zM803 545h3v3h-3zM812 545h3v3h-3zM739 546h3v3h-3zM755 546h3v3h-3zM760 546h3v3h-3zM859 546h3v3h-3zM735 547h3v3h-3zM772 547h3v3h-3zM779 547h3v3h-3zM836 547h3v3h-3zM737 548h3v3h-3zM738 548h3v3h-3zM762 548h3v3h-3zM810 548h3v3h-3zM812 548h3v3h-3zM831 548h3v3h-3zM796 549h3v3h-3zM815 549h3v3h-3zM821 549h3v3h-3zM826 549h3v3h-3zM835 549h3v3h-3zM811 550h3v3h-3zM817 550h3v3h-3zM857 550h3v3h-3zM823 552h3v3h-3zM829 552h3v3h-3zM847 552h3v3h-3zM856 553h3v3h-3z" fill="#ea9a30"/>
</g>
<path d="M358.5,281 L359.5,230 Q360.5,220.5 365,220.5 Q369.5,221.5 369.8,230 L370.5,273.5 L406,274 L408,277 L430,277 L430,282 L357,282 Z" fill="#fcf1dc" stroke="#f0c080" stroke-width="0.6"/>
<path d="M362,276 L362,231 Q363,224.5 365,224.5 Q367.5,225.5 367.5,231 L368,276" fill="none" stroke="#f4d4a0" stroke-width="0.5"/>
<path d="M364.3,276 L364.3,233 Q365,229 366,233 L366,276" fill="none" stroke="#f6dcae" stroke-width="0.4"/>
<path d="M358,278.2 L429,278.2" stroke="#f7e0a8" stroke-width="1.2"/>
<path d="M358,280.6 L429,280.6" stroke="#f3ce6a" stroke-width="0.9"/>
<path d="M409,280 Q413,265 418.5,264.8 Q424,265 428.3,280 Z" fill="#fcf2e0" stroke="#eeb060" stroke-width="0.7"/>
<path d="M412,279.5 Q415,269 418.5,268.8 Q422,269 425,279.5" fill="none" stroke="#f4d09a" stroke-width="0.5"/>
<path d="M415,279 Q416.5,273 418.5,272.8 Q420.5,273 422,279" fill="none" stroke="#f6dcae" stroke-width="0.4"/>
<line x1="488.5" y1="211.5" x2="488.5" y2="289.5" stroke="#7a3a40" stroke-width="1" />
<line x1="433.5" y1="263.5" x2="512.5" y2="263.5" stroke="#7a3a40" stroke-width="1" />
<g filter="url(#bl)" transform="scale(0.5)">
<path d="M934 423h3v3h-3zM883 424h3v3h-3zM884 424h3v3h-3zM938 424h3v3h-3zM971 424h3v3h-3zM997 424h3v3h-3zM888 425h3v3h-3zM892 425h3v3h-3zM899 425h3v3h-3zM918 425h3v3h-3zM920 425h3v3h-3zM929 425h3v3h-3zM935 425h3v3h-3zM944 425h3v3h-3zM962 425h3v3h-3zM893 426h3v3h-3zM897 426h3v3h-3zM906 426h3v3h-3zM918 426h3v3h-3zM930 426h3v3h-3zM935 426h3v3h-3zM936 426h3v3h-3zM937 426h3v3h-3zM963 426h3v3h-3zM982 426h3v3h-3zM890 427h3v3h-3zM892 427h3v3h-3zM896 427h3v3h-3zM898 427h3v3h-3zM899 427h3v3h-3zM907 427h3v3h-3zM924 427h3v3h-3zM932 427h3v3h-3zM934 427h3v3h-3zM935 427h3v3h-3zM938 427h3v3h-3zM949 427h3v3h-3zM883 428h3v3h-3zM885 428h3v3h-3zM889 428h3v3h-3zM913 428h3v3h-3zM916 428h3v3h-3zM940 428h3v3h-3zM886 429h3v3h-3zM898 429h3v3h-3zM899 429h3v3h-3zM901 429h3v3h-3zM923 429h3v3h-3zM928 429h3v3h-3zM962 429h3v3h-3zM882 430h3v3h-3zM885 430h3v3h-3zM888 430h3v3h-3zM893 430h3v3h-3zM910 430h3v3h-3zM927 430h3v3h-3zM927 430h3v3h-3zM932 430h3v3h-3zM942 430h3v3h-3zM1006 430h3v3h-3zM883 431h3v3h-3zM884 431h3v3h-3zM892 431h3v3h-3zM910 431h3v3h-3zM913 431h3v3h-3zM914 431h3v3h-3zM935 431h3v3h-3zM937 431h3v3h-3zM1011 431h3v3h-3zM910 432h3v3h-3zM915 432h3v3h-3zM917 432h3v3h-3zM918 432h3v3h-3zM920 432h3v3h-3zM923 432h3v3h-3zM944 432h3v3h-3zM892 433h3v3h-3zM903 433h3v3h-3zM924 433h3v3h-3zM926 433h3v3h-3zM1012 433h3v3h-3zM888 434h3v3h-3zM910 434h3v3h-3zM910 434h3v3h-3zM911 434h3v3h-3zM917 434h3v3h-3zM921 434h3v3h-3zM922 434h3v3h-3zM922 434h3v3h-3zM936 434h3v3h-3zM937 434h3v3h-3zM944 434h3v3h-3zM951 434h3v3h-3zM966 434h3v3h-3zM883 435h3v3h-3zM897 435h3v3h-3zM898 435h3v3h-3zM907 435h3v3h-3zM910 435h3v3h-3zM914 435h3v3h-3zM918 435h3v3h-3zM940 435h3v3h-3zM975 435h3v3h-3zM886 436h3v3h-3zM887 436h3v3h-3zM888 436h3v3h-3zM889 436h3v3h-3zM918 436h3v3h-3zM919 436h3v3h-3zM921 436h3v3h-3zM936 436h3v3h-3zM937 436h3v3h-3zM947 436h3v3h-3zM956 436h3v3h-3zM882 437h3v3h-3zM888 437h3v3h-3zM892 437h3v3h-3zM898 437h3v3h-3zM903 437h3v3h-3zM903 437h3v3h-3zM908 437h3v3h-3zM914 437h3v3h-3zM927 437h3v3h-3zM929 437h3v3h-3zM931 437h3v3h-3zM886 438h3v3h-3zM888 438h3v3h-3zM903 438h3v3h-3zM906 438h3v3h-3zM917 438h3v3h-3zM922 438h3v3h-3zM928 438h3v3h-3zM930 438h3v3h-3zM933 438h3v3h-3zM935 438h3v3h-3zM937 438h3v3h-3zM939 438h3v3h-3zM951 438h3v3h-3zM953 438h3v3h-3zM955 438h3v3h-3zM886 439h3v3h-3zM888 439h3v3h-3zM891 439h3v3h-3zM897 439h3v3h-3zM901 439h3v3h-3zM903 439h3v3h-3zM916 439h3v3h-3zM929 439h3v3h-3zM939 439h3v3h-3zM940 439h3v3h-3zM942 439h3v3h-3zM945 439h3v3h-3zM955 439h3v3h-3zM1018 439h3v3h-3zM890 440h3v3h-3zM895 440h3v3h-3zM900 440h3v3h-3zM900 440h3v3h-3zM904 440h3v3h-3zM907 440h3v3h-3zM912 440h3v3h-3zM918 440h3v3h-3zM920 440h3v3h-3zM929 440h3v3h-3zM933 440h3v3h-3zM941 440h3v3h-3zM948 440h3v3h-3zM961 440h3v3h-3zM889 441h3v3h-3zM896 441h3v3h-3zM897 441h3v3h-3zM905 441h3v3h-3zM910 441h3v3h-3zM917 441h3v3h-3zM918 441h3v3h-3zM922 441h3v3h-3zM923 441h3v3h-3zM930 441h3v3h-3zM933 441h3v3h-3zM939 441h3v3h-3zM940 441h3v3h-3zM946 441h3v3h-3zM952 441h3v3h-3zM954 441h3v3h-3zM991 441h3v3h-3zM992 441h3v3h-3zM884 442h3v3h-3zM893 442h3v3h-3zM910 442h3v3h-3zM911 442h3v3h-3zM918 442h3v3h-3zM934 442h3v3h-3zM935 442h3v3h-3zM944 442h3v3h-3zM948 442h3v3h-3zM889 443h3v3h-3zM913 443h3v3h-3zM928 443h3v3h-3zM909 444h3v3h-3zM914 444h3v3h-3zM914 444h3v3h-3zM919 444h3v3h-3zM928 444h3v3h-3zM929 444h3v3h-3zM941 444h3v3h-3zM944 444h3v3h-3zM947 444h3v3h-3zM892 445h3v3h-3zM917 445h3v3h-3zM924 445h3v3h-3zM931 445h3v3h-3zM1008 445h3v3h-3zM940 446h3v3h-3zM954 446h3v3h-3zM1000 446h3v3h-3zM1000 446h3v3h-3zM886 447h3v3h-3zM891 447h3v3h-3zM892 447h3v3h-3zM894 447h3v3h-3zM897 447h3v3h-3zM901 447h3v3h-3zM908 447h3v3h-3zM908 447h3v3h-3zM922 447h3v3h-3zM923 447h3v3h-3zM937 447h3v3h-3zM950 447h3v3h-3zM955 447h3v3h-3zM969 447h3v3h-3zM886 448h3v3h-3zM895 448h3v3h-3zM902 448h3v3h-3zM909 448h3v3h-3zM924 448h3v3h-3zM927 448h3v3h-3zM949 448h3v3h-3zM953 448h3v3h-3zM956 448h3v3h-3zM901 449h3v3h-3zM927 449h3v3h-3zM941 449h3v3h-3zM954 449h3v3h-3zM957 449h3v3h-3zM962 449h3v3h-3zM885 450h3v3h-3zM893 450h3v3h-3zM896 450h3v3h-3zM898 450h3v3h-3zM899 450h3v3h-3zM905 450h3v3h-3zM911 450h3v3h-3zM914 450h3v3h-3zM923 450h3v3h-3zM927 450h3v3h-3zM883 451h3v3h-3zM892 451h3v3h-3zM896 451h3v3h-3zM903 451h3v3h-3zM918 451h3v3h-3zM930 451h3v3h-3zM968 451h3v3h-3zM979 451h3v3h-3zM884 452h3v3h-3zM887 452h3v3h-3zM895 452h3v3h-3zM900 452h3v3h-3zM905 452h3v3h-3zM913 452h3v3h-3zM919 452h3v3h-3zM919 452h3v3h-3zM933 452h3v3h-3zM934 452h3v3h-3zM934 452h3v3h-3zM936 452h3v3h-3zM948 452h3v3h-3zM969 452h3v3h-3zM883 453h3v3h-3zM884 453h3v3h-3zM892 453h3v3h-3zM896 453h3v3h-3zM901 453h3v3h-3zM904 453h3v3h-3zM908 453h3v3h-3zM919 453h3v3h-3zM920 453h3v3h-3zM930 453h3v3h-3zM945 453h3v3h-3zM946 453h3v3h-3zM963 453h3v3h-3zM987 453h3v3h-3zM1010 453h3v3h-3zM884 454h3v3h-3zM884 454h3v3h-3zM914 454h3v3h-3zM933 454h3v3h-3zM939 454h3v3h-3zM943 454h3v3h-3zM964 454h3v3h-3zM880 455h3v3h-3zM909 455h3v3h-3zM922 455h3v3h-3zM940 455h3v3h-3zM959 455h3v3h-3zM889 456h3v3h-3zM891 456h3v3h-3zM936 456h3v3h-3zM938 456h3v3h-3zM940 456h3v3h-3zM945 456h3v3h-3zM959 456h3v3h-3zM959 456h3v3h-3zM962 456h3v3h-3zM963 456h3v3h-3zM889 457h3v3h-3zM908 457h3v3h-3zM919 457h3v3h-3zM919 457h3v3h-3zM922 457h3v3h-3zM925 457h3v3h-3zM925 457h3v3h-3zM926 457h3v3h-3zM937 457h3v3h-3zM939 457h3v3h-3zM939 457h3v3h-3zM946 457h3v3h-3zM958 457h3v3h-3zM962 457h3v3h-3zM962 457h3v3h-3zM963 457h3v3h-3zM978 457h3v3h-3zM994 457h3v3h-3zM883 458h3v3h-3zM886 458h3v3h-3zM887 458h3v3h-3zM891 458h3v3h-3zM892 458h3v3h-3zM892 458h3v3h-3zM896 458h3v3h-3zM898 458h3v3h-3zM901 458h3v3h-3zM906 458h3v3h-3zM907 458h3v3h-3zM908 458h3v3h-3zM914 458h3v3h-3zM918 458h3v3h-3zM927 458h3v3h-3zM929 458h3v3h-3zM941 458h3v3h-3zM944 458h3v3h-3zM946 458h3v3h-3zM956 458h3v3h-3zM961 458h3v3h-3zM973 458h3v3h-3zM874 459h3v3h-3zM886 459h3v3h-3zM891 459h3v3h-3zM926 459h3v3h-3zM938 459h3v3h-3zM940 459h3v3h-3zM949 459h3v3h-3zM969 459h3v3h-3zM971 459h3v3h-3zM983 459h3v3h-3zM873 460h3v3h-3zM889 460h3v3h-3zM891 460h3v3h-3zM916 460h3v3h-3zM917 460h3v3h-3zM917 460h3v3h-3zM919 460h3v3h-3zM925 460h3v3h-3zM925 460h3v3h-3zM926 460h3v3h-3zM927 460h3v3h-3zM940 460h3v3h-3zM943 460h3v3h-3zM944 460h3v3h-3zM954 460h3v3h-3zM960 460h3v3h-3zM966 460h3v3h-3zM966 460h3v3h-3zM889 461h3v3h-3zM909 461h3v3h-3zM909 461h3v3h-3zM922 461h3v3h-3zM926 461h3v3h-3zM927 461h3v3h-3zM927 461h3v3h-3zM936 461h3v3h-3zM943 461h3v3h-3zM946 461h3v3h-3zM947 461h3v3h-3zM959 461h3v3h-3zM967 461h3v3h-3zM971 461h3v3h-3zM1002 461h3v3h-3zM891 462h3v3h-3zM892 462h3v3h-3zM900 462h3v3h-3zM904 462h3v3h-3zM918 462h3v3h-3zM919 462h3v3h-3zM926 462h3v3h-3zM926 462h3v3h-3zM929 462h3v3h-3zM937 462h3v3h-3zM941 462h3v3h-3zM950 462h3v3h-3zM952 462h3v3h-3zM954 462h3v3h-3zM960 462h3v3h-3zM963 462h3v3h-3zM967 462h3v3h-3zM975 462h3v3h-3zM993 462h3v3h-3zM900 463h3v3h-3zM907 463h3v3h-3zM907 463h3v3h-3zM918 463h3v3h-3zM918 463h3v3h-3zM920 463h3v3h-3zM923 463h3v3h-3zM924 463h3v3h-3zM926 463h3v3h-3zM935 463h3v3h-3zM937 463h3v3h-3zM939 463h3v3h-3zM940 463h3v3h-3zM973 463h3v3h-3zM898 464h3v3h-3zM900 464h3v3h-3zM903 464h3v3h-3zM907 464h3v3h-3zM909 464h3v3h-3zM913 464h3v3h-3zM913 464h3v3h-3zM917 464h3v3h-3zM920 464h3v3h-3zM922 464h3v3h-3zM927 464h3v3h-3zM930 464h3v3h-3zM935 464h3v3h-3zM937 464h3v3h-3zM938 464h3v3h-3zM949 464h3v3h-3zM949 464h3v3h-3zM956 464h3v3h-3zM959 464h3v3h-3zM964 464h3v3h-3zM968 464h3v3h-3zM969 464h3v3h-3zM971 464h3v3h-3zM889 465h3v3h-3zM890 465h3v3h-3zM893 465h3v3h-3zM904 465h3v3h-3zM907 465h3v3h-3zM918 465h3v3h-3zM930 465h3v3h-3zM931 465h3v3h-3zM946 465h3v3h-3zM955 465h3v3h-3zM956 465h3v3h-3zM963 465h3v3h-3zM896 466h3v3h-3zM904 466h3v3h-3zM904 466h3v3h-3zM905 466h3v3h-3zM905 466h3v3h-3zM907 466h3v3h-3zM910 466h3v3h-3zM910 466h3v3h-3zM920 466h3v3h-3zM924 466h3v3h-3zM925 466h3v3h-3zM929 466h3v3h-3zM930 466h3v3h-3zM941 466h3v3h-3zM964 466h3v3h-3zM965 466h3v3h-3zM972 466h3v3h-3zM978 466h3v3h-3zM887 467h3v3h-3zM901 467h3v3h-3zM907 467h3v3h-3zM908 467h3v3h-3zM908 467h3v3h-3zM908 467h3v3h-3zM909 467h3v3h-3zM910 467h3v3h-3zM913 467h3v3h-3zM926 467h3v3h-3zM926 467h3v3h-3zM928 467h3v3h-3zM939 467h3v3h-3zM945 467h3v3h-3zM948 467h3v3h-3zM952 467h3v3h-3zM969 467h3v3h-3zM974 467h3v3h-3zM876 468h3v3h-3zM881 468h3v3h-3zM882 468h3v3h-3zM896 468h3v3h-3zM904 468h3v3h-3zM905 468h3v3h-3zM907 468h3v3h-3zM907 468h3v3h-3zM916 468h3v3h-3zM924 468h3v3h-3zM931 468h3v3h-3zM933 468h3v3h-3zM943 468h3v3h-3zM945 468h3v3h-3zM952 468h3v3h-3zM954 468h3v3h-3zM964 468h3v3h-3zM979 468h3v3h-3zM886 469h3v3h-3zM887 469h3v3h-3zM887 469h3v3h-3zM889 469h3v3h-3zM893 469h3v3h-3zM899 469h3v3h-3zM902 469h3v3h-3zM904 469h3v3h-3zM904 469h3v3h-3zM906 469h3v3h-3zM910 469h3v3h-3zM910 469h3v3h-3zM912 469h3v3h-3zM917 469h3v3h-3zM926 469h3v3h-3zM935 469h3v3h-3zM938 469h3v3h-3zM940 469h3v3h-3zM955 469h3v3h-3zM974 469h3v3h-3zM975 469h3v3h-3zM894 470h3v3h-3zM895 470h3v3h-3zM895 470h3v3h-3zM903 470h3v3h-3zM905 470h3v3h-3zM906 470h3v3h-3zM925 470h3v3h-3zM936 470h3v3h-3zM937 470h3v3h-3zM941 470h3v3h-3zM967 470h3v3h-3zM967 470h3v3h-3zM993 470h3v3h-3zM1014 470h3v3h-3zM897 471h3v3h-3zM898 471h3v3h-3zM899 471h3v3h-3zM920 471h3v3h-3zM927 471h3v3h-3zM940 471h3v3h-3zM947 471h3v3h-3zM905 472h3v3h-3zM906 472h3v3h-3zM907 472h3v3h-3zM907 472h3v3h-3zM913 472h3v3h-3zM937 472h3v3h-3zM941 472h3v3h-3zM951 472h3v3h-3zM956 472h3v3h-3zM958 472h3v3h-3zM967 472h3v3h-3zM974 472h3v3h-3zM981 472h3v3h-3zM988 472h3v3h-3zM988 472h3v3h-3zM1001 472h3v3h-3zM895 473h3v3h-3zM896 473h3v3h-3zM897 473h3v3h-3zM901 473h3v3h-3zM903 473h3v3h-3zM919 473h3v3h-3zM921 473h3v3h-3zM922 473h3v3h-3zM935 473h3v3h-3zM937 473h3v3h-3zM937 473h3v3h-3zM959 473h3v3h-3zM977 473h3v3h-3zM978 473h3v3h-3zM983 473h3v3h-3zM1010 473h3v3h-3zM887 474h3v3h-3zM893 474h3v3h-3zM895 474h3v3h-3zM898 474h3v3h-3zM902 474h3v3h-3zM911 474h3v3h-3zM914 474h3v3h-3zM923 474h3v3h-3zM924 474h3v3h-3zM936 474h3v3h-3zM951 474h3v3h-3zM958 474h3v3h-3zM998 474h3v3h-3zM889 475h3v3h-3zM890 475h3v3h-3zM890 475h3v3h-3zM893 475h3v3h-3zM896 475h3v3h-3zM899 475h3v3h-3zM901 475h3v3h-3zM903 475h3v3h-3zM904 475h3v3h-3zM913 475h3v3h-3zM920 475h3v3h-3zM925 475h3v3h-3zM928 475h3v3h-3zM928 475h3v3h-3zM933 475h3v3h-3zM955 475h3v3h-3zM988 475h3v3h-3zM889 476h3v3h-3zM890 476h3v3h-3zM899 476h3v3h-3zM909 476h3v3h-3zM912 476h3v3h-3zM912 476h3v3h-3zM916 476h3v3h-3zM923 476h3v3h-3zM925 476h3v3h-3zM927 476h3v3h-3zM937 476h3v3h-3zM941 476h3v3h-3zM950 476h3v3h-3zM957 476h3v3h-3zM970 476h3v3h-3zM973 476h3v3h-3zM980 476h3v3h-3zM1017 476h3v3h-3zM883 477h3v3h-3zM887 477h3v3h-3zM888 477h3v3h-3zM897 477h3v3h-3zM900 477h3v3h-3zM901 477h3v3h-3zM906 477h3v3h-3zM916 477h3v3h-3zM920 477h3v3h-3zM921 477h3v3h-3zM925 477h3v3h-3zM926 477h3v3h-3zM927 477h3v3h-3zM936 477h3v3h-3zM938 477h3v3h-3zM956 477h3v3h-3zM960 477h3v3h-3zM962 477h3v3h-3zM965 477h3v3h-3zM1013 477h3v3h-3zM887 478h3v3h-3zM888 478h3v3h-3zM890 478h3v3h-3zM907 478h3v3h-3zM921 478h3v3h-3zM925 478h3v3h-3zM941 478h3v3h-3zM942 478h3v3h-3zM948 478h3v3h-3zM951 478h3v3h-3zM962 478h3v3h-3zM964 478h3v3h-3zM965 478h3v3h-3zM970 478h3v3h-3zM971 478h3v3h-3zM972 478h3v3h-3zM981 478h3v3h-3zM987 478h3v3h-3zM1022 478h3v3h-3zM899 479h3v3h-3zM914 479h3v3h-3zM927 479h3v3h-3zM933 479h3v3h-3zM934 479h3v3h-3zM937 479h3v3h-3zM939 479h3v3h-3zM950 479h3v3h-3zM962 479h3v3h-3zM968 479h3v3h-3zM973 479h3v3h-3zM976 479h3v3h-3zM1000 479h3v3h-3zM900 480h3v3h-3zM920 480h3v3h-3zM921 480h3v3h-3zM927 480h3v3h-3zM938 480h3v3h-3zM942 480h3v3h-3zM945 480h3v3h-3zM948 480h3v3h-3zM949 480h3v3h-3zM975 480h3v3h-3zM988 480h3v3h-3zM990 480h3v3h-3zM1019 480h3v3h-3zM879 481h3v3h-3zM888 481h3v3h-3zM891 481h3v3h-3zM908 481h3v3h-3zM944 481h3v3h-3zM947 481h3v3h-3zM949 481h3v3h-3zM952 481h3v3h-3zM954 481h3v3h-3zM956 481h3v3h-3zM969 481h3v3h-3zM983 481h3v3h-3zM985 481h3v3h-3zM994 481h3v3h-3zM1008 481h3v3h-3zM886 482h3v3h-3zM930 482h3v3h-3zM931 482h3v3h-3zM934 482h3v3h-3zM937 482h3v3h-3zM962 482h3v3h-3zM962 482h3v3h-3zM977 482h3v3h-3zM981 482h3v3h-3zM884 483h3v3h-3zM889 483h3v3h-3zM891 483h3v3h-3zM891 483h3v3h-3zM905 483h3v3h-3zM906 483h3v3h-3zM923 483h3v3h-3zM923 483h3v3h-3zM924 483h3v3h-3zM937 483h3v3h-3zM947 483h3v3h-3zM951 483h3v3h-3zM954 483h3v3h-3zM962 483h3v3h-3zM979 483h3v3h-3zM991 483h3v3h-3zM999 483h3v3h-3zM884 484h3v3h-3zM884 484h3v3h-3zM900 484h3v3h-3zM919 484h3v3h-3zM921 484h3v3h-3zM928 484h3v3h-3zM933 484h3v3h-3zM947 484h3v3h-3zM948 484h3v3h-3zM952 484h3v3h-3zM966 484h3v3h-3zM968 484h3v3h-3zM975 484h3v3h-3zM888 485h3v3h-3zM894 485h3v3h-3zM909 485h3v3h-3zM910 485h3v3h-3zM916 485h3v3h-3zM937 485h3v3h-3zM940 485h3v3h-3zM952 485h3v3h-3zM952 485h3v3h-3zM959 485h3v3h-3zM966 485h3v3h-3zM970 485h3v3h-3zM978 485h3v3h-3zM979 485h3v3h-3zM979 485h3v3h-3zM882 486h3v3h-3zM898 486h3v3h-3zM908 486h3v3h-3zM910 486h3v3h-3zM928 486h3v3h-3zM950 486h3v3h-3zM951 486h3v3h-3zM955 486h3v3h-3zM955 486h3v3h-3zM956 486h3v3h-3zM962 486h3v3h-3zM972 486h3v3h-3zM974 486h3v3h-3zM979 486h3v3h-3zM884 487h3v3h-3zM885 487h3v3h-3zM886 487h3v3h-3zM889 487h3v3h-3zM900 487h3v3h-3zM900 487h3v3h-3zM908 487h3v3h-3zM919 487h3v3h-3zM924 487h3v3h-3zM924 487h3v3h-3zM947 487h3v3h-3zM951 487h3v3h-3zM951 487h3v3h-3zM952 487h3v3h-3zM953 487h3v3h-3zM953 487h3v3h-3zM962 487h3v3h-3zM967 487h3v3h-3zM967 487h3v3h-3zM978 487h3v3h-3zM981 487h3v3h-3zM1018 487h3v3h-3zM884 488h3v3h-3zM889 488h3v3h-3zM904 488h3v3h-3zM917 488h3v3h-3zM932 488h3v3h-3zM938 488h3v3h-3zM939 488h3v3h-3zM939 488h3v3h-3zM940 488h3v3h-3zM951 488h3v3h-3zM953 488h3v3h-3zM955 488h3v3h-3zM955 488h3v3h-3zM976 488h3v3h-3zM980 488h3v3h-3zM995 488h3v3h-3zM876 489h3v3h-3zM883 489h3v3h-3zM916 489h3v3h-3zM918 489h3v3h-3zM931 489h3v3h-3zM939 489h3v3h-3zM947 489h3v3h-3zM954 489h3v3h-3zM954 489h3v3h-3zM956 489h3v3h-3zM956 489h3v3h-3zM964 489h3v3h-3zM964 489h3v3h-3zM894 490h3v3h-3zM903 490h3v3h-3zM908 490h3v3h-3zM915 490h3v3h-3zM918 490h3v3h-3zM918 490h3v3h-3zM920 490h3v3h-3zM923 490h3v3h-3zM925 490h3v3h-3zM928 490h3v3h-3zM928 490h3v3h-3zM929 490h3v3h-3zM930 490h3v3h-3zM938 490h3v3h-3zM939 490h3v3h-3zM952 490h3v3h-3zM953 490h3v3h-3zM956 490h3v3h-3zM959 490h3v3h-3zM966 490h3v3h-3zM987 490h3v3h-3zM995 490h3v3h-3zM895 491h3v3h-3zM897 491h3v3h-3zM899 491h3v3h-3zM901 491h3v3h-3zM902 491h3v3h-3zM915 491h3v3h-3zM915 491h3v3h-3zM918 491h3v3h-3zM929 491h3v3h-3zM937 491h3v3h-3zM939 491h3v3h-3zM947 491h3v3h-3zM947 491h3v3h-3zM954 491h3v3h-3zM956 491h3v3h-3zM957 491h3v3h-3zM959 491h3v3h-3zM959 491h3v3h-3zM959 491h3v3h-3zM960 491h3v3h-3zM970 491h3v3h-3zM1002 491h3v3h-3zM875 492h3v3h-3zM893 492h3v3h-3zM908 492h3v3h-3zM909 492h3v3h-3zM914 492h3v3h-3zM935 492h3v3h-3zM936 492h3v3h-3zM936 492h3v3h-3zM940 492h3v3h-3zM942 492h3v3h-3zM944 492h3v3h-3zM959 492h3v3h-3zM965 492h3v3h-3zM982 492h3v3h-3zM986 492h3v3h-3zM882 493h3v3h-3zM906 493h3v3h-3zM915 493h3v3h-3zM922 493h3v3h-3zM923 493h3v3h-3zM924 493h3v3h-3zM930 493h3v3h-3zM932 493h3v3h-3zM933 493h3v3h-3zM937 493h3v3h-3zM947 493h3v3h-3zM955 493h3v3h-3zM962 493h3v3h-3zM994 493h3v3h-3zM1008 493h3v3h-3zM882 494h3v3h-3zM889 494h3v3h-3zM909 494h3v3h-3zM914 494h3v3h-3zM937 494h3v3h-3zM937 494h3v3h-3zM955 494h3v3h-3zM957 494h3v3h-3zM959 494h3v3h-3zM977 494h3v3h-3zM988 494h3v3h-3zM900 495h3v3h-3zM908 495h3v3h-3zM909 495h3v3h-3zM912 495h3v3h-3zM922 495h3v3h-3zM929 495h3v3h-3zM938 495h3v3h-3zM938 495h3v3h-3zM954 495h3v3h-3zM954 495h3v3h-3zM957 495h3v3h-3zM958 495h3v3h-3zM959 495h3v3h-3zM960 495h3v3h-3zM964 495h3v3h-3zM974 495h3v3h-3zM978 495h3v3h-3zM985 495h3v3h-3zM999 495h3v3h-3zM904 496h3v3h-3zM906 496h3v3h-3zM909 496h3v3h-3zM911 496h3v3h-3zM920 496h3v3h-3zM921 496h3v3h-3zM926 496h3v3h-3zM927 496h3v3h-3zM933 496h3v3h-3zM937 496h3v3h-3zM937 496h3v3h-3zM946 496h3v3h-3zM949 496h3v3h-3zM949 496h3v3h-3zM951 496h3v3h-3zM951 496h3v3h-3zM952 496h3v3h-3zM964 496h3v3h-3zM964 496h3v3h-3zM971 496h3v3h-3zM974 496h3v3h-3zM881 497h3v3h-3zM907 497h3v3h-3zM909 497h3v3h-3zM915 497h3v3h-3zM917 497h3v3h-3zM928 497h3v3h-3zM942 497h3v3h-3zM946 497h3v3h-3zM952 497h3v3h-3zM958 497h3v3h-3zM958 497h3v3h-3zM961 497h3v3h-3zM966 497h3v3h-3zM971 497h3v3h-3zM974 497h3v3h-3zM1008 497h3v3h-3zM906 498h3v3h-3zM911 498h3v3h-3zM917 498h3v3h-3zM922 498h3v3h-3zM944 498h3v3h-3zM950 498h3v3h-3zM951 498h3v3h-3zM953 498h3v3h-3zM954 498h3v3h-3zM954 498h3v3h-3zM955 498h3v3h-3zM956 498h3v3h-3zM957 498h3v3h-3zM961 498h3v3h-3zM963 498h3v3h-3zM965 498h3v3h-3zM970 498h3v3h-3zM974 498h3v3h-3zM977 498h3v3h-3zM978 498h3v3h-3zM995 498h3v3h-3zM1004 498h3v3h-3zM894 499h3v3h-3zM903 499h3v3h-3zM917 499h3v3h-3zM935 499h3v3h-3zM938 499h3v3h-3zM950 499h3v3h-3zM957 499h3v3h-3zM957 499h3v3h-3zM965 499h3v3h-3zM972 499h3v3h-3zM979 499h3v3h-3zM997 499h3v3h-3zM1008 499h3v3h-3zM878 500h3v3h-3zM880 500h3v3h-3zM912 500h3v3h-3zM928 500h3v3h-3zM930 500h3v3h-3zM932 500h3v3h-3zM944 500h3v3h-3zM949 500h3v3h-3zM950 500h3v3h-3zM954 500h3v3h-3zM954 500h3v3h-3zM955 500h3v3h-3zM956 500h3v3h-3zM957 500h3v3h-3zM967 500h3v3h-3zM971 500h3v3h-3zM981 500h3v3h-3zM981 500h3v3h-3zM1019 500h3v3h-3zM887 501h3v3h-3zM897 501h3v3h-3zM907 501h3v3h-3zM919 501h3v3h-3zM928 501h3v3h-3zM934 501h3v3h-3zM935 501h3v3h-3zM935 501h3v3h-3zM939 501h3v3h-3zM942 501h3v3h-3zM943 501h3v3h-3zM947 501h3v3h-3zM970 501h3v3h-3zM979 501h3v3h-3zM990 501h3v3h-3zM1010 501h3v3h-3zM887 502h3v3h-3zM892 502h3v3h-3zM895 502h3v3h-3zM910 502h3v3h-3zM922 502h3v3h-3zM938 502h3v3h-3zM938 502h3v3h-3zM943 502h3v3h-3zM945 502h3v3h-3zM952 502h3v3h-3zM956 502h3v3h-3zM961 502h3v3h-3zM963 502h3v3h-3zM964 502h3v3h-3zM965 502h3v3h-3zM974 502h3v3h-3zM975 502h3v3h-3zM981 502h3v3h-3zM986 502h3v3h-3zM891 503h3v3h-3zM892 503h3v3h-3zM898 503h3v3h-3zM905 503h3v3h-3zM927 503h3v3h-3zM936 503h3v3h-3zM942 503h3v3h-3zM943 503h3v3h-3zM944 503h3v3h-3zM955 503h3v3h-3zM961 503h3v3h-3zM961 503h3v3h-3zM963 503h3v3h-3zM965 503h3v3h-3zM977 503h3v3h-3zM980 503h3v3h-3zM987 503h3v3h-3zM989 503h3v3h-3zM989 503h3v3h-3zM1004 503h3v3h-3zM1008 503h3v3h-3zM890 504h3v3h-3zM893 504h3v3h-3zM893 504h3v3h-3zM899 504h3v3h-3zM908 504h3v3h-3zM917 504h3v3h-3zM921 504h3v3h-3zM927 504h3v3h-3zM942 504h3v3h-3zM948 504h3v3h-3zM954 504h3v3h-3zM956 504h3v3h-3zM957 504h3v3h-3zM960 504h3v3h-3zM961 504h3v3h-3zM966 504h3v3h-3zM980 504h3v3h-3zM980 504h3v3h-3zM981 504h3v3h-3zM985 504h3v3h-3zM988 504h3v3h-3zM994 504h3v3h-3zM888 505h3v3h-3zM898 505h3v3h-3zM906 505h3v3h-3zM908 505h3v3h-3zM912 505h3v3h-3zM927 505h3v3h-3zM932 505h3v3h-3zM932 505h3v3h-3zM942 505h3v3h-3zM951 505h3v3h-3zM955 505h3v3h-3zM964 505h3v3h-3zM973 505h3v3h-3zM979 505h3v3h-3zM995 505h3v3h-3zM995 505h3v3h-3zM999 505h3v3h-3zM1008 505h3v3h-3zM874 506h3v3h-3zM891 506h3v3h-3zM898 506h3v3h-3zM899 506h3v3h-3zM909 506h3v3h-3zM911 506h3v3h-3zM939 506h3v3h-3zM951 506h3v3h-3zM954 506h3v3h-3zM971 506h3v3h-3zM975 506h3v3h-3zM975 506h3v3h-3zM987 506h3v3h-3zM987 506h3v3h-3zM997 506h3v3h-3zM1001 506h3v3h-3zM1015 506h3v3h-3zM889 507h3v3h-3zM896 507h3v3h-3zM900 507h3v3h-3zM906 507h3v3h-3zM911 507h3v3h-3zM924 507h3v3h-3zM928 507h3v3h-3zM936 507h3v3h-3zM938 507h3v3h-3zM949 507h3v3h-3zM984 507h3v3h-3zM986 507h3v3h-3zM989 507h3v3h-3zM991 507h3v3h-3zM995 507h3v3h-3zM1018 507h3v3h-3zM890 508h3v3h-3zM904 508h3v3h-3zM911 508h3v3h-3zM913 508h3v3h-3zM915 508h3v3h-3zM932 508h3v3h-3zM940 508h3v3h-3zM964 508h3v3h-3zM977 508h3v3h-3zM986 508h3v3h-3zM1006 508h3v3h-3zM896 509h3v3h-3zM906 509h3v3h-3zM907 509h3v3h-3zM911 509h3v3h-3zM960 509h3v3h-3zM961 509h3v3h-3zM966 509h3v3h-3zM967 509h3v3h-3zM968 509h3v3h-3zM985 509h3v3h-3zM892 510h3v3h-3zM897 510h3v3h-3zM918 510h3v3h-3zM938 510h3v3h-3zM940 510h3v3h-3zM943 510h3v3h-3zM949 510h3v3h-3zM951 510h3v3h-3zM962 510h3v3h-3zM962 510h3v3h-3zM962 510h3v3h-3zM965 510h3v3h-3zM975 510h3v3h-3zM976 510h3v3h-3zM980 510h3v3h-3zM991 510h3v3h-3zM907 511h3v3h-3zM920 511h3v3h-3zM922 511h3v3h-3zM934 511h3v3h-3zM946 511h3v3h-3zM962 511h3v3h-3zM963 511h3v3h-3zM971 511h3v3h-3zM972 511h3v3h-3zM974 511h3v3h-3zM974 511h3v3h-3zM985 511h3v3h-3zM988 511h3v3h-3zM883 512h3v3h-3zM892 512h3v3h-3zM924 512h3v3h-3zM958 512h3v3h-3zM961 512h3v3h-3zM961 512h3v3h-3zM962 512h3v3h-3zM972 512h3v3h-3zM979 512h3v3h-3zM993 512h3v3h-3zM886 513h3v3h-3zM887 513h3v3h-3zM889 513h3v3h-3zM909 513h3v3h-3zM935 513h3v3h-3zM938 513h3v3h-3zM965 513h3v3h-3zM969 513h3v3h-3zM972 513h3v3h-3zM975 513h3v3h-3zM976 513h3v3h-3zM983 513h3v3h-3zM882 514h3v3h-3zM887 514h3v3h-3zM888 514h3v3h-3zM890 514h3v3h-3zM891 514h3v3h-3zM900 514h3v3h-3zM900 514h3v3h-3zM902 514h3v3h-3zM908 514h3v3h-3zM921 514h3v3h-3zM952 514h3v3h-3zM960 514h3v3h-3zM962 514h3v3h-3zM966 514h3v3h-3zM972 514h3v3h-3zM973 514h3v3h-3zM977 514h3v3h-3zM978 514h3v3h-3zM992 514h3v3h-3zM889 515h3v3h-3zM890 515h3v3h-3zM900 515h3v3h-3zM902 515h3v3h-3zM910 515h3v3h-3zM919 515h3v3h-3zM930 515h3v3h-3zM933 515h3v3h-3zM935 515h3v3h-3zM937 515h3v3h-3zM941 515h3v3h-3zM943 515h3v3h-3zM950 515h3v3h-3zM954 515h3v3h-3zM959 515h3v3h-3zM967 515h3v3h-3zM970 515h3v3h-3zM974 515h3v3h-3zM974 515h3v3h-3zM974 515h3v3h-3zM976 515h3v3h-3zM979 515h3v3h-3zM1007 515h3v3h-3zM888 516h3v3h-3zM892 516h3v3h-3zM906 516h3v3h-3zM914 516h3v3h-3zM919 516h3v3h-3zM920 516h3v3h-3zM923 516h3v3h-3zM923 516h3v3h-3zM929 516h3v3h-3zM936 516h3v3h-3zM946 516h3v3h-3zM951 516h3v3h-3zM974 516h3v3h-3zM977 516h3v3h-3zM983 516h3v3h-3zM983 516h3v3h-3zM985 516h3v3h-3zM893 517h3v3h-3zM894 517h3v3h-3zM897 517h3v3h-3zM900 517h3v3h-3zM908 517h3v3h-3zM910 517h3v3h-3zM911 517h3v3h-3zM920 517h3v3h-3zM925 517h3v3h-3zM927 517h3v3h-3zM933 517h3v3h-3zM934 517h3v3h-3zM935 517h3v3h-3zM936 517h3v3h-3zM937 517h3v3h-3zM939 517h3v3h-3zM942 517h3v3h-3zM969 517h3v3h-3zM974 517h3v3h-3zM986 517h3v3h-3zM992 517h3v3h-3zM998 517h3v3h-3zM890 518h3v3h-3zM892 518h3v3h-3zM903 518h3v3h-3zM906 518h3v3h-3zM918 518h3v3h-3zM923 518h3v3h-3zM924 518h3v3h-3zM935 518h3v3h-3zM951 518h3v3h-3zM956 518h3v3h-3zM968 518h3v3h-3zM977 518h3v3h-3zM985 518h3v3h-3zM885 519h3v3h-3zM902 519h3v3h-3zM903 519h3v3h-3zM903 519h3v3h-3zM916 519h3v3h-3zM924 519h3v3h-3zM924 519h3v3h-3zM927 519h3v3h-3zM933 519h3v3h-3zM940 519h3v3h-3zM941 519h3v3h-3zM943 519h3v3h-3zM948 519h3v3h-3zM954 519h3v3h-3zM962 519h3v3h-3zM966 519h3v3h-3zM967 519h3v3h-3zM976 519h3v3h-3zM979 519h3v3h-3zM984 519h3v3h-3zM996 519h3v3h-3zM1019 519h3v3h-3zM886 520h3v3h-3zM896 520h3v3h-3zM897 520h3v3h-3zM898 520h3v3h-3zM901 520h3v3h-3zM923 520h3v3h-3zM924 520h3v3h-3zM924 520h3v3h-3zM926 520h3v3h-3zM929 520h3v3h-3zM934 520h3v3h-3zM938 520h3v3h-3zM943 520h3v3h-3zM944 520h3v3h-3zM954 520h3v3h-3zM961 520h3v3h-3zM971 520h3v3h-3zM975 520h3v3h-3zM976 520h3v3h-3zM887 521h3v3h-3zM889 521h3v3h-3zM900 521h3v3h-3zM906 521h3v3h-3zM908 521h3v3h-3zM924 521h3v3h-3zM925 521h3v3h-3zM926 521h3v3h-3zM937 521h3v3h-3zM942 521h3v3h-3zM945 521h3v3h-3zM956 521h3v3h-3zM963 521h3v3h-3zM967 521h3v3h-3zM903 522h3v3h-3zM923 522h3v3h-3zM923 522h3v3h-3zM926 522h3v3h-3zM931 522h3v3h-3zM955 522h3v3h-3zM966 522h3v3h-3zM971 522h3v3h-3zM971 522h3v3h-3zM972 522h3v3h-3zM976 522h3v3h-3zM978 522h3v3h-3zM979 522h3v3h-3zM886 523h3v3h-3zM888 523h3v3h-3zM894 523h3v3h-3zM896 523h3v3h-3zM897 523h3v3h-3zM900 523h3v3h-3zM915 523h3v3h-3zM915 523h3v3h-3zM925 523h3v3h-3zM925 523h3v3h-3zM928 523h3v3h-3zM931 523h3v3h-3zM943 523h3v3h-3zM944 523h3v3h-3zM966 523h3v3h-3zM968 523h3v3h-3zM970 523h3v3h-3zM971 523h3v3h-3zM974 523h3v3h-3zM975 523h3v3h-3zM977 523h3v3h-3zM990 523h3v3h-3zM998 523h3v3h-3zM1018 523h3v3h-3zM889 524h3v3h-3zM899 524h3v3h-3zM935 524h3v3h-3zM944 524h3v3h-3zM948 524h3v3h-3zM954 524h3v3h-3zM969 524h3v3h-3zM970 524h3v3h-3zM970 524h3v3h-3zM975 524h3v3h-3zM979 524h3v3h-3zM981 524h3v3h-3zM984 524h3v3h-3zM985 524h3v3h-3zM988 524h3v3h-3zM998 524h3v3h-3zM998 524h3v3h-3zM1004 524h3v3h-3zM882 525h3v3h-3zM883 525h3v3h-3zM894 525h3v3h-3zM896 525h3v3h-3zM898 525h3v3h-3zM899 525h3v3h-3zM909 525h3v3h-3zM920 525h3v3h-3zM923 525h3v3h-3zM927 525h3v3h-3zM928 525h3v3h-3zM944 525h3v3h-3zM945 525h3v3h-3zM948 525h3v3h-3zM952 525h3v3h-3zM965 525h3v3h-3zM968 525h3v3h-3zM972 525h3v3h-3zM972 525h3v3h-3zM974 525h3v3h-3zM981 525h3v3h-3zM991 525h3v3h-3zM881 526h3v3h-3zM895 526h3v3h-3zM901 526h3v3h-3zM912 526h3v3h-3zM920 526h3v3h-3zM920 526h3v3h-3zM921 526h3v3h-3zM922 526h3v3h-3zM923 526h3v3h-3zM943 526h3v3h-3zM949 526h3v3h-3zM953 526h3v3h-3zM955 526h3v3h-3zM967 526h3v3h-3zM972 526h3v3h-3zM977 526h3v3h-3zM978 526h3v3h-3zM979 526h3v3h-3zM1013 526h3v3h-3zM884 527h3v3h-3zM894 527h3v3h-3zM899 527h3v3h-3zM900 527h3v3h-3zM900 527h3v3h-3zM901 527h3v3h-3zM901 527h3v3h-3zM904 527h3v3h-3zM930 527h3v3h-3zM939 527h3v3h-3zM949 527h3v3h-3zM953 527h3v3h-3zM963 527h3v3h-3zM966 527h3v3h-3zM970 527h3v3h-3zM971 527h3v3h-3zM972 527h3v3h-3zM978 527h3v3h-3zM985 527h3v3h-3zM991 527h3v3h-3zM889 528h3v3h-3zM905 528h3v3h-3zM908 528h3v3h-3zM922 528h3v3h-3zM927 528h3v3h-3zM948 528h3v3h-3zM951 528h3v3h-3zM955 528h3v3h-3zM955 528h3v3h-3zM957 528h3v3h-3zM962 528h3v3h-3zM967 528h3v3h-3zM975 528h3v3h-3zM989 528h3v3h-3zM992 528h3v3h-3zM993 528h3v3h-3zM996 528h3v3h-3zM882 529h3v3h-3zM885 529h3v3h-3zM891 529h3v3h-3zM893 529h3v3h-3zM900 529h3v3h-3zM904 529h3v3h-3zM914 529h3v3h-3zM918 529h3v3h-3zM919 529h3v3h-3zM932 529h3v3h-3zM944 529h3v3h-3zM947 529h3v3h-3zM963 529h3v3h-3zM964 529h3v3h-3zM970 529h3v3h-3zM980 529h3v3h-3zM980 529h3v3h-3zM982 529h3v3h-3zM986 529h3v3h-3zM987 529h3v3h-3zM991 529h3v3h-3zM991 529h3v3h-3zM1012 529h3v3h-3zM1015 529h3v3h-3zM886 530h3v3h-3zM889 530h3v3h-3zM891 530h3v3h-3zM895 530h3v3h-3zM923 530h3v3h-3zM927 530h3v3h-3zM930 530h3v3h-3zM932 530h3v3h-3zM934 530h3v3h-3zM935 530h3v3h-3zM938 530h3v3h-3zM948 530h3v3h-3zM950 530h3v3h-3zM954 530h3v3h-3zM961 530h3v3h-3zM962 530h3v3h-3zM964 530h3v3h-3zM969 530h3v3h-3zM971 530h3v3h-3zM977 530h3v3h-3zM978 530h3v3h-3zM978 530h3v3h-3zM985 530h3v3h-3zM1013 530h3v3h-3zM890 531h3v3h-3zM893 531h3v3h-3zM893 531h3v3h-3zM900 531h3v3h-3zM903 531h3v3h-3zM911 531h3v3h-3zM916 531h3v3h-3zM917 531h3v3h-3zM918 531h3v3h-3zM919 531h3v3h-3zM931 531h3v3h-3zM936 531h3v3h-3zM943 531h3v3h-3zM949 531h3v3h-3zM957 531h3v3h-3zM959 531h3v3h-3zM968 531h3v3h-3zM970 531h3v3h-3zM976 531h3v3h-3zM980 531h3v3h-3zM986 531h3v3h-3zM988 531h3v3h-3zM994 531h3v3h-3zM1015 531h3v3h-3zM894 532h3v3h-3zM897 532h3v3h-3zM902 532h3v3h-3zM910 532h3v3h-3zM911 532h3v3h-3zM912 532h3v3h-3zM914 532h3v3h-3zM914 532h3v3h-3zM934 532h3v3h-3zM938 532h3v3h-3zM949 532h3v3h-3zM950 532h3v3h-3zM951 532h3v3h-3zM959 532h3v3h-3zM962 532h3v3h-3zM977 532h3v3h-3zM983 532h3v3h-3zM991 532h3v3h-3zM1002 532h3v3h-3zM886 533h3v3h-3zM913 533h3v3h-3zM918 533h3v3h-3zM918 533h3v3h-3zM920 533h3v3h-3zM921 533h3v3h-3zM929 533h3v3h-3zM930 533h3v3h-3zM931 533h3v3h-3zM939 533h3v3h-3zM945 533h3v3h-3zM945 533h3v3h-3zM969 533h3v3h-3zM970 533h3v3h-3zM991 533h3v3h-3zM892 534h3v3h-3zM892 534h3v3h-3zM895 534h3v3h-3zM896 534h3v3h-3zM898 534h3v3h-3zM902 534h3v3h-3zM914 534h3v3h-3zM920 534h3v3h-3zM925 534h3v3h-3zM932 534h3v3h-3zM936 534h3v3h-3zM938 534h3v3h-3zM947 534h3v3h-3zM956 534h3v3h-3zM970 534h3v3h-3zM972 534h3v3h-3zM972 534h3v3h-3zM973 534h3v3h-3zM975 534h3v3h-3zM1002 534h3v3h-3zM887 535h3v3h-3zM899 535h3v3h-3zM900 535h3v3h-3zM900 535h3v3h-3zM903 535h3v3h-3zM913 535h3v3h-3zM918 535h3v3h-3zM925 535h3v3h-3zM930 535h3v3h-3zM946 535h3v3h-3zM964 535h3v3h-3zM969 535h3v3h-3zM976 535h3v3h-3zM977 535h3v3h-3zM983 535h3v3h-3zM992 535h3v3h-3zM1000 535h3v3h-3zM878 536h3v3h-3zM892 536h3v3h-3zM905 536h3v3h-3zM909 536h3v3h-3zM923 536h3v3h-3zM931 536h3v3h-3zM933 536h3v3h-3zM933 536h3v3h-3zM936 536h3v3h-3zM948 536h3v3h-3zM972 536h3v3h-3zM978 536h3v3h-3zM978 536h3v3h-3zM980 536h3v3h-3zM981 536h3v3h-3zM984 536h3v3h-3zM984 536h3v3h-3zM993 536h3v3h-3zM999 536h3v3h-3zM888 537h3v3h-3zM889 537h3v3h-3zM892 537h3v3h-3zM904 537h3v3h-3zM908 537h3v3h-3zM912 537h3v3h-3zM923 537h3v3h-3zM932 537h3v3h-3zM943 537h3v3h-3zM946 537h3v3h-3zM949 537h3v3h-3zM966 537h3v3h-3zM969 537h3v3h-3zM975 537h3v3h-3zM875 538h3v3h-3zM884 538h3v3h-3zM885 538h3v3h-3zM893 538h3v3h-3zM897 538h3v3h-3zM905 538h3v3h-3zM912 538h3v3h-3zM912 538h3v3h-3zM913 538h3v3h-3zM925 538h3v3h-3zM932 538h3v3h-3zM948 538h3v3h-3zM949 538h3v3h-3zM960 538h3v3h-3zM961 538h3v3h-3zM962 538h3v3h-3zM979 538h3v3h-3zM980 538h3v3h-3zM885 539h3v3h-3zM894 539h3v3h-3zM896 539h3v3h-3zM897 539h3v3h-3zM899 539h3v3h-3zM900 539h3v3h-3zM903 539h3v3h-3zM908 539h3v3h-3zM914 539h3v3h-3zM915 539h3v3h-3zM916 539h3v3h-3zM921 539h3v3h-3zM924 539h3v3h-3zM924 539h3v3h-3zM946 539h3v3h-3zM947 539h3v3h-3zM950 539h3v3h-3zM960 539h3v3h-3zM967 539h3v3h-3zM987 539h3v3h-3zM990 539h3v3h-3zM883 540h3v3h-3zM884 540h3v3h-3zM896 540h3v3h-3zM903 540h3v3h-3zM917 540h3v3h-3zM923 540h3v3h-3zM929 540h3v3h-3zM932 540h3v3h-3zM943 540h3v3h-3zM947 540h3v3h-3zM951 540h3v3h-3zM965 540h3v3h-3zM967 540h3v3h-3zM969 540h3v3h-3zM973 540h3v3h-3zM983 540h3v3h-3zM986 540h3v3h-3zM1005 540h3v3h-3zM883 541h3v3h-3zM883 541h3v3h-3zM889 541h3v3h-3zM893 541h3v3h-3zM895 541h3v3h-3zM898 541h3v3h-3zM904 541h3v3h-3zM907 541h3v3h-3zM912 541h3v3h-3zM915 541h3v3h-3zM916 541h3v3h-3zM924 541h3v3h-3zM925 541h3v3h-3zM925 541h3v3h-3zM927 541h3v3h-3zM934 541h3v3h-3zM946 541h3v3h-3zM948 541h3v3h-3zM949 541h3v3h-3zM957 541h3v3h-3zM958 541h3v3h-3zM960 541h3v3h-3zM980 541h3v3h-3zM999 541h3v3h-3zM1000 541h3v3h-3zM887 542h3v3h-3zM887 542h3v3h-3zM903 542h3v3h-3zM910 542h3v3h-3zM910 542h3v3h-3zM912 542h3v3h-3zM912 542h3v3h-3zM920 542h3v3h-3zM923 542h3v3h-3zM924 542h3v3h-3zM924 542h3v3h-3zM925 542h3v3h-3zM929 542h3v3h-3zM940 542h3v3h-3zM945 542h3v3h-3zM946 542h3v3h-3zM947 542h3v3h-3zM950 542h3v3h-3zM970 542h3v3h-3zM975 542h3v3h-3zM977 542h3v3h-3zM980 542h3v3h-3zM980 542h3v3h-3zM992 542h3v3h-3zM1006 542h3v3h-3zM881 543h3v3h-3zM883 543h3v3h-3zM896 543h3v3h-3zM900 543h3v3h-3zM901 543h3v3h-3zM913 543h3v3h-3zM915 543h3v3h-3zM916 543h3v3h-3zM917 543h3v3h-3zM923 543h3v3h-3zM928 543h3v3h-3zM930 543h3v3h-3zM932 543h3v3h-3zM932 543h3v3h-3zM939 543h3v3h-3zM957 543h3v3h-3zM962 543h3v3h-3zM964 543h3v3h-3zM967 543h3v3h-3zM969 543h3v3h-3zM969 543h3v3h-3zM969 543h3v3h-3zM978 543h3v3h-3zM979 543h3v3h-3zM979 543h3v3h-3zM987 543h3v3h-3zM1004 543h3v3h-3zM898 544h3v3h-3zM905 544h3v3h-3zM908 544h3v3h-3zM925 544h3v3h-3zM925 544h3v3h-3zM933 544h3v3h-3zM943 544h3v3h-3zM948 544h3v3h-3zM967 544h3v3h-3zM972 544h3v3h-3zM982 544h3v3h-3zM984 544h3v3h-3zM984 544h3v3h-3zM992 544h3v3h-3zM1004 544h3v3h-3zM1007 544h3v3h-3zM882 545h3v3h-3zM883 545h3v3h-3zM884 545h3v3h-3zM904 545h3v3h-3zM913 545h3v3h-3zM925 545h3v3h-3zM930 545h3v3h-3zM940 545h3v3h-3zM943 545h3v3h-3zM959 545h3v3h-3zM971 545h3v3h-3zM981 545h3v3h-3zM993 545h3v3h-3zM995 545h3v3h-3zM998 545h3v3h-3zM1005 545h3v3h-3zM1005 545h3v3h-3zM888 546h3v3h-3zM899 546h3v3h-3zM901 546h3v3h-3zM902 546h3v3h-3zM903 546h3v3h-3zM920 546h3v3h-3zM923 546h3v3h-3zM926 546h3v3h-3zM932 546h3v3h-3zM935 546h3v3h-3zM942 546h3v3h-3zM946 546h3v3h-3zM950 546h3v3h-3zM955 546h3v3h-3zM962 546h3v3h-3zM972 546h3v3h-3zM984 546h3v3h-3zM991 546h3v3h-3zM995 546h3v3h-3zM1000 546h3v3h-3zM881 547h3v3h-3zM885 547h3v3h-3zM888 547h3v3h-3zM896 547h3v3h-3zM906 547h3v3h-3zM916 547h3v3h-3zM930 547h3v3h-3zM932 547h3v3h-3zM934 547h3v3h-3zM936 547h3v3h-3zM948 547h3v3h-3zM950 547h3v3h-3zM1005 547h3v3h-3zM890 548h3v3h-3zM891 548h3v3h-3zM892 548h3v3h-3zM897 548h3v3h-3zM897 548h3v3h-3zM901 548h3v3h-3zM905 548h3v3h-3zM909 548h3v3h-3zM912 548h3v3h-3zM920 548h3v3h-3zM927 548h3v3h-3zM927 548h3v3h-3zM944 548h3v3h-3zM945 548h3v3h-3zM947 548h3v3h-3zM947 548h3v3h-3zM951 548h3v3h-3zM958 548h3v3h-3zM958 548h3v3h-3zM987 548h3v3h-3zM990 548h3v3h-3zM1000 548h3v3h-3zM891 549h3v3h-3zM893 549h3v3h-3zM897 549h3v3h-3zM903 549h3v3h-3zM905 549h3v3h-3zM907 549h3v3h-3zM912 549h3v3h-3zM912 549h3v3h-3zM916 549h3v3h-3zM917 549h3v3h-3zM918 549h3v3h-3zM920 549h3v3h-3zM928 549h3v3h-3zM929 549h3v3h-3zM932 549h3v3h-3zM936 549h3v3h-3zM937 549h3v3h-3zM938 549h3v3h-3zM948 549h3v3h-3zM953 549h3v3h-3zM960 549h3v3h-3zM966 549h3v3h-3zM983 549h3v3h-3zM985 549h3v3h-3zM992 549h3v3h-3zM1006 549h3v3h-3zM883 550h3v3h-3zM887 550h3v3h-3zM890 550h3v3h-3zM892 550h3v3h-3zM896 550h3v3h-3zM897 550h3v3h-3zM898 550h3v3h-3zM899 550h3v3h-3zM902 550h3v3h-3zM910 550h3v3h-3zM910 550h3v3h-3zM918 550h3v3h-3zM921 550h3v3h-3zM926 550h3v3h-3zM938 550h3v3h-3zM959 550h3v3h-3zM973 550h3v3h-3zM986 550h3v3h-3zM996 550h3v3h-3zM888 551h3v3h-3zM893 551h3v3h-3zM904 551h3v3h-3zM914 551h3v3h-3zM917 551h3v3h-3zM917 551h3v3h-3zM927 551h3v3h-3zM932 551h3v3h-3zM937 551h3v3h-3zM955 551h3v3h-3zM968 551h3v3h-3zM973 551h3v3h-3zM975 551h3v3h-3zM995 551h3v3h-3zM890 552h3v3h-3zM891 552h3v3h-3zM925 552h3v3h-3zM927 552h3v3h-3zM935 552h3v3h-3zM938 552h3v3h-3zM940 552h3v3h-3zM953 552h3v3h-3zM957 552h3v3h-3zM972 552h3v3h-3zM983 552h3v3h-3zM985 552h3v3h-3zM887 553h3v3h-3zM889 553h3v3h-3zM889 553h3v3h-3zM889 553h3v3h-3zM909 553h3v3h-3zM913 553h3v3h-3zM924 553h3v3h-3zM926 553h3v3h-3zM929 553h3v3h-3zM937 553h3v3h-3zM939 553h3v3h-3zM943 553h3v3h-3zM956 553h3v3h-3zM958 553h3v3h-3zM960 553h3v3h-3zM961 553h3v3h-3zM965 553h3v3h-3zM970 553h3v3h-3zM995 553h3v3h-3zM1000 553h3v3h-3zM1003 553h3v3h-3zM1003 553h3v3h-3zM1004 553h3v3h-3zM1007 553h3v3h-3zM886 554h3v3h-3zM887 554h3v3h-3zM889 554h3v3h-3zM891 554h3v3h-3zM895 554h3v3h-3zM907 554h3v3h-3zM910 554h3v3h-3zM915 554h3v3h-3zM926 554h3v3h-3zM951 554h3v3h-3zM960 554h3v3h-3zM963 554h3v3h-3zM969 554h3v3h-3zM975 554h3v3h-3zM988 554h3v3h-3zM1001 554h3v3h-3zM1007 554h3v3h-3zM1014 554h3v3h-3zM892 555h3v3h-3zM906 555h3v3h-3zM913 555h3v3h-3zM916 555h3v3h-3zM928 555h3v3h-3zM928 555h3v3h-3zM929 555h3v3h-3zM931 555h3v3h-3zM949 555h3v3h-3zM955 555h3v3h-3zM955 555h3v3h-3zM972 555h3v3h-3zM981 555h3v3h-3zM993 555h3v3h-3zM1005 555h3v3h-3zM886 556h3v3h-3zM897 556h3v3h-3zM909 556h3v3h-3zM935 556h3v3h-3zM951 556h3v3h-3zM958 556h3v3h-3zM958 556h3v3h-3zM970 556h3v3h-3zM974 556h3v3h-3zM974 556h3v3h-3zM980 556h3v3h-3zM993 556h3v3h-3zM999 556h3v3h-3zM889 557h3v3h-3zM891 557h3v3h-3zM896 557h3v3h-3zM901 557h3v3h-3zM905 557h3v3h-3zM905 557h3v3h-3zM918 557h3v3h-3zM923 557h3v3h-3zM927 557h3v3h-3zM930 557h3v3h-3zM932 557h3v3h-3zM946 557h3v3h-3zM978 557h3v3h-3zM992 557h3v3h-3zM996 557h3v3h-3zM1008 557h3v3h-3zM881 558h3v3h-3zM885 558h3v3h-3zM890 558h3v3h-3zM892 558h3v3h-3zM896 558h3v3h-3zM906 558h3v3h-3zM930 558h3v3h-3zM932 558h3v3h-3zM950 558h3v3h-3zM958 558h3v3h-3zM960 558h3v3h-3zM977 558h3v3h-3zM979 558h3v3h-3zM989 558h3v3h-3zM993 558h3v3h-3zM996 558h3v3h-3zM998 558h3v3h-3zM1001 558h3v3h-3zM1004 558h3v3h-3zM1008 558h3v3h-3zM895 559h3v3h-3zM907 559h3v3h-3zM910 559h3v3h-3zM931 559h3v3h-3zM932 559h3v3h-3zM940 559h3v3h-3zM960 559h3v3h-3zM961 559h3v3h-3zM977 559h3v3h-3zM977 559h3v3h-3zM1017 559h3v3h-3zM886 560h3v3h-3zM886 560h3v3h-3zM895 560h3v3h-3zM896 560h3v3h-3zM904 560h3v3h-3zM904 560h3v3h-3zM912 560h3v3h-3zM915 560h3v3h-3zM922 560h3v3h-3zM955 560h3v3h-3zM963 560h3v3h-3zM964 560h3v3h-3zM971 560h3v3h-3zM974 560h3v3h-3zM983 560h3v3h-3zM991 560h3v3h-3zM1012 560h3v3h-3zM1012 560h3v3h-3zM1014 560h3v3h-3zM884 561h3v3h-3zM915 561h3v3h-3zM917 561h3v3h-3zM923 561h3v3h-3zM941 561h3v3h-3zM972 561h3v3h-3zM1018 561h3v3h-3zM913 562h3v3h-3zM947 562h3v3h-3z" fill="#cc0a2a"/>
<path d="M921 424h3v3h-3zM967 424h3v3h-3zM890 425h3v3h-3zM896 425h3v3h-3zM903 425h3v3h-3zM914 426h3v3h-3zM928 426h3v3h-3zM942 426h3v3h-3zM989 426h3v3h-3zM884 427h3v3h-3zM918 427h3v3h-3zM935 427h3v3h-3zM927 428h3v3h-3zM888 429h3v3h-3zM898 429h3v3h-3zM902 429h3v3h-3zM926 429h3v3h-3zM952 429h3v3h-3zM912 430h3v3h-3zM939 431h3v3h-3zM885 432h3v3h-3zM893 432h3v3h-3zM895 432h3v3h-3zM908 432h3v3h-3zM942 432h3v3h-3zM1014 432h3v3h-3zM888 433h3v3h-3zM915 433h3v3h-3zM947 434h3v3h-3zM886 435h3v3h-3zM902 435h3v3h-3zM920 435h3v3h-3zM941 435h3v3h-3zM948 435h3v3h-3zM916 436h3v3h-3zM923 436h3v3h-3zM936 436h3v3h-3zM888 437h3v3h-3zM892 437h3v3h-3zM904 437h3v3h-3zM913 437h3v3h-3zM914 437h3v3h-3zM889 438h3v3h-3zM906 438h3v3h-3zM908 438h3v3h-3zM919 438h3v3h-3zM931 438h3v3h-3zM942 438h3v3h-3zM945 438h3v3h-3zM887 439h3v3h-3zM893 439h3v3h-3zM907 439h3v3h-3zM915 439h3v3h-3zM927 439h3v3h-3zM883 440h3v3h-3zM904 440h3v3h-3zM909 440h3v3h-3zM952 440h3v3h-3zM888 441h3v3h-3zM893 441h3v3h-3zM909 441h3v3h-3zM919 441h3v3h-3zM928 441h3v3h-3zM930 441h3v3h-3zM932 441h3v3h-3zM947 441h3v3h-3zM958 441h3v3h-3zM907 442h3v3h-3zM918 442h3v3h-3zM926 442h3v3h-3zM904 443h3v3h-3zM909 443h3v3h-3zM922 443h3v3h-3zM930 443h3v3h-3zM900 444h3v3h-3zM919 444h3v3h-3zM892 445h3v3h-3zM934 445h3v3h-3zM938 445h3v3h-3zM956 445h3v3h-3zM983 445h3v3h-3zM891 446h3v3h-3zM894 446h3v3h-3zM895 446h3v3h-3zM910 446h3v3h-3zM927 446h3v3h-3zM936 446h3v3h-3zM944 446h3v3h-3zM965 446h3v3h-3zM908 447h3v3h-3zM926 447h3v3h-3zM927 447h3v3h-3zM935 447h3v3h-3zM956 448h3v3h-3zM956 448h3v3h-3zM958 448h3v3h-3zM892 449h3v3h-3zM896 449h3v3h-3zM906 449h3v3h-3zM919 449h3v3h-3zM930 449h3v3h-3zM936 449h3v3h-3zM936 449h3v3h-3zM884 450h3v3h-3zM914 450h3v3h-3zM927 450h3v3h-3zM928 450h3v3h-3zM929 450h3v3h-3zM888 451h3v3h-3zM889 451h3v3h-3zM904 451h3v3h-3zM929 451h3v3h-3zM939 451h3v3h-3zM883 452h3v3h-3zM895 452h3v3h-3zM904 452h3v3h-3zM927 452h3v3h-3zM932 452h3v3h-3zM959 452h3v3h-3zM889 453h3v3h-3zM922 453h3v3h-3zM929 453h3v3h-3zM896 454h3v3h-3zM903 454h3v3h-3zM905 454h3v3h-3zM905 454h3v3h-3zM926 454h3v3h-3zM891 455h3v3h-3zM925 455h3v3h-3zM948 455h3v3h-3zM949 455h3v3h-3zM962 455h3v3h-3zM968 455h3v3h-3zM893 456h3v3h-3zM929 456h3v3h-3zM937 456h3v3h-3zM942 456h3v3h-3zM958 456h3v3h-3zM1014 456h3v3h-3zM891 457h3v3h-3zM899 457h3v3h-3zM904 457h3v3h-3zM919 457h3v3h-3zM927 457h3v3h-3zM933 457h3v3h-3zM940 457h3v3h-3zM950 457h3v3h-3zM988 457h3v3h-3zM993 457h3v3h-3zM890 458h3v3h-3zM890 458h3v3h-3zM893 458h3v3h-3zM919 458h3v3h-3zM939 458h3v3h-3zM989 458h3v3h-3zM871 459h3v3h-3zM886 459h3v3h-3zM909 459h3v3h-3zM921 459h3v3h-3zM923 459h3v3h-3zM930 459h3v3h-3zM931 459h3v3h-3zM941 459h3v3h-3zM974 459h3v3h-3zM985 459h3v3h-3zM885 460h3v3h-3zM887 460h3v3h-3zM890 460h3v3h-3zM910 460h3v3h-3zM937 460h3v3h-3zM967 460h3v3h-3zM1016 460h3v3h-3zM887 461h3v3h-3zM891 461h3v3h-3zM912 461h3v3h-3zM927 461h3v3h-3zM928 461h3v3h-3zM942 461h3v3h-3zM964 461h3v3h-3zM966 461h3v3h-3zM892 462h3v3h-3zM907 462h3v3h-3zM910 462h3v3h-3zM916 462h3v3h-3zM931 462h3v3h-3zM932 462h3v3h-3zM932 462h3v3h-3zM948 462h3v3h-3zM951 462h3v3h-3zM956 462h3v3h-3zM965 462h3v3h-3zM888 463h3v3h-3zM929 463h3v3h-3zM930 463h3v3h-3zM964 463h3v3h-3zM873 464h3v3h-3zM894 464h3v3h-3zM895 464h3v3h-3zM927 464h3v3h-3zM942 464h3v3h-3zM947 464h3v3h-3zM951 464h3v3h-3zM965 464h3v3h-3zM965 464h3v3h-3zM966 464h3v3h-3zM884 465h3v3h-3zM899 465h3v3h-3zM907 465h3v3h-3zM927 465h3v3h-3zM960 465h3v3h-3zM963 465h3v3h-3zM887 466h3v3h-3zM892 466h3v3h-3zM895 466h3v3h-3zM962 466h3v3h-3zM965 466h3v3h-3zM970 466h3v3h-3zM1019 466h3v3h-3zM904 467h3v3h-3zM907 467h3v3h-3zM907 467h3v3h-3zM915 467h3v3h-3zM927 467h3v3h-3zM933 467h3v3h-3zM933 467h3v3h-3zM958 467h3v3h-3zM1021 467h3v3h-3zM906 468h3v3h-3zM914 468h3v3h-3zM919 468h3v3h-3zM935 468h3v3h-3zM959 468h3v3h-3zM971 468h3v3h-3zM975 468h3v3h-3zM1010 468h3v3h-3zM908 469h3v3h-3zM935 469h3v3h-3zM935 469h3v3h-3zM936 469h3v3h-3zM948 469h3v3h-3zM963 469h3v3h-3zM976 469h3v3h-3zM891 470h3v3h-3zM907 470h3v3h-3zM911 470h3v3h-3zM915 470h3v3h-3zM920 470h3v3h-3zM920 470h3v3h-3zM929 470h3v3h-3zM951 470h3v3h-3zM953 470h3v3h-3zM954 470h3v3h-3zM893 471h3v3h-3zM903 471h3v3h-3zM920 471h3v3h-3zM934 471h3v3h-3zM939 471h3v3h-3zM959 471h3v3h-3zM887 472h3v3h-3zM893 472h3v3h-3zM905 472h3v3h-3zM914 472h3v3h-3zM917 472h3v3h-3zM917 472h3v3h-3zM953 472h3v3h-3zM957 472h3v3h-3zM958 472h3v3h-3zM895 473h3v3h-3zM900 473h3v3h-3zM913 473h3v3h-3zM955 473h3v3h-3zM977 473h3v3h-3zM980 473h3v3h-3zM885 474h3v3h-3zM896 474h3v3h-3zM902 474h3v3h-3zM905 474h3v3h-3zM923 474h3v3h-3zM940 474h3v3h-3zM945 474h3v3h-3zM964 474h3v3h-3zM918 475h3v3h-3zM920 475h3v3h-3zM923 475h3v3h-3zM952 475h3v3h-3zM966 475h3v3h-3zM974 475h3v3h-3zM975 475h3v3h-3zM977 475h3v3h-3zM886 476h3v3h-3zM926 476h3v3h-3zM948 476h3v3h-3zM962 476h3v3h-3zM971 476h3v3h-3zM995 476h3v3h-3zM879 477h3v3h-3zM898 477h3v3h-3zM913 477h3v3h-3zM917 477h3v3h-3zM920 477h3v3h-3zM934 477h3v3h-3zM936 477h3v3h-3zM951 477h3v3h-3zM955 477h3v3h-3zM970 477h3v3h-3zM970 477h3v3h-3zM985 477h3v3h-3zM900 478h3v3h-3zM922 478h3v3h-3zM937 478h3v3h-3zM941 478h3v3h-3zM956 478h3v3h-3zM961 478h3v3h-3zM963 478h3v3h-3zM964 478h3v3h-3zM967 478h3v3h-3zM970 478h3v3h-3zM983 478h3v3h-3zM888 479h3v3h-3zM901 479h3v3h-3zM935 479h3v3h-3zM940 479h3v3h-3zM971 479h3v3h-3zM972 479h3v3h-3zM897 480h3v3h-3zM959 480h3v3h-3zM947 481h3v3h-3zM994 481h3v3h-3zM961 482h3v3h-3zM976 482h3v3h-3zM977 482h3v3h-3zM906 483h3v3h-3zM927 483h3v3h-3zM894 484h3v3h-3zM936 484h3v3h-3zM954 484h3v3h-3zM984 484h3v3h-3zM992 484h3v3h-3zM941 485h3v3h-3zM954 485h3v3h-3zM954 485h3v3h-3zM966 485h3v3h-3zM966 485h3v3h-3zM990 485h3v3h-3zM990 485h3v3h-3zM901 486h3v3h-3zM912 486h3v3h-3zM929 486h3v3h-3zM951 486h3v3h-3zM952 486h3v3h-3zM966 486h3v3h-3zM970 486h3v3h-3zM979 486h3v3h-3zM980 486h3v3h-3zM987 486h3v3h-3zM992 486h3v3h-3zM1019 486h3v3h-3zM897 487h3v3h-3zM908 487h3v3h-3zM923 487h3v3h-3zM926 487h3v3h-3zM942 487h3v3h-3zM949 487h3v3h-3zM957 487h3v3h-3zM958 487h3v3h-3zM971 487h3v3h-3zM976 487h3v3h-3zM884 488h3v3h-3zM899 488h3v3h-3zM910 488h3v3h-3zM920 488h3v3h-3zM942 488h3v3h-3zM949 488h3v3h-3zM966 488h3v3h-3zM978 488h3v3h-3zM983 488h3v3h-3zM886 489h3v3h-3zM912 489h3v3h-3zM937 489h3v3h-3zM944 489h3v3h-3zM961 489h3v3h-3zM971 489h3v3h-3zM976 489h3v3h-3zM979 489h3v3h-3zM891 490h3v3h-3zM907 490h3v3h-3zM911 490h3v3h-3zM923 490h3v3h-3zM932 490h3v3h-3zM934 490h3v3h-3zM939 490h3v3h-3zM939 490h3v3h-3zM942 490h3v3h-3zM949 490h3v3h-3zM956 490h3v3h-3zM902 491h3v3h-3zM907 491h3v3h-3zM917 491h3v3h-3zM928 491h3v3h-3zM935 491h3v3h-3zM935 491h3v3h-3zM979 491h3v3h-3zM911 492h3v3h-3zM922 492h3v3h-3zM932 492h3v3h-3zM938 492h3v3h-3zM939 492h3v3h-3zM956 492h3v3h-3zM988 492h3v3h-3zM892 493h3v3h-3zM910 493h3v3h-3zM917 493h3v3h-3zM918 493h3v3h-3zM934 493h3v3h-3zM940 493h3v3h-3zM958 493h3v3h-3zM977 493h3v3h-3zM993 493h3v3h-3zM887 494h3v3h-3zM939 494h3v3h-3zM955 494h3v3h-3zM968 494h3v3h-3zM968 494h3v3h-3zM975 494h3v3h-3zM975 494h3v3h-3zM884 495h3v3h-3zM900 495h3v3h-3zM906 495h3v3h-3zM906 495h3v3h-3zM909 495h3v3h-3zM913 495h3v3h-3zM956 495h3v3h-3zM957 495h3v3h-3zM966 495h3v3h-3zM978 495h3v3h-3zM905 496h3v3h-3zM910 496h3v3h-3zM918 496h3v3h-3zM950 496h3v3h-3zM975 496h3v3h-3zM886 497h3v3h-3zM909 497h3v3h-3zM947 497h3v3h-3zM950 497h3v3h-3zM950 497h3v3h-3zM956 497h3v3h-3zM957 497h3v3h-3zM905 498h3v3h-3zM933 498h3v3h-3zM950 498h3v3h-3zM967 498h3v3h-3zM991 498h3v3h-3zM883 499h3v3h-3zM978 499h3v3h-3zM983 499h3v3h-3zM880 500h3v3h-3zM884 500h3v3h-3zM898 500h3v3h-3zM917 500h3v3h-3zM958 500h3v3h-3zM983 500h3v3h-3zM896 501h3v3h-3zM918 501h3v3h-3zM933 501h3v3h-3zM948 501h3v3h-3zM966 501h3v3h-3zM973 501h3v3h-3zM1008 501h3v3h-3zM885 502h3v3h-3zM923 502h3v3h-3zM924 502h3v3h-3zM926 502h3v3h-3zM959 502h3v3h-3zM961 502h3v3h-3zM968 502h3v3h-3zM980 502h3v3h-3zM889 503h3v3h-3zM890 503h3v3h-3zM907 503h3v3h-3zM944 503h3v3h-3zM955 503h3v3h-3zM975 503h3v3h-3zM885 504h3v3h-3zM937 504h3v3h-3zM953 504h3v3h-3zM992 504h3v3h-3zM999 504h3v3h-3zM903 505h3v3h-3zM904 505h3v3h-3zM905 505h3v3h-3zM917 505h3v3h-3zM937 505h3v3h-3zM940 505h3v3h-3zM942 505h3v3h-3zM890 506h3v3h-3zM890 506h3v3h-3zM905 506h3v3h-3zM907 506h3v3h-3zM914 506h3v3h-3zM937 506h3v3h-3zM939 506h3v3h-3zM963 506h3v3h-3zM986 506h3v3h-3zM991 506h3v3h-3zM884 507h3v3h-3zM904 507h3v3h-3zM904 507h3v3h-3zM905 507h3v3h-3zM944 507h3v3h-3zM886 508h3v3h-3zM895 508h3v3h-3zM903 508h3v3h-3zM939 508h3v3h-3zM940 508h3v3h-3zM884 509h3v3h-3zM925 509h3v3h-3zM975 509h3v3h-3zM990 509h3v3h-3zM911 510h3v3h-3zM925 510h3v3h-3zM928 510h3v3h-3zM987 510h3v3h-3zM903 511h3v3h-3zM922 511h3v3h-3zM951 511h3v3h-3zM974 511h3v3h-3zM891 512h3v3h-3zM892 512h3v3h-3zM897 512h3v3h-3zM908 512h3v3h-3zM951 512h3v3h-3zM963 512h3v3h-3zM982 512h3v3h-3zM989 512h3v3h-3zM891 513h3v3h-3zM900 513h3v3h-3zM911 513h3v3h-3zM916 513h3v3h-3zM918 513h3v3h-3zM951 513h3v3h-3zM957 513h3v3h-3zM959 513h3v3h-3zM961 513h3v3h-3zM970 513h3v3h-3zM971 513h3v3h-3zM977 513h3v3h-3zM977 513h3v3h-3zM979 513h3v3h-3zM899 514h3v3h-3zM903 514h3v3h-3zM909 514h3v3h-3zM944 514h3v3h-3zM945 514h3v3h-3zM967 514h3v3h-3zM970 514h3v3h-3zM972 514h3v3h-3zM885 515h3v3h-3zM886 515h3v3h-3zM901 515h3v3h-3zM904 515h3v3h-3zM937 515h3v3h-3zM955 515h3v3h-3zM962 515h3v3h-3zM966 515h3v3h-3zM975 515h3v3h-3zM874 516h3v3h-3zM887 516h3v3h-3zM905 516h3v3h-3zM920 516h3v3h-3zM923 516h3v3h-3zM953 516h3v3h-3zM1015 516h3v3h-3zM893 517h3v3h-3zM900 517h3v3h-3zM939 517h3v3h-3zM953 517h3v3h-3zM887 518h3v3h-3zM923 518h3v3h-3zM926 518h3v3h-3zM937 518h3v3h-3zM950 518h3v3h-3zM968 518h3v3h-3zM969 518h3v3h-3zM995 518h3v3h-3zM890 519h3v3h-3zM916 519h3v3h-3zM917 519h3v3h-3zM918 519h3v3h-3zM934 519h3v3h-3zM942 519h3v3h-3zM947 519h3v3h-3zM953 519h3v3h-3zM969 519h3v3h-3zM971 519h3v3h-3zM982 519h3v3h-3zM989 519h3v3h-3zM914 520h3v3h-3zM922 520h3v3h-3zM925 520h3v3h-3zM928 520h3v3h-3zM928 520h3v3h-3zM933 520h3v3h-3zM945 520h3v3h-3zM965 520h3v3h-3zM976 520h3v3h-3zM999 520h3v3h-3zM883 521h3v3h-3zM899 521h3v3h-3zM905 521h3v3h-3zM916 521h3v3h-3zM923 521h3v3h-3zM932 521h3v3h-3zM936 521h3v3h-3zM944 521h3v3h-3zM972 521h3v3h-3zM977 521h3v3h-3zM883 522h3v3h-3zM904 522h3v3h-3zM949 522h3v3h-3zM952 522h3v3h-3zM970 522h3v3h-3zM923 523h3v3h-3zM926 523h3v3h-3zM968 523h3v3h-3zM971 523h3v3h-3zM978 523h3v3h-3zM888 524h3v3h-3zM899 524h3v3h-3zM955 524h3v3h-3zM974 524h3v3h-3zM999 524h3v3h-3zM895 525h3v3h-3zM916 525h3v3h-3zM917 525h3v3h-3zM930 525h3v3h-3zM933 525h3v3h-3zM950 525h3v3h-3zM952 525h3v3h-3zM975 525h3v3h-3zM902 526h3v3h-3zM936 526h3v3h-3zM965 526h3v3h-3zM966 526h3v3h-3zM977 526h3v3h-3zM899 527h3v3h-3zM902 527h3v3h-3zM907 527h3v3h-3zM908 527h3v3h-3zM944 527h3v3h-3zM947 527h3v3h-3zM950 527h3v3h-3zM950 527h3v3h-3zM957 527h3v3h-3zM960 527h3v3h-3zM991 527h3v3h-3zM886 528h3v3h-3zM895 528h3v3h-3zM895 528h3v3h-3zM950 528h3v3h-3zM968 528h3v3h-3zM996 528h3v3h-3zM891 529h3v3h-3zM891 529h3v3h-3zM894 529h3v3h-3zM897 529h3v3h-3zM934 529h3v3h-3zM934 529h3v3h-3zM943 529h3v3h-3zM951 529h3v3h-3zM973 529h3v3h-3zM980 529h3v3h-3zM996 529h3v3h-3zM1021 529h3v3h-3zM883 530h3v3h-3zM893 530h3v3h-3zM916 530h3v3h-3zM918 530h3v3h-3zM924 530h3v3h-3zM924 530h3v3h-3zM931 530h3v3h-3zM958 530h3v3h-3zM963 530h3v3h-3zM964 530h3v3h-3zM966 530h3v3h-3zM967 530h3v3h-3zM888 531h3v3h-3zM907 531h3v3h-3zM918 531h3v3h-3zM961 531h3v3h-3zM979 531h3v3h-3zM993 531h3v3h-3zM994 531h3v3h-3zM905 532h3v3h-3zM906 532h3v3h-3zM922 532h3v3h-3zM904 533h3v3h-3zM917 533h3v3h-3zM920 533h3v3h-3zM931 533h3v3h-3zM934 533h3v3h-3zM964 533h3v3h-3zM965 533h3v3h-3zM987 533h3v3h-3zM933 534h3v3h-3zM948 534h3v3h-3zM951 534h3v3h-3zM970 534h3v3h-3zM974 534h3v3h-3zM978 534h3v3h-3zM990 534h3v3h-3zM887 535h3v3h-3zM893 535h3v3h-3zM912 535h3v3h-3zM953 535h3v3h-3zM956 535h3v3h-3zM997 535h3v3h-3zM882 536h3v3h-3zM894 536h3v3h-3zM901 536h3v3h-3zM918 536h3v3h-3zM928 536h3v3h-3zM964 536h3v3h-3zM971 536h3v3h-3zM954 537h3v3h-3zM955 537h3v3h-3zM970 537h3v3h-3zM978 537h3v3h-3zM992 537h3v3h-3zM951 538h3v3h-3zM912 539h3v3h-3zM923 539h3v3h-3zM929 539h3v3h-3zM933 539h3v3h-3zM980 539h3v3h-3zM882 540h3v3h-3zM884 540h3v3h-3zM888 540h3v3h-3zM905 540h3v3h-3zM923 540h3v3h-3zM930 540h3v3h-3zM946 540h3v3h-3zM1005 540h3v3h-3zM884 541h3v3h-3zM907 541h3v3h-3zM910 541h3v3h-3zM912 541h3v3h-3zM924 541h3v3h-3zM927 541h3v3h-3zM928 541h3v3h-3zM947 541h3v3h-3zM966 541h3v3h-3zM994 541h3v3h-3zM884 542h3v3h-3zM905 542h3v3h-3zM911 542h3v3h-3zM914 542h3v3h-3zM932 542h3v3h-3zM944 542h3v3h-3zM906 543h3v3h-3zM931 543h3v3h-3zM978 543h3v3h-3zM922 544h3v3h-3zM955 544h3v3h-3zM964 544h3v3h-3zM967 544h3v3h-3zM981 544h3v3h-3zM986 544h3v3h-3zM895 545h3v3h-3zM921 545h3v3h-3zM921 545h3v3h-3zM926 545h3v3h-3zM928 545h3v3h-3zM949 545h3v3h-3zM954 545h3v3h-3zM965 545h3v3h-3zM976 545h3v3h-3zM980 545h3v3h-3zM981 545h3v3h-3zM909 546h3v3h-3zM913 546h3v3h-3zM913 546h3v3h-3zM919 546h3v3h-3zM938 546h3v3h-3zM956 546h3v3h-3zM966 546h3v3h-3zM969 546h3v3h-3zM974 546h3v3h-3zM897 547h3v3h-3zM900 547h3v3h-3zM927 547h3v3h-3zM930 547h3v3h-3zM933 547h3v3h-3zM943 547h3v3h-3zM953 547h3v3h-3zM966 547h3v3h-3zM967 547h3v3h-3zM890 548h3v3h-3zM890 548h3v3h-3zM893 548h3v3h-3zM901 548h3v3h-3zM906 548h3v3h-3zM916 548h3v3h-3zM923 548h3v3h-3zM925 548h3v3h-3zM929 548h3v3h-3zM937 548h3v3h-3zM937 548h3v3h-3zM948 548h3v3h-3zM967 548h3v3h-3zM1005 548h3v3h-3zM1013 548h3v3h-3zM891 549h3v3h-3zM902 549h3v3h-3zM907 549h3v3h-3zM930 549h3v3h-3zM941 549h3v3h-3zM950 549h3v3h-3zM968 549h3v3h-3zM976 549h3v3h-3zM999 549h3v3h-3zM1007 549h3v3h-3zM891 550h3v3h-3zM892 550h3v3h-3zM900 550h3v3h-3zM935 550h3v3h-3zM944 550h3v3h-3zM1007 550h3v3h-3zM890 551h3v3h-3zM891 551h3v3h-3zM904 551h3v3h-3zM921 551h3v3h-3zM962 551h3v3h-3zM995 551h3v3h-3zM1009 551h3v3h-3zM891 552h3v3h-3zM893 552h3v3h-3zM897 552h3v3h-3zM972 552h3v3h-3zM975 552h3v3h-3zM976 552h3v3h-3zM977 552h3v3h-3zM912 553h3v3h-3zM912 553h3v3h-3zM917 553h3v3h-3zM926 553h3v3h-3zM947 553h3v3h-3zM977 553h3v3h-3zM899 554h3v3h-3zM916 554h3v3h-3zM954 554h3v3h-3zM969 554h3v3h-3zM985 554h3v3h-3zM889 555h3v3h-3zM908 555h3v3h-3zM927 555h3v3h-3zM928 555h3v3h-3zM952 555h3v3h-3zM953 555h3v3h-3zM959 555h3v3h-3zM997 555h3v3h-3zM882 556h3v3h-3zM885 556h3v3h-3zM888 556h3v3h-3zM897 556h3v3h-3zM902 556h3v3h-3zM915 556h3v3h-3zM922 556h3v3h-3zM941 556h3v3h-3zM962 556h3v3h-3zM990 556h3v3h-3zM997 556h3v3h-3zM1019 556h3v3h-3zM895 557h3v3h-3zM904 557h3v3h-3zM905 557h3v3h-3zM905 557h3v3h-3zM916 557h3v3h-3zM931 557h3v3h-3zM960 557h3v3h-3zM972 557h3v3h-3zM985 557h3v3h-3zM881 558h3v3h-3zM882 558h3v3h-3zM893 558h3v3h-3zM899 558h3v3h-3zM911 558h3v3h-3zM933 558h3v3h-3zM979 558h3v3h-3zM993 558h3v3h-3zM1004 558h3v3h-3zM883 559h3v3h-3zM892 559h3v3h-3zM893 559h3v3h-3zM901 559h3v3h-3zM903 559h3v3h-3zM947 559h3v3h-3zM963 559h3v3h-3zM993 559h3v3h-3zM994 559h3v3h-3zM994 559h3v3h-3zM996 559h3v3h-3zM1011 559h3v3h-3zM892 560h3v3h-3zM924 560h3v3h-3zM943 560h3v3h-3zM957 560h3v3h-3zM967 560h3v3h-3zM972 560h3v3h-3zM983 560h3v3h-3zM1016 560h3v3h-3zM893 561h3v3h-3zM911 561h3v3h-3zM955 561h3v3h-3zM960 561h3v3h-3zM982 561h3v3h-3zM982 561h3v3h-3zM991 561h3v3h-3zM1016 562h3v3h-3z" fill="#b80622"/>
</g>
<path d="M442.8,280.3 L442.8,226 L445.5,223.3 L450.4,233.7 L456.7,237.2 L462,236.5 L467.8,236.8 L475.4,242.8 L480.3,251.1 L483,259.4 L480.3,266.4 L476.8,273.3 L476,280.3 Z" fill="#fff7f5" stroke="#d01c36" stroke-width="1.2" stroke-linejoin="round"/>
<path d="M444.3,279 L444.3,228 Q445,226 446,227.5" fill="none" stroke="#f4b0a8" stroke-width="1"/>
<path d="M445.8,280.3 L444.8,233.1 L445.3,230.1 L448.6,238.7 L455.9,242.6 L458.9,241.6 L464.9,241.2 L472.2,246.4 L475.7,254.6 L478.2,262.1 L476.5,269.2 L472.3,274.5 L472.2,280.3" fill="none" stroke="#dc5a64" stroke-width="0.65" stroke-linejoin="round"/>
<path d="M446.7,280.3 L444.6,240.0 L445.1,237.0 L449.3,244.4 L452.5,248.7 L457.2,246.6 L463.0,247.4 L467.8,252.5 L470.5,258.6 L473.3,263.4 L472.0,270.8 L468.2,275.3 L468.3,280.3" fill="none" stroke="#e06a72" stroke-width="0.65" stroke-linejoin="round"/>
<path d="M447.6,280.3 L444.5,246.8 L445.0,243.8 L447.6,251.1 L452.7,252.0 L456.3,252.6 L459.7,253.2 L463.9,256.9 L468.1,260.7 L469.8,266.7 L467.2,270.6 L465.5,275.3 L464.5,280.3" fill="none" stroke="#e47a80" stroke-width="0.65" stroke-linejoin="round"/>
<path d="M448.5,280.3 L444.3,253.7 L444.8,250.7 L448.2,255.5 L450.8,257.6 L453.6,256.8 L455.6,258.3 L460.9,261.0 L463.9,264.4 L465.1,268.6 L464.0,273.4 L461.3,277.8 L460.6,280.3" fill="none" stroke="#e88a8e" stroke-width="0.65" stroke-linejoin="round"/>
<path d="M449.4,280.3 L444.1,260.5 L444.6,257.5 L447.2,262.4 L448.0,262.7 L450.2,262.0 L452.8,263.8 L455.7,264.8 L458.5,269.5 L460.7,272.4 L457.8,274.8 L457.6,276.4 L456.8,280.3" fill="none" stroke="#ec9a9a" stroke-width="0.65" stroke-linejoin="round"/>
<path d="M450.3,280.3 L443.9,267.3 L444.4,264.3 L446.2,266.9 L447.8,268.6 L449.4,268.1 L450.8,267.4 L452.8,268.9 L454.1,272.2 L455.6,274.2 L453.0,276.5 L452.5,278.9 L453.0,280.3" fill="none" stroke="#f0aaa8" stroke-width="0.65" stroke-linejoin="round"/>
<path d="M488.8,281 Q490.5,273.6 496.5,273.5 Q503.5,273.8 505.7,281 Z" fill="#fbe6da" stroke="#d45040" stroke-width="0.9"/>
<path d="M492,280.5 Q494,276 497,275.8 Q501,276 503,280.5" fill="none" stroke="#eca080" stroke-width="0.5"/>
<line x1="151.5" y1="211.5" x2="151.5" y2="289.5" stroke="#4a4646" stroke-width="1" />
<line x1="98.5" y1="262.5" x2="177.5" y2="262.5" stroke="#4a4646" stroke-width="1" />
<rect x="98.5" y="211.5" width="79.0" height="78.0" fill="none" stroke="#4d6680" stroke-width="1.1"/>
<line x1="237.5" y1="211.5" x2="237.5" y2="289.5" stroke="#4a4646" stroke-width="1" />
<line x1="179.5" y1="262.5" x2="264.5" y2="262.5" stroke="#4a4646" stroke-width="1" />
<rect x="179.5" y="211.5" width="85.0" height="78.0" fill="none" stroke="#45a5b5" stroke-width="1.1"/>
<line x1="321.5" y1="211.5" x2="321.5" y2="289.5" stroke="#4a4646" stroke-width="1" />
<line x1="266.5" y1="262.5" x2="349.5" y2="262.5" stroke="#4a4646" stroke-width="1" />
<rect x="266.5" y="211.5" width="83.0" height="78.0" fill="none" stroke="#8a6a9c" stroke-width="1.1"/>
<line x1="406.5" y1="211.5" x2="406.5" y2="289.5" stroke="#4a4646" stroke-width="1" />
<line x1="351.5" y1="262.5" x2="431.5" y2="262.5" stroke="#4a4646" stroke-width="1" />
<rect x="351.5" y="211.5" width="80.0" height="78.0" fill="none" stroke="#d4a060" stroke-width="1.1"/>
<path d="M433.5,263.5 H512.5 M488.5,211.5 V289.5" stroke="#5a3a3e" stroke-width="1" fill="none" opacity="0.6"/>
<rect x="433.5" y="211.5" width="79.0" height="78.0" fill="none" stroke="#b05566" stroke-width="1.1"/>
<line x1="58.5" y1="361.5" x2="58.5" y2="492.6" stroke="#222" stroke-width="1.1" />
<line x1="55.0" y1="492.0" x2="58.5" y2="492.0" stroke="#222" stroke-width="1.1" />
<text transform="translate(51.6,494.7)" font-size="7.7" text-anchor="end" fill="#262626" stroke="#262626" stroke-width="0.16" >0</text>
<line x1="55.0" y1="466.4" x2="58.5" y2="466.4" stroke="#222" stroke-width="1.1" />
<text transform="translate(51.6,469.09999999999997)" font-size="7.7" text-anchor="end" fill="#262626" stroke="#262626" stroke-width="0.16" >20</text>
<line x1="55.0" y1="440.8" x2="58.5" y2="440.8" stroke="#222" stroke-width="1.1" />
<text transform="translate(51.6,443.5)" font-size="7.7" text-anchor="end" fill="#262626" stroke="#262626" stroke-width="0.16" >40</text>
<line x1="55.0" y1="415.2" x2="58.5" y2="415.2" stroke="#222" stroke-width="1.1" />
<text transform="translate(51.6,417.9)" font-size="7.7" text-anchor="end" fill="#262626" stroke="#262626" stroke-width="0.16" >60</text>
<line x1="55.0" y1="389.6" x2="58.5" y2="389.6" stroke="#222" stroke-width="1.1" />
<text transform="translate(51.6,392.3)" font-size="7.7" text-anchor="end" fill="#262626" stroke="#262626" stroke-width="0.16" >80</text>
<line x1="55.0" y1="364.0" x2="58.5" y2="364.0" stroke="#222" stroke-width="1.1" />
<text transform="translate(51.6,366.7)" font-size="7.7" text-anchor="end" fill="#262626" stroke="#262626" stroke-width="0.16" >100</text>
<text transform="translate(31.4,424.5) rotate(-90)" font-size="8.6" text-anchor="middle" fill="#262626" stroke="#262626" stroke-width="0.16" textLength="79" lengthAdjust="spacingAndGlyphs" >GP33 negative (% CD8s)</text>
<rect x="62.5" y="488" width="14.5" height="4" fill="#1a4c84"/>
<rect x="82" y="484.3" width="15" height="7.699999999999989" fill="#3caade"/>
<rect x="101.3" y="471.3" width="15.0" height="20.69999999999999" fill="#5a206e"/>
<rect x="120.8" y="433.8" width="15.500000000000014" height="58.19999999999999" fill="#c8701e"/>
<rect x="140.5" y="423" width="15.0" height="69" fill="#cc0c2a"/>
<line x1="57.9" y1="492" x2="159.5" y2="492" stroke="#222" stroke-width="1.2" />
<path d="M69.7,482.5 L69.7,347.5 L148.3,347.5 L148.3,354" fill="none" stroke="#333" stroke-width="1"/>
<path d="M89.3,474.6 L89.3,358.4 L148.3,358.4 L148.3,362.3" fill="none" stroke="#333" stroke-width="1"/>
<path d="M108.5,445.8 L108.5,369.7 L148.3,369.7 L148.3,373.7" fill="none" stroke="#333" stroke-width="1"/>
<path d="M128.6,385.7 L128.6,380.9 L148.3,380.9 L148.3,385.7" fill="none" stroke="#333" stroke-width="1"/>
<text transform="translate(108.9,344.9)" font-size="8.2" text-anchor="middle" fill="#262626" stroke="#262626" stroke-width="0.16" ><tspan font-style="italic" font-size="8">P</tspan><tspan font-size="9.4" dx="1.8" dy="0.3">&lt;</tspan><tspan dx="0.2" dy="-0.3">.0001</tspan></text>
<text transform="translate(118.8,356.3)" font-size="8.2" text-anchor="middle" fill="#262626" stroke="#262626" stroke-width="0.16" ><tspan font-style="italic" font-size="8">P</tspan><tspan font-size="9.4" dx="1.8" dy="0.3">&lt;</tspan><tspan dx="0.2" dy="-0.3">.0001</tspan></text>
<text transform="translate(128.7,367.2)" font-size="8.2" text-anchor="middle" fill="#262626" stroke="#262626" stroke-width="0.16" ><tspan font-style="italic" font-size="8">P</tspan><tspan font-size="9.4" dx="1.8" dy="0.3">&lt;</tspan><tspan dx="0.2" dy="-0.3">.0001</tspan></text>
<text transform="translate(138.4,378.2)" font-size="8.4" text-anchor="middle" fill="#262626" stroke="#262626" stroke-width="0.16" >ns</text>
<circle cx="89.5" cy="477.5" r="0.6" fill="#2a2a2a"/>
<circle cx="89.5" cy="481.0" r="0.6" fill="#2a2a2a"/>
<circle cx="89.5" cy="488.4" r="0.6" fill="#2a2a2a"/>
<circle cx="108.5" cy="456.2" r="0.6" fill="#2a2a2a"/>
<circle cx="108.5" cy="462.0" r="0.6" fill="#2a2a2a"/>
<circle cx="108.5" cy="467.7" r="0.6" fill="#2a2a2a"/>
<circle cx="108.5" cy="477.0" r="0.6" fill="#2a2a2a"/>
<circle cx="128.6" cy="395.5" r="0.6" fill="#2a2a2a"/>
<circle cx="128.6" cy="397.7" r="0.6" fill="#2a2a2a"/>
<circle cx="128.6" cy="407.5" r="0.6" fill="#2a2a2a"/>
<circle cx="128.6" cy="419.5" r="0.6" fill="#2a2a2a"/>
<circle cx="128.6" cy="436.0" r="0.6" fill="#2a2a2a"/>
<circle cx="128.6" cy="439.5" r="0.6" fill="#2a2a2a"/>
<circle cx="128.6" cy="444.5" r="0.6" fill="#2a2a2a"/>
<circle cx="128.6" cy="457.5" r="0.6" fill="#2a2a2a"/>
<circle cx="128.6" cy="472.5" r="0.6" fill="#2a2a2a"/>
<circle cx="148.3" cy="395.5" r="0.6" fill="#2a2a2a"/>
<circle cx="148.3" cy="397.7" r="0.6" fill="#2a2a2a"/>
<circle cx="148.3" cy="408.6" r="0.6" fill="#2a2a2a"/>
<circle cx="148.3" cy="411.2" r="0.6" fill="#2a2a2a"/>
<circle cx="148.3" cy="416.9" r="0.6" fill="#2a2a2a"/>
<circle cx="148.3" cy="433.0" r="0.6" fill="#2a2a2a"/>
<circle cx="148.3" cy="450.0" r="0.6" fill="#2a2a2a"/>
<line x1="243.5" y1="361.5" x2="243.5" y2="492.70000000000005" stroke="#222" stroke-width="1.1" />
<line x1="240.0" y1="492.1" x2="243.5" y2="492.1" stroke="#222" stroke-width="1.1" />
<text transform="translate(236.8,494.8)" font-size="7.7" text-anchor="end" fill="#262626" stroke="#262626" stroke-width="0.16" >0</text>
<line x1="240.0" y1="466.5" x2="243.5" y2="466.5" stroke="#222" stroke-width="1.1" />
<text transform="translate(236.8,469.2)" font-size="7.7" text-anchor="end" fill="#262626" stroke="#262626" stroke-width="0.16" >20</text>
<line x1="240.0" y1="440.90000000000003" x2="243.5" y2="440.90000000000003" stroke="#222" stroke-width="1.1" />
<text transform="translate(236.8,443.6)" font-size="7.7" text-anchor="end" fill="#262626" stroke="#262626" stroke-width="0.16" >40</text>
<line x1="240.0" y1="415.3" x2="243.5" y2="415.3" stroke="#222" stroke-width="1.1" />
<text transform="translate(236.8,418.0)" font-size="7.7" text-anchor="end" fill="#262626" stroke="#262626" stroke-width="0.16" >60</text>
<line x1="240.0" y1="389.70000000000005" x2="243.5" y2="389.70000000000005" stroke="#222" stroke-width="1.1" />
<text transform="translate(236.8,392.40000000000003)" font-size="7.7" text-anchor="end" fill="#262626" stroke="#262626" stroke-width="0.16" >80</text>
<line x1="240.0" y1="364.1" x2="243.5" y2="364.1" stroke="#222" stroke-width="1.1" />
<text transform="translate(236.8,366.8)" font-size="7.7" text-anchor="end" fill="#262626" stroke="#262626" stroke-width="0.16" >100</text>
<line x1="241.7" y1="479.3" x2="243.5" y2="479.3" stroke="#222" stroke-width="0.8" />
<line x1="241.7" y1="453.70000000000005" x2="243.5" y2="453.70000000000005" stroke="#222" stroke-width="0.8" />
<line x1="241.7" y1="428.1" x2="243.5" y2="428.1" stroke="#222" stroke-width="0.8" />
<line x1="241.7" y1="402.5" x2="243.5" y2="402.5" stroke="#222" stroke-width="0.8" />
<line x1="241.7" y1="376.90000000000003" x2="243.5" y2="376.90000000000003" stroke="#222" stroke-width="0.8" />
<text transform="translate(208.2,427.1) rotate(-90)" font-size="8.5" text-anchor="middle" fill="#262626" stroke="#262626" stroke-width="0.16" textLength="42.9" lengthAdjust="spacingAndGlyphs" >GP33 negative</text>
<text transform="translate(217.1,427.2) rotate(-90)" font-size="8.5" text-anchor="middle" fill="#262626" stroke="#262626" stroke-width="0.16" textLength="83.3" lengthAdjust="spacingAndGlyphs" >(% of IL-18r1+ CD8 T cells)</text>
<rect x="253" y="446.2" width="14.800000000000011" height="45.900000000000034" fill="#1a4c84"/>
<rect x="274" y="463.6" width="14.800000000000011" height="28.5" fill="#3caade"/>
<rect x="295" y="397.7" width="14.899999999999977" height="94.40000000000003" fill="#5a206e"/>
<rect x="316" y="394.8" width="14.899999999999977" height="97.30000000000001" fill="#c8701e"/>
<rect x="337.1" y="397.2" width="14.899999999999977" height="94.90000000000003" fill="#cc0c2a"/>
<line x1="242.9" y1="492.1" x2="362.5" y2="492.1" stroke="#222" stroke-width="1.2" />
<path d="M260.2,350.5 L260.2,344.5 L344.5,344.5 L344.5,377" fill="none" stroke="#333" stroke-width="1"/>
<path d="M260.2,362.9 L260.2,359.3 L323.3,359.3 L323.3,377" fill="none" stroke="#333" stroke-width="1"/>
<path d="M260.2,429.6 L260.2,371.2 L302.8,371.2 L302.8,377" fill="none" stroke="#333" stroke-width="1"/>
<circle cx="260.4" cy="434.9" r="0.6" fill="#2a2a2a"/>
<circle cx="260.4" cy="441.8" r="0.6" fill="#2a2a2a"/>
<circle cx="281.4" cy="403.4" r="0.6" fill="#2a2a2a"/>
<circle cx="281.4" cy="441.8" r="0.6" fill="#2a2a2a"/>
<circle cx="281.4" cy="445.5" r="0.6" fill="#2a2a2a"/>
<circle cx="281.4" cy="461.0" r="0.6" fill="#2a2a2a"/>
<circle cx="281.4" cy="469.0" r="0.6" fill="#2a2a2a"/>
<circle cx="278.0" cy="478.4" r="0.6" fill="#2a2a2a"/>
<circle cx="284.5" cy="478.4" r="0.6" fill="#2a2a2a"/>
<circle cx="281.4" cy="485.0" r="0.6" fill="#2a2a2a"/>
<circle cx="302.0" cy="381.9" r="0.6" fill="#2a2a2a"/>
<circle cx="299.0" cy="386.0" r="0.6" fill="#2a2a2a"/>
<circle cx="305.0" cy="386.0" r="0.6" fill="#2a2a2a"/>
<circle cx="302.0" cy="389.0" r="0.6" fill="#2a2a2a"/>
<circle cx="302.0" cy="420.0" r="0.6" fill="#2a2a2a"/>
<circle cx="323.4" cy="382.0" r="0.6" fill="#2a2a2a"/>
<circle cx="323.4" cy="388.0" r="0.6" fill="#2a2a2a"/>
<circle cx="323.4" cy="408.0" r="0.6" fill="#2a2a2a"/>
<circle cx="344.5" cy="386.0" r="0.6" fill="#2a2a2a"/>
<circle cx="341.0" cy="388.0" r="0.6" fill="#2a2a2a"/>
<circle cx="348.0" cy="388.0" r="0.6" fill="#2a2a2a"/>
<circle cx="344.5" cy="391.0" r="0.6" fill="#2a2a2a"/>
<circle cx="341.0" cy="392.0" r="0.6" fill="#2a2a2a"/>
<circle cx="344.5" cy="410.0" r="0.6" fill="#2a2a2a"/>
<text transform="translate(302.4,342.1)" font-size="8.4" text-anchor="middle" fill="#262626" stroke="#262626" stroke-width="0.16" ><tspan font-style="italic" font-size="8">P</tspan><tspan font-size="9.6" dx="1.8" dy="0.2">=</tspan><tspan dx="0.8" dy="-0.2">.0015</tspan></text>
<text transform="translate(292.4,357.1)" font-size="8.4" text-anchor="middle" fill="#262626" stroke="#262626" stroke-width="0.16" ><tspan font-style="italic" font-size="8">P</tspan><tspan font-size="9.6" dx="1.8" dy="0.2">=</tspan><tspan dx="0.8" dy="-0.2">.0034</tspan></text>
<text transform="translate(281.7,369.7)" font-size="8.4" text-anchor="middle" fill="#262626" stroke="#262626" stroke-width="0.16" ><tspan font-style="italic" font-size="8">P</tspan><tspan font-size="9.6" dx="1.8" dy="0.2">=</tspan><tspan dx="0.8" dy="-0.2">.0034</tspan></text>
</g>
</svg></body></html>
